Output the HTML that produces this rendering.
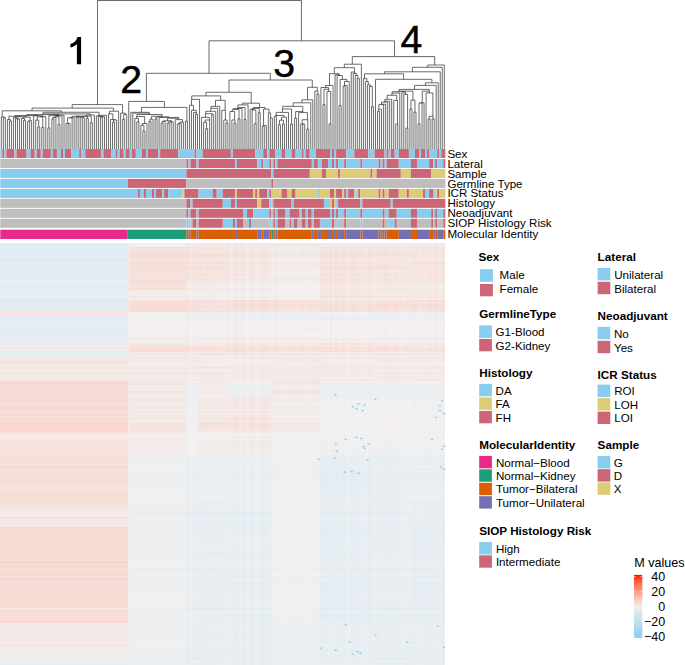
<!DOCTYPE html>
<html><head><meta charset="utf-8"><style>
html,body{margin:0;padding:0;background:#fff;overflow:hidden;}
svg{display:block;}
text{font-family:"Liberation Sans",sans-serif;}
</style></head><body>
<svg width="685" height="665" viewBox="0 0 685 665">
<rect width="685" height="665" fill="#fff"/>
<g shape-rendering="crispEdges">
<rect x="0.3" y="243" width="127.7" height="2" fill="#e6edf2"/>
<rect x="128.0" y="243" width="58.0" height="2" fill="#f3edec"/>
<rect x="186.0" y="243" width="12.0" height="2" fill="#f4e7e4"/>
<rect x="198.0" y="243" width="30.0" height="2" fill="#f5e5e1"/>
<rect x="228.0" y="243" width="44.0" height="2" fill="#f4e6e3"/>
<rect x="272.0" y="243" width="48.0" height="2" fill="#f5e5e1"/>
<rect x="320.0" y="243" width="54.0" height="2" fill="#f4e7e4"/>
<rect x="374.0" y="243" width="38.0" height="2" fill="#f4e6e3"/>
<rect x="412.0" y="243" width="33.3" height="2" fill="#f4e6e3"/>
<rect x="0.3" y="245" width="127.7" height="2" fill="#e4edf2"/>
<rect x="128.0" y="245" width="58.0" height="2" fill="#f2f0ef"/>
<rect x="186.0" y="245" width="12.0" height="2" fill="#f3ecea"/>
<rect x="198.0" y="245" width="30.0" height="2" fill="#f4e7e3"/>
<rect x="228.0" y="245" width="44.0" height="2" fill="#f4e9e7"/>
<rect x="272.0" y="245" width="48.0" height="2" fill="#f4e8e6"/>
<rect x="320.0" y="245" width="54.0" height="2" fill="#f3eae9"/>
<rect x="374.0" y="245" width="38.0" height="2" fill="#f3ebe9"/>
<rect x="412.0" y="245" width="33.3" height="2" fill="#f3ebe9"/>
<rect x="0.3" y="247" width="127.7" height="1" fill="#e4edf2"/>
<rect x="128.0" y="247" width="58.0" height="1" fill="#f7dcd5"/>
<rect x="186.0" y="247" width="12.0" height="1" fill="#f6e0da"/>
<rect x="198.0" y="247" width="30.0" height="1" fill="#f5e2de"/>
<rect x="228.0" y="247" width="44.0" height="1" fill="#f4e6e3"/>
<rect x="272.0" y="247" width="48.0" height="1" fill="#f3ebe9"/>
<rect x="320.0" y="247" width="54.0" height="1" fill="#f6dfd9"/>
<rect x="374.0" y="247" width="38.0" height="1" fill="#f5e2de"/>
<rect x="412.0" y="247" width="33.3" height="1" fill="#f5e2dd"/>
<rect x="0.3" y="248" width="127.7" height="1" fill="#e0ecf3"/>
<rect x="128.0" y="248" width="58.0" height="1" fill="#f5e4e0"/>
<rect x="186.0" y="248" width="12.0" height="1" fill="#f5e5e1"/>
<rect x="198.0" y="248" width="30.0" height="1" fill="#f5e1dc"/>
<rect x="228.0" y="248" width="44.0" height="1" fill="#f3eae8"/>
<rect x="272.0" y="248" width="48.0" height="1" fill="#f2eeee"/>
<rect x="320.0" y="248" width="54.0" height="1" fill="#f4e7e4"/>
<rect x="374.0" y="248" width="38.0" height="1" fill="#f4e8e5"/>
<rect x="412.0" y="248" width="33.3" height="1" fill="#f4e7e4"/>
<rect x="0.3" y="249" width="127.7" height="1" fill="#e7edf2"/>
<rect x="128.0" y="249" width="58.0" height="1" fill="#f7dbd3"/>
<rect x="186.0" y="249" width="12.0" height="1" fill="#f6ddd6"/>
<rect x="198.0" y="249" width="30.0" height="1" fill="#f6ddd7"/>
<rect x="228.0" y="249" width="44.0" height="1" fill="#f5e1dc"/>
<rect x="272.0" y="249" width="48.0" height="1" fill="#f5e5e1"/>
<rect x="320.0" y="249" width="54.0" height="1" fill="#f6ddd7"/>
<rect x="374.0" y="249" width="38.0" height="1" fill="#f6dfd9"/>
<rect x="412.0" y="249" width="33.3" height="1" fill="#f7ddd6"/>
<rect x="0.3" y="250" width="127.7" height="1" fill="#deebf3"/>
<rect x="128.0" y="250" width="58.0" height="1" fill="#f4e8e5"/>
<rect x="186.0" y="250" width="12.0" height="1" fill="#f4e9e7"/>
<rect x="198.0" y="250" width="30.0" height="1" fill="#f3ebe9"/>
<rect x="228.0" y="250" width="44.0" height="1" fill="#f2efef"/>
<rect x="272.0" y="250" width="48.0" height="1" fill="#efeff0"/>
<rect x="320.0" y="250" width="54.0" height="1" fill="#f4e9e6"/>
<rect x="374.0" y="250" width="38.0" height="1" fill="#f3edec"/>
<rect x="412.0" y="250" width="33.3" height="1" fill="#f4e9e6"/>
<rect x="0.3" y="251" width="127.7" height="1" fill="#e8edf1"/>
<rect x="128.0" y="251" width="58.0" height="1" fill="#f7dad3"/>
<rect x="186.0" y="251" width="12.0" height="1" fill="#f6ded8"/>
<rect x="198.0" y="251" width="30.0" height="1" fill="#f6e0da"/>
<rect x="228.0" y="251" width="44.0" height="1" fill="#f5e2dd"/>
<rect x="272.0" y="251" width="48.0" height="1" fill="#f4e7e4"/>
<rect x="320.0" y="251" width="54.0" height="1" fill="#f7ddd6"/>
<rect x="374.0" y="251" width="38.0" height="1" fill="#f6ded8"/>
<rect x="412.0" y="251" width="33.3" height="1" fill="#f6e0db"/>
<rect x="0.3" y="252" width="127.7" height="2" fill="#e3ecf2"/>
<rect x="128.0" y="252" width="58.0" height="2" fill="#f6e1db"/>
<rect x="186.0" y="252" width="12.0" height="2" fill="#f5e2dd"/>
<rect x="198.0" y="252" width="30.0" height="2" fill="#f5e2de"/>
<rect x="228.0" y="252" width="44.0" height="2" fill="#f5e3de"/>
<rect x="272.0" y="252" width="48.0" height="2" fill="#f3ebea"/>
<rect x="320.0" y="252" width="54.0" height="2" fill="#f5e3df"/>
<rect x="374.0" y="252" width="38.0" height="2" fill="#f5e4df"/>
<rect x="412.0" y="252" width="33.3" height="2" fill="#f5e5e1"/>
<rect x="0.3" y="254" width="127.7" height="2" fill="#e7edf2"/>
<rect x="128.0" y="254" width="58.0" height="2" fill="#f7dbd4"/>
<rect x="186.0" y="254" width="12.0" height="2" fill="#f6ddd7"/>
<rect x="198.0" y="254" width="30.0" height="2" fill="#f7dcd5"/>
<rect x="228.0" y="254" width="44.0" height="2" fill="#f6e0db"/>
<rect x="272.0" y="254" width="48.0" height="2" fill="#f5e5e1"/>
<rect x="320.0" y="254" width="54.0" height="2" fill="#f6ddd6"/>
<rect x="374.0" y="254" width="38.0" height="2" fill="#f6dfd8"/>
<rect x="412.0" y="254" width="33.3" height="2" fill="#f6e0db"/>
<rect x="0.3" y="256" width="127.7" height="1" fill="#e7edf2"/>
<rect x="128.0" y="256" width="58.0" height="1" fill="#f7dcd4"/>
<rect x="186.0" y="256" width="12.0" height="1" fill="#f7dcd5"/>
<rect x="198.0" y="256" width="30.0" height="1" fill="#f6dfd9"/>
<rect x="228.0" y="256" width="44.0" height="1" fill="#f6e1dc"/>
<rect x="272.0" y="256" width="48.0" height="1" fill="#f4e6e3"/>
<rect x="320.0" y="256" width="54.0" height="1" fill="#f6ded8"/>
<rect x="374.0" y="256" width="38.0" height="1" fill="#f5e2dd"/>
<rect x="412.0" y="256" width="33.3" height="1" fill="#f6e1dc"/>
<rect x="0.3" y="257" width="127.7" height="1" fill="#e2ecf2"/>
<rect x="128.0" y="257" width="58.0" height="1" fill="#f6e1db"/>
<rect x="186.0" y="257" width="12.0" height="1" fill="#f5e1dc"/>
<rect x="198.0" y="257" width="30.0" height="1" fill="#f5e3de"/>
<rect x="228.0" y="257" width="44.0" height="1" fill="#f4e8e5"/>
<rect x="272.0" y="257" width="48.0" height="1" fill="#f3eeed"/>
<rect x="320.0" y="257" width="54.0" height="1" fill="#f5e4e0"/>
<rect x="374.0" y="257" width="38.0" height="1" fill="#f4e6e2"/>
<rect x="412.0" y="257" width="33.3" height="1" fill="#f4e6e3"/>
<rect x="0.3" y="258" width="127.7" height="2" fill="#e1ecf2"/>
<rect x="128.0" y="258" width="58.0" height="2" fill="#f5e1dc"/>
<rect x="186.0" y="258" width="12.0" height="2" fill="#f5e3df"/>
<rect x="198.0" y="258" width="30.0" height="2" fill="#f5e3de"/>
<rect x="228.0" y="258" width="44.0" height="2" fill="#f4e8e5"/>
<rect x="272.0" y="258" width="48.0" height="2" fill="#f3eeed"/>
<rect x="320.0" y="258" width="54.0" height="2" fill="#f5e5e1"/>
<rect x="374.0" y="258" width="38.0" height="2" fill="#f5e5e1"/>
<rect x="412.0" y="258" width="33.3" height="2" fill="#f4e7e4"/>
<rect x="0.3" y="260" width="127.7" height="1" fill="#deebf3"/>
<rect x="128.0" y="260" width="58.0" height="1" fill="#f5e5e1"/>
<rect x="186.0" y="260" width="12.0" height="1" fill="#f4e8e5"/>
<rect x="198.0" y="260" width="30.0" height="1" fill="#f3eae8"/>
<rect x="228.0" y="260" width="44.0" height="1" fill="#f3ecea"/>
<rect x="272.0" y="260" width="48.0" height="1" fill="#f0f0f0"/>
<rect x="320.0" y="260" width="54.0" height="1" fill="#f4e8e6"/>
<rect x="374.0" y="260" width="38.0" height="1" fill="#f4e9e7"/>
<rect x="412.0" y="260" width="33.3" height="1" fill="#f4e7e4"/>
<rect x="0.3" y="261" width="127.7" height="3" fill="#e6edf2"/>
<rect x="128.0" y="261" width="58.0" height="3" fill="#f6ddd6"/>
<rect x="186.0" y="261" width="12.0" height="3" fill="#f6dfd9"/>
<rect x="198.0" y="261" width="30.0" height="3" fill="#f6ded8"/>
<rect x="228.0" y="261" width="44.0" height="3" fill="#f5e2dd"/>
<rect x="272.0" y="261" width="48.0" height="3" fill="#f4e9e7"/>
<rect x="320.0" y="261" width="54.0" height="3" fill="#f6dfd9"/>
<rect x="374.0" y="261" width="38.0" height="3" fill="#f5e3de"/>
<rect x="412.0" y="261" width="33.3" height="3" fill="#f6dfd9"/>
<rect x="0.3" y="264" width="127.7" height="1" fill="#e1ecf2"/>
<rect x="128.0" y="264" width="58.0" height="1" fill="#f5e2dd"/>
<rect x="186.0" y="264" width="12.0" height="1" fill="#f5e4e0"/>
<rect x="198.0" y="264" width="30.0" height="1" fill="#f5e3df"/>
<rect x="228.0" y="264" width="44.0" height="1" fill="#f4e8e5"/>
<rect x="272.0" y="264" width="48.0" height="1" fill="#f3ecea"/>
<rect x="320.0" y="264" width="54.0" height="1" fill="#f5e5e1"/>
<rect x="374.0" y="264" width="38.0" height="1" fill="#f4e6e2"/>
<rect x="412.0" y="264" width="33.3" height="1" fill="#f4e6e2"/>
<rect x="0.3" y="265" width="127.7" height="3" fill="#e5edf2"/>
<rect x="128.0" y="265" width="58.0" height="3" fill="#f6ded8"/>
<rect x="186.0" y="265" width="12.0" height="3" fill="#f6dfda"/>
<rect x="198.0" y="265" width="30.0" height="3" fill="#f6dfd9"/>
<rect x="228.0" y="265" width="44.0" height="3" fill="#f5e4df"/>
<rect x="272.0" y="265" width="48.0" height="3" fill="#f3eae8"/>
<rect x="320.0" y="265" width="54.0" height="3" fill="#f6e0da"/>
<rect x="374.0" y="265" width="38.0" height="3" fill="#f6e0db"/>
<rect x="412.0" y="265" width="33.3" height="3" fill="#f5e3df"/>
<rect x="0.3" y="268" width="127.7" height="1" fill="#e3ecf2"/>
<rect x="128.0" y="268" width="58.0" height="1" fill="#f6ded8"/>
<rect x="186.0" y="268" width="12.0" height="1" fill="#f6ded7"/>
<rect x="198.0" y="268" width="30.0" height="1" fill="#f6ddd7"/>
<rect x="228.0" y="268" width="44.0" height="1" fill="#f5e5e1"/>
<rect x="272.0" y="268" width="48.0" height="1" fill="#f3ebe9"/>
<rect x="320.0" y="268" width="54.0" height="1" fill="#f6ded8"/>
<rect x="374.0" y="268" width="38.0" height="1" fill="#f6e0db"/>
<rect x="412.0" y="268" width="33.3" height="1" fill="#f5e3de"/>
<rect x="0.3" y="269" width="127.7" height="2" fill="#e2ecf2"/>
<rect x="128.0" y="269" width="58.0" height="2" fill="#f6e0da"/>
<rect x="186.0" y="269" width="12.0" height="2" fill="#f5e3de"/>
<rect x="198.0" y="269" width="30.0" height="2" fill="#f5e2dd"/>
<rect x="228.0" y="269" width="44.0" height="2" fill="#f4e7e3"/>
<rect x="272.0" y="269" width="48.0" height="2" fill="#f3eceb"/>
<rect x="320.0" y="269" width="54.0" height="2" fill="#f5e1dc"/>
<rect x="374.0" y="269" width="38.0" height="2" fill="#f4e6e3"/>
<rect x="412.0" y="269" width="33.3" height="2" fill="#f5e2dd"/>
<rect x="0.3" y="271" width="127.7" height="3" fill="#e1ecf2"/>
<rect x="128.0" y="271" width="58.0" height="3" fill="#f5e2dc"/>
<rect x="186.0" y="271" width="12.0" height="3" fill="#f5e4e0"/>
<rect x="198.0" y="271" width="30.0" height="3" fill="#f5e4e0"/>
<rect x="228.0" y="271" width="44.0" height="3" fill="#f4e8e6"/>
<rect x="272.0" y="271" width="48.0" height="3" fill="#f2efee"/>
<rect x="320.0" y="271" width="54.0" height="3" fill="#f5e5e1"/>
<rect x="374.0" y="271" width="38.0" height="3" fill="#f4e6e2"/>
<rect x="412.0" y="271" width="33.3" height="3" fill="#f5e4e0"/>
<rect x="0.3" y="274" width="127.7" height="2" fill="#e3ecf2"/>
<rect x="128.0" y="274" width="58.0" height="2" fill="#f6e1dc"/>
<rect x="186.0" y="274" width="12.0" height="2" fill="#f6e0da"/>
<rect x="198.0" y="274" width="30.0" height="2" fill="#f6e1db"/>
<rect x="228.0" y="274" width="44.0" height="2" fill="#f5e4e0"/>
<rect x="272.0" y="274" width="48.0" height="2" fill="#f3ebea"/>
<rect x="320.0" y="274" width="54.0" height="2" fill="#f5e1dc"/>
<rect x="374.0" y="274" width="38.0" height="2" fill="#f5e2de"/>
<rect x="412.0" y="274" width="33.3" height="2" fill="#f5e4df"/>
<rect x="0.3" y="276" width="127.7" height="2" fill="#e2ecf2"/>
<rect x="128.0" y="276" width="58.0" height="2" fill="#f5e2dd"/>
<rect x="186.0" y="276" width="12.0" height="2" fill="#f5e3de"/>
<rect x="198.0" y="276" width="30.0" height="2" fill="#f5e5e1"/>
<rect x="228.0" y="276" width="44.0" height="2" fill="#f4e9e7"/>
<rect x="272.0" y="276" width="48.0" height="2" fill="#f3edec"/>
<rect x="320.0" y="276" width="54.0" height="2" fill="#f5e4e0"/>
<rect x="374.0" y="276" width="38.0" height="2" fill="#f5e5e1"/>
<rect x="412.0" y="276" width="33.3" height="2" fill="#f5e5e1"/>
<rect x="0.3" y="278" width="127.7" height="1" fill="#e5edf2"/>
<rect x="128.0" y="278" width="58.0" height="1" fill="#f6e0db"/>
<rect x="186.0" y="278" width="12.0" height="1" fill="#f6dfd8"/>
<rect x="198.0" y="278" width="30.0" height="1" fill="#f6e0db"/>
<rect x="228.0" y="278" width="44.0" height="1" fill="#f5e5e1"/>
<rect x="272.0" y="278" width="48.0" height="1" fill="#f4e8e5"/>
<rect x="320.0" y="278" width="54.0" height="1" fill="#f6e1dc"/>
<rect x="374.0" y="278" width="38.0" height="1" fill="#f5e2dd"/>
<rect x="412.0" y="278" width="33.3" height="1" fill="#f5e2dd"/>
<rect x="0.3" y="279" width="127.7" height="1" fill="#e4edf2"/>
<rect x="128.0" y="279" width="58.0" height="1" fill="#f6dfda"/>
<rect x="186.0" y="279" width="12.0" height="1" fill="#f6e0da"/>
<rect x="198.0" y="279" width="30.0" height="1" fill="#f6e0db"/>
<rect x="228.0" y="279" width="44.0" height="1" fill="#f4e6e3"/>
<rect x="272.0" y="279" width="48.0" height="1" fill="#f3eae8"/>
<rect x="320.0" y="279" width="54.0" height="1" fill="#f6e0db"/>
<rect x="374.0" y="279" width="38.0" height="1" fill="#f5e1dc"/>
<rect x="412.0" y="279" width="33.3" height="1" fill="#f5e3de"/>
<rect x="0.3" y="280" width="127.7" height="2" fill="#e8eef1"/>
<rect x="128.0" y="280" width="58.0" height="2" fill="#f7dbd4"/>
<rect x="186.0" y="280" width="12.0" height="2" fill="#f4e6e2"/>
<rect x="198.0" y="280" width="30.0" height="2" fill="#f5e5e1"/>
<rect x="228.0" y="280" width="44.0" height="2" fill="#f4e9e6"/>
<rect x="272.0" y="280" width="48.0" height="2" fill="#f3ebe9"/>
<rect x="320.0" y="280" width="54.0" height="2" fill="#f6e0da"/>
<rect x="374.0" y="280" width="38.0" height="2" fill="#f6e1db"/>
<rect x="412.0" y="280" width="33.3" height="2" fill="#f5e3de"/>
<rect x="0.3" y="282" width="127.7" height="1" fill="#e3ecf2"/>
<rect x="128.0" y="282" width="58.0" height="1" fill="#f6ddd7"/>
<rect x="186.0" y="282" width="12.0" height="1" fill="#f4e9e6"/>
<rect x="198.0" y="282" width="30.0" height="1" fill="#f4e7e4"/>
<rect x="228.0" y="282" width="44.0" height="1" fill="#f3eae8"/>
<rect x="272.0" y="282" width="48.0" height="1" fill="#f2efee"/>
<rect x="320.0" y="282" width="54.0" height="1" fill="#f5e5e2"/>
<rect x="374.0" y="282" width="38.0" height="1" fill="#f4e6e2"/>
<rect x="412.0" y="282" width="33.3" height="1" fill="#f4e6e3"/>
<rect x="0.3" y="283" width="127.7" height="2" fill="#e6edf2"/>
<rect x="128.0" y="283" width="58.0" height="2" fill="#f6dfd9"/>
<rect x="186.0" y="283" width="12.0" height="2" fill="#f3ebea"/>
<rect x="198.0" y="283" width="30.0" height="2" fill="#f4e9e6"/>
<rect x="228.0" y="283" width="44.0" height="2" fill="#f3ecea"/>
<rect x="272.0" y="283" width="48.0" height="2" fill="#f2efee"/>
<rect x="320.0" y="283" width="54.0" height="2" fill="#f4e7e4"/>
<rect x="374.0" y="283" width="38.0" height="2" fill="#f4e6e3"/>
<rect x="412.0" y="283" width="33.3" height="2" fill="#f4e8e5"/>
<rect x="0.3" y="285" width="127.7" height="1" fill="#e2ecf2"/>
<rect x="128.0" y="285" width="58.0" height="1" fill="#f5e3de"/>
<rect x="186.0" y="285" width="12.0" height="1" fill="#f2eeed"/>
<rect x="198.0" y="285" width="30.0" height="1" fill="#f3ecea"/>
<rect x="228.0" y="285" width="44.0" height="1" fill="#f2f0ef"/>
<rect x="272.0" y="285" width="48.0" height="1" fill="#f1f0f0"/>
<rect x="320.0" y="285" width="54.0" height="1" fill="#f4e8e6"/>
<rect x="374.0" y="285" width="38.0" height="1" fill="#f3eeed"/>
<rect x="412.0" y="285" width="33.3" height="1" fill="#f3eeed"/>
<rect x="0.3" y="286" width="127.7" height="2" fill="#e0ecf3"/>
<rect x="128.0" y="286" width="58.0" height="2" fill="#f4e5e2"/>
<rect x="186.0" y="286" width="12.0" height="2" fill="#f3eeed"/>
<rect x="198.0" y="286" width="30.0" height="2" fill="#f2eeee"/>
<rect x="228.0" y="286" width="44.0" height="2" fill="#f3eeed"/>
<rect x="272.0" y="286" width="48.0" height="2" fill="#f1f0f0"/>
<rect x="320.0" y="286" width="54.0" height="2" fill="#f4eae7"/>
<rect x="374.0" y="286" width="38.0" height="2" fill="#f3eae8"/>
<rect x="412.0" y="286" width="33.3" height="2" fill="#f3edec"/>
<rect x="0.3" y="288" width="127.7" height="2" fill="#e6edf2"/>
<rect x="128.0" y="288" width="58.0" height="2" fill="#f6ded7"/>
<rect x="186.0" y="288" width="12.0" height="2" fill="#f4e8e5"/>
<rect x="198.0" y="288" width="30.0" height="2" fill="#f4e9e7"/>
<rect x="228.0" y="288" width="44.0" height="2" fill="#f4e7e4"/>
<rect x="272.0" y="288" width="48.0" height="2" fill="#f3edec"/>
<rect x="320.0" y="288" width="54.0" height="2" fill="#f5e4e0"/>
<rect x="374.0" y="288" width="38.0" height="2" fill="#f4e6e2"/>
<rect x="412.0" y="288" width="33.3" height="2" fill="#f4e6e3"/>
<rect x="0.3" y="290" width="127.7" height="2" fill="#e7edf2"/>
<rect x="128.0" y="290" width="58.0" height="2" fill="#f3ecea"/>
<rect x="186.0" y="290" width="12.0" height="2" fill="#f3edeb"/>
<rect x="198.0" y="290" width="30.0" height="2" fill="#f3eceb"/>
<rect x="228.0" y="290" width="44.0" height="2" fill="#f3ecea"/>
<rect x="272.0" y="290" width="48.0" height="2" fill="#f3eeed"/>
<rect x="320.0" y="290" width="54.0" height="2" fill="#f5e5e1"/>
<rect x="374.0" y="290" width="38.0" height="2" fill="#f4e7e3"/>
<rect x="412.0" y="290" width="33.3" height="2" fill="#f4e8e5"/>
<rect x="0.3" y="292" width="127.7" height="1" fill="#e0ebf3"/>
<rect x="128.0" y="292" width="58.0" height="1" fill="#f0eff0"/>
<rect x="186.0" y="292" width="12.0" height="1" fill="#f2efee"/>
<rect x="198.0" y="292" width="30.0" height="1" fill="#f2eeee"/>
<rect x="228.0" y="292" width="44.0" height="1" fill="#f1f0f0"/>
<rect x="272.0" y="292" width="48.0" height="1" fill="#f0eff0"/>
<rect x="320.0" y="292" width="54.0" height="1" fill="#f3ebea"/>
<rect x="374.0" y="292" width="38.0" height="1" fill="#f3ebe9"/>
<rect x="412.0" y="292" width="33.3" height="1" fill="#f3edec"/>
<rect x="0.3" y="293" width="127.7" height="3" fill="#e6edf2"/>
<rect x="128.0" y="293" width="58.0" height="3" fill="#f3ecea"/>
<rect x="186.0" y="293" width="12.0" height="3" fill="#f3edec"/>
<rect x="198.0" y="293" width="30.0" height="3" fill="#f3edec"/>
<rect x="228.0" y="293" width="44.0" height="3" fill="#f2eeee"/>
<rect x="272.0" y="293" width="48.0" height="3" fill="#f1f0f0"/>
<rect x="320.0" y="293" width="54.0" height="3" fill="#f4e6e3"/>
<rect x="374.0" y="293" width="38.0" height="3" fill="#f4e9e6"/>
<rect x="412.0" y="293" width="33.3" height="3" fill="#f4e8e5"/>
<rect x="0.3" y="296" width="127.7" height="2" fill="#e8eef1"/>
<rect x="128.0" y="296" width="58.0" height="2" fill="#f4e8e6"/>
<rect x="186.0" y="296" width="12.0" height="2" fill="#f3eae8"/>
<rect x="198.0" y="296" width="30.0" height="2" fill="#f4e9e6"/>
<rect x="228.0" y="296" width="44.0" height="2" fill="#f4e9e6"/>
<rect x="272.0" y="296" width="48.0" height="2" fill="#f3eceb"/>
<rect x="320.0" y="296" width="54.0" height="2" fill="#f6e0db"/>
<rect x="374.0" y="296" width="38.0" height="2" fill="#f5e4e0"/>
<rect x="412.0" y="296" width="33.3" height="2" fill="#f5e4df"/>
<rect x="0.3" y="298" width="127.7" height="1" fill="#e3ecf2"/>
<rect x="128.0" y="298" width="58.0" height="1" fill="#f3ebe9"/>
<rect x="186.0" y="298" width="12.0" height="1" fill="#f2efee"/>
<rect x="198.0" y="298" width="30.0" height="1" fill="#f2f0f0"/>
<rect x="228.0" y="298" width="44.0" height="1" fill="#f3edec"/>
<rect x="272.0" y="298" width="48.0" height="1" fill="#f1f0f0"/>
<rect x="320.0" y="298" width="54.0" height="1" fill="#f4e9e6"/>
<rect x="374.0" y="298" width="38.0" height="1" fill="#f3eae8"/>
<rect x="412.0" y="298" width="33.3" height="1" fill="#f3ebe9"/>
<rect x="0.3" y="299" width="127.7" height="1" fill="#dfebf3"/>
<rect x="128.0" y="299" width="58.0" height="1" fill="#f2f0f0"/>
<rect x="186.0" y="299" width="12.0" height="1" fill="#efeff0"/>
<rect x="198.0" y="299" width="30.0" height="1" fill="#f0eff0"/>
<rect x="228.0" y="299" width="44.0" height="1" fill="#f1f0f0"/>
<rect x="272.0" y="299" width="48.0" height="1" fill="#edeff1"/>
<rect x="320.0" y="299" width="54.0" height="1" fill="#f3ecea"/>
<rect x="374.0" y="299" width="38.0" height="1" fill="#f3eded"/>
<rect x="412.0" y="299" width="33.3" height="1" fill="#f1f0f0"/>
<rect x="0.3" y="300" width="127.7" height="2" fill="#e4ecf2"/>
<rect x="128.0" y="300" width="58.0" height="2" fill="#f6e0da"/>
<rect x="186.0" y="300" width="12.0" height="2" fill="#f5e2dd"/>
<rect x="198.0" y="300" width="30.0" height="2" fill="#f6ded8"/>
<rect x="228.0" y="300" width="44.0" height="2" fill="#f6ded8"/>
<rect x="272.0" y="300" width="48.0" height="2" fill="#f6dfd9"/>
<rect x="320.0" y="300" width="54.0" height="2" fill="#f6e0da"/>
<rect x="374.0" y="300" width="38.0" height="2" fill="#f6e0da"/>
<rect x="412.0" y="300" width="33.3" height="2" fill="#f6ded7"/>
<rect x="0.3" y="302" width="127.7" height="1" fill="#e3ecf2"/>
<rect x="128.0" y="302" width="58.0" height="1" fill="#f6dfd9"/>
<rect x="186.0" y="302" width="12.0" height="1" fill="#f6dfd9"/>
<rect x="198.0" y="302" width="30.0" height="1" fill="#f5e2dc"/>
<rect x="228.0" y="302" width="44.0" height="1" fill="#f6e1db"/>
<rect x="272.0" y="302" width="48.0" height="1" fill="#f6e1db"/>
<rect x="320.0" y="302" width="54.0" height="1" fill="#f6e1db"/>
<rect x="374.0" y="302" width="38.0" height="1" fill="#f6e0db"/>
<rect x="412.0" y="302" width="33.3" height="1" fill="#f5e2dd"/>
<rect x="0.3" y="303" width="127.7" height="1" fill="#e3ecf2"/>
<rect x="128.0" y="303" width="58.0" height="1" fill="#f6e0da"/>
<rect x="186.0" y="303" width="12.0" height="1" fill="#f5e1dc"/>
<rect x="198.0" y="303" width="30.0" height="1" fill="#f6e1db"/>
<rect x="228.0" y="303" width="44.0" height="1" fill="#f6dfda"/>
<rect x="272.0" y="303" width="48.0" height="1" fill="#f5e2dd"/>
<rect x="320.0" y="303" width="54.0" height="1" fill="#f5e2de"/>
<rect x="374.0" y="303" width="38.0" height="1" fill="#f6e0db"/>
<rect x="412.0" y="303" width="33.3" height="1" fill="#f5e3de"/>
<rect x="0.3" y="304" width="127.7" height="1" fill="#e6edf2"/>
<rect x="128.0" y="304" width="58.0" height="1" fill="#f7dbd4"/>
<rect x="186.0" y="304" width="12.0" height="1" fill="#f6e1dc"/>
<rect x="198.0" y="304" width="30.0" height="1" fill="#f6dfd9"/>
<rect x="228.0" y="304" width="44.0" height="1" fill="#f6ddd7"/>
<rect x="272.0" y="304" width="48.0" height="1" fill="#f6ded7"/>
<rect x="320.0" y="304" width="54.0" height="1" fill="#f6dfd9"/>
<rect x="374.0" y="304" width="38.0" height="1" fill="#f7dcd5"/>
<rect x="412.0" y="304" width="33.3" height="1" fill="#f6ded8"/>
<rect x="0.3" y="305" width="127.7" height="1" fill="#e5edf2"/>
<rect x="128.0" y="305" width="58.0" height="1" fill="#f7dbd3"/>
<rect x="186.0" y="305" width="12.0" height="1" fill="#f6ddd6"/>
<rect x="198.0" y="305" width="30.0" height="1" fill="#f6e1db"/>
<rect x="228.0" y="305" width="44.0" height="1" fill="#f7ddd6"/>
<rect x="272.0" y="305" width="48.0" height="1" fill="#f6e0da"/>
<rect x="320.0" y="305" width="54.0" height="1" fill="#f6ded8"/>
<rect x="374.0" y="305" width="38.0" height="1" fill="#f6ddd7"/>
<rect x="412.0" y="305" width="33.3" height="1" fill="#f7dcd5"/>
<rect x="0.3" y="306" width="127.7" height="1" fill="#e7edf2"/>
<rect x="128.0" y="306" width="58.0" height="1" fill="#f7dbd4"/>
<rect x="186.0" y="306" width="12.0" height="1" fill="#f7dad2"/>
<rect x="198.0" y="306" width="30.0" height="1" fill="#f6ddd6"/>
<rect x="228.0" y="306" width="44.0" height="1" fill="#f7dad3"/>
<rect x="272.0" y="306" width="48.0" height="1" fill="#f7ddd6"/>
<rect x="320.0" y="306" width="54.0" height="1" fill="#f7ddd6"/>
<rect x="374.0" y="306" width="38.0" height="1" fill="#f7d9d1"/>
<rect x="412.0" y="306" width="33.3" height="1" fill="#f7dcd5"/>
<rect x="0.3" y="307" width="127.7" height="1" fill="#e3ecf2"/>
<rect x="128.0" y="307" width="58.0" height="1" fill="#f6ddd7"/>
<rect x="186.0" y="307" width="12.0" height="1" fill="#f5e1dc"/>
<rect x="198.0" y="307" width="30.0" height="1" fill="#f6ded8"/>
<rect x="228.0" y="307" width="44.0" height="1" fill="#f6e0db"/>
<rect x="272.0" y="307" width="48.0" height="1" fill="#f6dfda"/>
<rect x="320.0" y="307" width="54.0" height="1" fill="#f6dfd9"/>
<rect x="374.0" y="307" width="38.0" height="1" fill="#f6dfd9"/>
<rect x="412.0" y="307" width="33.3" height="1" fill="#f6dfd9"/>
<rect x="0.3" y="308" width="127.7" height="1" fill="#e5edf2"/>
<rect x="128.0" y="308" width="58.0" height="1" fill="#f7d9d1"/>
<rect x="186.0" y="308" width="12.0" height="1" fill="#f7ddd6"/>
<rect x="198.0" y="308" width="30.0" height="1" fill="#f6e0da"/>
<rect x="228.0" y="308" width="44.0" height="1" fill="#f6ddd7"/>
<rect x="272.0" y="308" width="48.0" height="1" fill="#f6ded8"/>
<rect x="320.0" y="308" width="54.0" height="1" fill="#f7ddd6"/>
<rect x="374.0" y="308" width="38.0" height="1" fill="#f6dfd9"/>
<rect x="412.0" y="308" width="33.3" height="1" fill="#f6ded8"/>
<rect x="0.3" y="309" width="127.7" height="2" fill="#e3ecf2"/>
<rect x="128.0" y="309" width="58.0" height="2" fill="#f6dfd9"/>
<rect x="186.0" y="309" width="12.0" height="2" fill="#f5e2dd"/>
<rect x="198.0" y="309" width="30.0" height="2" fill="#f5e3de"/>
<rect x="228.0" y="309" width="44.0" height="2" fill="#f5e1dc"/>
<rect x="272.0" y="309" width="48.0" height="2" fill="#f5e4e0"/>
<rect x="320.0" y="309" width="54.0" height="2" fill="#f6e0da"/>
<rect x="374.0" y="309" width="38.0" height="2" fill="#f5e2de"/>
<rect x="412.0" y="309" width="33.3" height="2" fill="#f5e2dd"/>
<rect x="0.3" y="311" width="127.7" height="1" fill="#e4ecf2"/>
<rect x="128.0" y="311" width="58.0" height="1" fill="#f7dcd5"/>
<rect x="186.0" y="311" width="12.0" height="1" fill="#f5e2dd"/>
<rect x="198.0" y="311" width="30.0" height="1" fill="#f6ddd6"/>
<rect x="228.0" y="311" width="44.0" height="1" fill="#f5e1dc"/>
<rect x="272.0" y="311" width="48.0" height="1" fill="#f6e0db"/>
<rect x="320.0" y="311" width="54.0" height="1" fill="#f6e0da"/>
<rect x="374.0" y="311" width="38.0" height="1" fill="#f6e1db"/>
<rect x="412.0" y="311" width="33.3" height="1" fill="#f6e0db"/>
<rect x="0.3" y="312" width="127.7" height="1" fill="#f5e5e1"/>
<rect x="128.0" y="312" width="58.0" height="1" fill="#f2f0f0"/>
<rect x="186.0" y="312" width="12.0" height="1" fill="#eeeff1"/>
<rect x="198.0" y="312" width="30.0" height="1" fill="#efeff0"/>
<rect x="228.0" y="312" width="44.0" height="1" fill="#eeeff1"/>
<rect x="272.0" y="312" width="48.0" height="1" fill="#eeeff1"/>
<rect x="320.0" y="312" width="54.0" height="1" fill="#efeff0"/>
<rect x="374.0" y="312" width="38.0" height="1" fill="#eeeff1"/>
<rect x="412.0" y="312" width="33.3" height="1" fill="#efeff0"/>
<rect x="0.3" y="313" width="127.7" height="1" fill="#f4e8e5"/>
<rect x="128.0" y="313" width="58.0" height="1" fill="#f1f0f0"/>
<rect x="186.0" y="313" width="12.0" height="1" fill="#edeff1"/>
<rect x="198.0" y="313" width="30.0" height="1" fill="#eceff1"/>
<rect x="228.0" y="313" width="44.0" height="1" fill="#eceff1"/>
<rect x="272.0" y="313" width="48.0" height="1" fill="#ebeef1"/>
<rect x="320.0" y="313" width="54.0" height="1" fill="#edeff1"/>
<rect x="374.0" y="313" width="38.0" height="1" fill="#eceef1"/>
<rect x="412.0" y="313" width="33.3" height="1" fill="#eceef1"/>
<rect x="0.3" y="314" width="127.7" height="1" fill="#f5e5e1"/>
<rect x="128.0" y="314" width="58.0" height="1" fill="#f1f0f0"/>
<rect x="186.0" y="314" width="12.0" height="1" fill="#efeff0"/>
<rect x="198.0" y="314" width="30.0" height="1" fill="#efeff0"/>
<rect x="228.0" y="314" width="44.0" height="1" fill="#efeff0"/>
<rect x="272.0" y="314" width="48.0" height="1" fill="#edeff1"/>
<rect x="320.0" y="314" width="54.0" height="1" fill="#eeeff1"/>
<rect x="374.0" y="314" width="38.0" height="1" fill="#efeff0"/>
<rect x="412.0" y="314" width="33.3" height="1" fill="#efeff0"/>
<rect x="0.3" y="315" width="127.7" height="2" fill="#e8edf1"/>
<rect x="128.0" y="315" width="58.0" height="2" fill="#f3edec"/>
<rect x="186.0" y="315" width="12.0" height="2" fill="#efeff0"/>
<rect x="198.0" y="315" width="30.0" height="2" fill="#f0eff0"/>
<rect x="228.0" y="315" width="44.0" height="2" fill="#f0f0f0"/>
<rect x="272.0" y="315" width="48.0" height="2" fill="#f0f0f0"/>
<rect x="320.0" y="315" width="54.0" height="2" fill="#f1f0f0"/>
<rect x="374.0" y="315" width="38.0" height="2" fill="#f1f0f0"/>
<rect x="412.0" y="315" width="33.3" height="2" fill="#f1f0f0"/>
<rect x="0.3" y="317" width="127.7" height="1" fill="#e1ecf2"/>
<rect x="128.0" y="317" width="58.0" height="1" fill="#f1f0f0"/>
<rect x="186.0" y="317" width="12.0" height="1" fill="#eaeef1"/>
<rect x="198.0" y="317" width="30.0" height="1" fill="#ebeef1"/>
<rect x="228.0" y="317" width="44.0" height="1" fill="#eaeef1"/>
<rect x="272.0" y="317" width="48.0" height="1" fill="#eaeef1"/>
<rect x="320.0" y="317" width="54.0" height="1" fill="#eaeef1"/>
<rect x="374.0" y="317" width="38.0" height="1" fill="#e9eef1"/>
<rect x="412.0" y="317" width="33.3" height="1" fill="#e9eef1"/>
<rect x="0.3" y="318" width="127.7" height="1" fill="#e1ecf2"/>
<rect x="128.0" y="318" width="58.0" height="1" fill="#edeff1"/>
<rect x="186.0" y="318" width="12.0" height="1" fill="#eaeef1"/>
<rect x="198.0" y="318" width="30.0" height="1" fill="#e9eef1"/>
<rect x="228.0" y="318" width="44.0" height="1" fill="#e7edf2"/>
<rect x="272.0" y="318" width="48.0" height="1" fill="#e7edf2"/>
<rect x="320.0" y="318" width="54.0" height="1" fill="#e8edf1"/>
<rect x="374.0" y="318" width="38.0" height="1" fill="#e8edf1"/>
<rect x="412.0" y="318" width="33.3" height="1" fill="#e8eef1"/>
<rect x="0.3" y="319" width="127.7" height="1" fill="#e2ecf2"/>
<rect x="128.0" y="319" width="58.0" height="1" fill="#f0f0f0"/>
<rect x="186.0" y="319" width="12.0" height="1" fill="#eceff1"/>
<rect x="198.0" y="319" width="30.0" height="1" fill="#eaeef1"/>
<rect x="228.0" y="319" width="44.0" height="1" fill="#ebeef1"/>
<rect x="272.0" y="319" width="48.0" height="1" fill="#ebeef1"/>
<rect x="320.0" y="319" width="54.0" height="1" fill="#eaeef1"/>
<rect x="374.0" y="319" width="38.0" height="1" fill="#eceef1"/>
<rect x="412.0" y="319" width="33.3" height="1" fill="#ebeef1"/>
<rect x="0.3" y="320" width="127.7" height="1" fill="#e3ecf2"/>
<rect x="128.0" y="320" width="58.0" height="1" fill="#f2f0ef"/>
<rect x="186.0" y="320" width="12.0" height="1" fill="#f2f0f0"/>
<rect x="198.0" y="320" width="30.0" height="1" fill="#f2f0f0"/>
<rect x="228.0" y="320" width="44.0" height="1" fill="#f2eeee"/>
<rect x="272.0" y="320" width="48.0" height="1" fill="#f1f0f0"/>
<rect x="320.0" y="320" width="54.0" height="1" fill="#f2f0f0"/>
<rect x="374.0" y="320" width="38.0" height="1" fill="#f2f0f0"/>
<rect x="412.0" y="320" width="33.3" height="1" fill="#f3edec"/>
<rect x="0.3" y="321" width="127.7" height="1" fill="#e4ecf2"/>
<rect x="128.0" y="321" width="58.0" height="1" fill="#f2efef"/>
<rect x="186.0" y="321" width="12.0" height="1" fill="#f2f0f0"/>
<rect x="198.0" y="321" width="30.0" height="1" fill="#f0eff0"/>
<rect x="228.0" y="321" width="44.0" height="1" fill="#f2f0f0"/>
<rect x="272.0" y="321" width="48.0" height="1" fill="#f2f0f0"/>
<rect x="320.0" y="321" width="54.0" height="1" fill="#f1f0f0"/>
<rect x="374.0" y="321" width="38.0" height="1" fill="#f3eeed"/>
<rect x="412.0" y="321" width="33.3" height="1" fill="#f2f0f0"/>
<rect x="0.3" y="322" width="127.7" height="2" fill="#e5edf2"/>
<rect x="128.0" y="322" width="58.0" height="2" fill="#f2efee"/>
<rect x="186.0" y="322" width="12.0" height="2" fill="#f3eeed"/>
<rect x="198.0" y="322" width="30.0" height="2" fill="#f3edec"/>
<rect x="228.0" y="322" width="44.0" height="2" fill="#f2efef"/>
<rect x="272.0" y="322" width="48.0" height="2" fill="#f3edec"/>
<rect x="320.0" y="322" width="54.0" height="2" fill="#f3edec"/>
<rect x="374.0" y="322" width="38.0" height="2" fill="#f3edec"/>
<rect x="412.0" y="322" width="33.3" height="2" fill="#f3edec"/>
<rect x="0.3" y="324" width="127.7" height="2" fill="#e7edf2"/>
<rect x="128.0" y="324" width="58.0" height="2" fill="#f2f0f0"/>
<rect x="186.0" y="324" width="12.0" height="2" fill="#f3edec"/>
<rect x="198.0" y="324" width="30.0" height="2" fill="#f0eff0"/>
<rect x="228.0" y="324" width="44.0" height="2" fill="#f2efef"/>
<rect x="272.0" y="324" width="48.0" height="2" fill="#f3eceb"/>
<rect x="320.0" y="324" width="54.0" height="2" fill="#f2efee"/>
<rect x="374.0" y="324" width="38.0" height="2" fill="#f2eeed"/>
<rect x="412.0" y="324" width="33.3" height="2" fill="#f3eded"/>
<rect x="0.3" y="326" width="127.7" height="1" fill="#e5edf2"/>
<rect x="128.0" y="326" width="58.0" height="1" fill="#f2eeed"/>
<rect x="186.0" y="326" width="12.0" height="1" fill="#f3eceb"/>
<rect x="198.0" y="326" width="30.0" height="1" fill="#f2eeed"/>
<rect x="228.0" y="326" width="44.0" height="1" fill="#f2efee"/>
<rect x="272.0" y="326" width="48.0" height="1" fill="#f2efee"/>
<rect x="320.0" y="326" width="54.0" height="1" fill="#f2eeee"/>
<rect x="374.0" y="326" width="38.0" height="1" fill="#f3edec"/>
<rect x="412.0" y="326" width="33.3" height="1" fill="#f2eeed"/>
<rect x="0.3" y="327" width="127.7" height="1" fill="#e2ecf2"/>
<rect x="128.0" y="327" width="58.0" height="1" fill="#f2f0f0"/>
<rect x="186.0" y="327" width="12.0" height="1" fill="#f2efef"/>
<rect x="198.0" y="327" width="30.0" height="1" fill="#f1f0f0"/>
<rect x="228.0" y="327" width="44.0" height="1" fill="#f1f0f0"/>
<rect x="272.0" y="327" width="48.0" height="1" fill="#f1f0f0"/>
<rect x="320.0" y="327" width="54.0" height="1" fill="#f1f0f0"/>
<rect x="374.0" y="327" width="38.0" height="1" fill="#f2f0f0"/>
<rect x="412.0" y="327" width="33.3" height="1" fill="#f1f0f0"/>
<rect x="0.3" y="328" width="127.7" height="1" fill="#e7edf2"/>
<rect x="128.0" y="328" width="58.0" height="1" fill="#f3eeed"/>
<rect x="186.0" y="328" width="12.0" height="1" fill="#f2efee"/>
<rect x="198.0" y="328" width="30.0" height="1" fill="#f2eeed"/>
<rect x="228.0" y="328" width="44.0" height="1" fill="#f2eeed"/>
<rect x="272.0" y="328" width="48.0" height="1" fill="#f2eeed"/>
<rect x="320.0" y="328" width="54.0" height="1" fill="#f3edec"/>
<rect x="374.0" y="328" width="38.0" height="1" fill="#f2eeee"/>
<rect x="412.0" y="328" width="33.3" height="1" fill="#f3ebea"/>
<rect x="0.3" y="329" width="127.7" height="1" fill="#e6edf2"/>
<rect x="128.0" y="329" width="58.0" height="1" fill="#f3eceb"/>
<rect x="186.0" y="329" width="12.0" height="1" fill="#f2efef"/>
<rect x="198.0" y="329" width="30.0" height="1" fill="#f3edec"/>
<rect x="228.0" y="329" width="44.0" height="1" fill="#f2efee"/>
<rect x="272.0" y="329" width="48.0" height="1" fill="#f3edec"/>
<rect x="320.0" y="329" width="54.0" height="1" fill="#f2eeee"/>
<rect x="374.0" y="329" width="38.0" height="1" fill="#f3edec"/>
<rect x="412.0" y="329" width="33.3" height="1" fill="#f3edeb"/>
<rect x="0.3" y="330" width="127.7" height="2" fill="#e6edf2"/>
<rect x="128.0" y="330" width="58.0" height="2" fill="#f2efef"/>
<rect x="186.0" y="330" width="12.0" height="2" fill="#f0f0f0"/>
<rect x="198.0" y="330" width="30.0" height="2" fill="#f2f0f0"/>
<rect x="228.0" y="330" width="44.0" height="2" fill="#f2efee"/>
<rect x="272.0" y="330" width="48.0" height="2" fill="#f3edec"/>
<rect x="320.0" y="330" width="54.0" height="2" fill="#f3eeed"/>
<rect x="374.0" y="330" width="38.0" height="2" fill="#f2efee"/>
<rect x="412.0" y="330" width="33.3" height="2" fill="#f2efee"/>
<rect x="0.3" y="332" width="127.7" height="2" fill="#e1ecf2"/>
<rect x="128.0" y="332" width="58.0" height="2" fill="#efeff0"/>
<rect x="186.0" y="332" width="12.0" height="2" fill="#f1f0f0"/>
<rect x="198.0" y="332" width="30.0" height="2" fill="#f2f0f0"/>
<rect x="228.0" y="332" width="44.0" height="2" fill="#f1f0f0"/>
<rect x="272.0" y="332" width="48.0" height="2" fill="#f2f0f0"/>
<rect x="320.0" y="332" width="54.0" height="2" fill="#f0f0f0"/>
<rect x="374.0" y="332" width="38.0" height="2" fill="#f0f0f0"/>
<rect x="412.0" y="332" width="33.3" height="2" fill="#f0eff0"/>
<rect x="0.3" y="334" width="127.7" height="3" fill="#e5edf2"/>
<rect x="128.0" y="334" width="58.0" height="3" fill="#f2f0ef"/>
<rect x="186.0" y="334" width="12.0" height="3" fill="#f2eeed"/>
<rect x="198.0" y="334" width="30.0" height="3" fill="#f1f0f0"/>
<rect x="228.0" y="334" width="44.0" height="3" fill="#f3eded"/>
<rect x="272.0" y="334" width="48.0" height="3" fill="#f2f0f0"/>
<rect x="320.0" y="334" width="54.0" height="3" fill="#f2efee"/>
<rect x="374.0" y="334" width="38.0" height="3" fill="#f0f0f0"/>
<rect x="412.0" y="334" width="33.3" height="3" fill="#f1f0f0"/>
<rect x="0.3" y="337" width="127.7" height="3" fill="#e7edf2"/>
<rect x="128.0" y="337" width="58.0" height="3" fill="#f3ecea"/>
<rect x="186.0" y="337" width="12.0" height="3" fill="#f3edec"/>
<rect x="198.0" y="337" width="30.0" height="3" fill="#f3eceb"/>
<rect x="228.0" y="337" width="44.0" height="3" fill="#f3ebe9"/>
<rect x="272.0" y="337" width="48.0" height="3" fill="#f4e9e7"/>
<rect x="320.0" y="337" width="54.0" height="3" fill="#f3edec"/>
<rect x="374.0" y="337" width="38.0" height="3" fill="#f3ecea"/>
<rect x="412.0" y="337" width="33.3" height="3" fill="#f3ebe9"/>
<rect x="0.3" y="340" width="127.7" height="1" fill="#eaeef1"/>
<rect x="128.0" y="340" width="58.0" height="1" fill="#f3edec"/>
<rect x="186.0" y="340" width="12.0" height="1" fill="#f3ecea"/>
<rect x="198.0" y="340" width="30.0" height="1" fill="#f3ebe9"/>
<rect x="228.0" y="340" width="44.0" height="1" fill="#f3eceb"/>
<rect x="272.0" y="340" width="48.0" height="1" fill="#f3ebea"/>
<rect x="320.0" y="340" width="54.0" height="1" fill="#f3eae8"/>
<rect x="374.0" y="340" width="38.0" height="1" fill="#f3ebea"/>
<rect x="412.0" y="340" width="33.3" height="1" fill="#f3ebe9"/>
<rect x="0.3" y="341" width="127.7" height="1" fill="#e4ecf2"/>
<rect x="128.0" y="341" width="58.0" height="1" fill="#f3eeed"/>
<rect x="186.0" y="341" width="12.0" height="1" fill="#f3edec"/>
<rect x="198.0" y="341" width="30.0" height="1" fill="#f2efef"/>
<rect x="228.0" y="341" width="44.0" height="1" fill="#f3eeed"/>
<rect x="272.0" y="341" width="48.0" height="1" fill="#f1f0f0"/>
<rect x="320.0" y="341" width="54.0" height="1" fill="#f2efef"/>
<rect x="374.0" y="341" width="38.0" height="1" fill="#f2efef"/>
<rect x="412.0" y="341" width="33.3" height="1" fill="#f2f0ef"/>
<rect x="0.3" y="342" width="127.7" height="1" fill="#e3ecf2"/>
<rect x="128.0" y="342" width="58.0" height="1" fill="#f2f0f0"/>
<rect x="186.0" y="342" width="12.0" height="1" fill="#f2f0f0"/>
<rect x="198.0" y="342" width="30.0" height="1" fill="#f2f0ef"/>
<rect x="228.0" y="342" width="44.0" height="1" fill="#f2efee"/>
<rect x="272.0" y="342" width="48.0" height="1" fill="#f2f0ef"/>
<rect x="320.0" y="342" width="54.0" height="1" fill="#f2efef"/>
<rect x="374.0" y="342" width="38.0" height="1" fill="#f2f0f0"/>
<rect x="412.0" y="342" width="33.3" height="1" fill="#f2f0f0"/>
<rect x="0.3" y="343" width="127.7" height="2" fill="#f4e6e3"/>
<rect x="128.0" y="343" width="58.0" height="2" fill="#f4e6e2"/>
<rect x="186.0" y="343" width="12.0" height="2" fill="#f5e5e1"/>
<rect x="198.0" y="343" width="30.0" height="2" fill="#f4e6e2"/>
<rect x="228.0" y="343" width="44.0" height="2" fill="#f5e4e0"/>
<rect x="272.0" y="343" width="48.0" height="2" fill="#f4e7e3"/>
<rect x="320.0" y="343" width="54.0" height="2" fill="#f5e3df"/>
<rect x="374.0" y="343" width="38.0" height="2" fill="#f4e6e2"/>
<rect x="412.0" y="343" width="33.3" height="2" fill="#f5e5e1"/>
<rect x="0.3" y="345" width="127.7" height="2" fill="#f2f0ef"/>
<rect x="128.0" y="345" width="58.0" height="2" fill="#f5e4e0"/>
<rect x="186.0" y="345" width="12.0" height="2" fill="#f4e8e6"/>
<rect x="198.0" y="345" width="30.0" height="2" fill="#f4e8e5"/>
<rect x="228.0" y="345" width="44.0" height="2" fill="#f5e4e0"/>
<rect x="272.0" y="345" width="48.0" height="2" fill="#f4e7e4"/>
<rect x="320.0" y="345" width="54.0" height="2" fill="#f4e8e5"/>
<rect x="374.0" y="345" width="38.0" height="2" fill="#f5e5e1"/>
<rect x="412.0" y="345" width="33.3" height="2" fill="#f4e8e5"/>
<rect x="0.3" y="347" width="127.7" height="2" fill="#f4e9e7"/>
<rect x="128.0" y="347" width="58.0" height="2" fill="#f6ddd6"/>
<rect x="186.0" y="347" width="12.0" height="2" fill="#f6ddd7"/>
<rect x="198.0" y="347" width="30.0" height="2" fill="#f7ddd6"/>
<rect x="228.0" y="347" width="44.0" height="2" fill="#f6ded8"/>
<rect x="272.0" y="347" width="48.0" height="2" fill="#f6ded7"/>
<rect x="320.0" y="347" width="54.0" height="2" fill="#f7ddd6"/>
<rect x="374.0" y="347" width="38.0" height="2" fill="#f6ddd7"/>
<rect x="412.0" y="347" width="33.3" height="2" fill="#f6e1dc"/>
<rect x="0.3" y="349" width="127.7" height="1" fill="#f3eeed"/>
<rect x="128.0" y="349" width="58.0" height="1" fill="#f5e1dc"/>
<rect x="186.0" y="349" width="12.0" height="1" fill="#f5e1dc"/>
<rect x="198.0" y="349" width="30.0" height="1" fill="#f5e3de"/>
<rect x="228.0" y="349" width="44.0" height="1" fill="#f6e0da"/>
<rect x="272.0" y="349" width="48.0" height="1" fill="#f5e4e0"/>
<rect x="320.0" y="349" width="54.0" height="1" fill="#f5e2dd"/>
<rect x="374.0" y="349" width="38.0" height="1" fill="#f5e2de"/>
<rect x="412.0" y="349" width="33.3" height="1" fill="#f5e1dc"/>
<rect x="0.3" y="350" width="127.7" height="1" fill="#e7edf2"/>
<rect x="128.0" y="350" width="58.0" height="1" fill="#f7d9d1"/>
<rect x="186.0" y="350" width="12.0" height="1" fill="#f7ddd6"/>
<rect x="198.0" y="350" width="30.0" height="1" fill="#f7ddd6"/>
<rect x="228.0" y="350" width="44.0" height="1" fill="#f6ded8"/>
<rect x="272.0" y="350" width="48.0" height="1" fill="#f7dcd6"/>
<rect x="320.0" y="350" width="54.0" height="1" fill="#f7dcd5"/>
<rect x="374.0" y="350" width="38.0" height="1" fill="#f6ded8"/>
<rect x="412.0" y="350" width="33.3" height="1" fill="#f6ded7"/>
<rect x="0.3" y="351" width="127.7" height="1" fill="#e2ecf2"/>
<rect x="128.0" y="351" width="58.0" height="1" fill="#f6e0db"/>
<rect x="186.0" y="351" width="12.0" height="1" fill="#f5e2dd"/>
<rect x="198.0" y="351" width="30.0" height="1" fill="#f5e2dd"/>
<rect x="228.0" y="351" width="44.0" height="1" fill="#f6e1dc"/>
<rect x="272.0" y="351" width="48.0" height="1" fill="#f5e3df"/>
<rect x="320.0" y="351" width="54.0" height="1" fill="#f5e1dc"/>
<rect x="374.0" y="351" width="38.0" height="1" fill="#f5e2dd"/>
<rect x="412.0" y="351" width="33.3" height="1" fill="#f5e4e0"/>
<rect x="0.3" y="352" width="127.7" height="1" fill="#e2ecf2"/>
<rect x="128.0" y="352" width="58.0" height="1" fill="#f3ebe9"/>
<rect x="186.0" y="352" width="12.0" height="1" fill="#f3edec"/>
<rect x="198.0" y="352" width="30.0" height="1" fill="#f3edeb"/>
<rect x="228.0" y="352" width="44.0" height="1" fill="#f3edec"/>
<rect x="272.0" y="352" width="48.0" height="1" fill="#f3ecea"/>
<rect x="320.0" y="352" width="54.0" height="1" fill="#f3eeed"/>
<rect x="374.0" y="352" width="38.0" height="1" fill="#f3eceb"/>
<rect x="412.0" y="352" width="33.3" height="1" fill="#f3eceb"/>
<rect x="0.3" y="353" width="127.7" height="2" fill="#e8eef1"/>
<rect x="128.0" y="353" width="58.0" height="2" fill="#f5e4e0"/>
<rect x="186.0" y="353" width="12.0" height="2" fill="#f4e7e3"/>
<rect x="198.0" y="353" width="30.0" height="2" fill="#f5e2dd"/>
<rect x="228.0" y="353" width="44.0" height="2" fill="#f5e3df"/>
<rect x="272.0" y="353" width="48.0" height="2" fill="#f5e2de"/>
<rect x="320.0" y="353" width="54.0" height="2" fill="#f4e6e2"/>
<rect x="374.0" y="353" width="38.0" height="2" fill="#f5e3df"/>
<rect x="412.0" y="353" width="33.3" height="2" fill="#f5e5e1"/>
<rect x="0.3" y="355" width="127.7" height="1" fill="#e2ecf2"/>
<rect x="128.0" y="355" width="58.0" height="1" fill="#f3eae8"/>
<rect x="186.0" y="355" width="12.0" height="1" fill="#f3eae8"/>
<rect x="198.0" y="355" width="30.0" height="1" fill="#f3ebe9"/>
<rect x="228.0" y="355" width="44.0" height="1" fill="#f3eae7"/>
<rect x="272.0" y="355" width="48.0" height="1" fill="#f4eae7"/>
<rect x="320.0" y="355" width="54.0" height="1" fill="#f3ecea"/>
<rect x="374.0" y="355" width="38.0" height="1" fill="#f3edec"/>
<rect x="412.0" y="355" width="33.3" height="1" fill="#f3eeed"/>
<rect x="0.3" y="356" width="127.7" height="1" fill="#e3ecf2"/>
<rect x="128.0" y="356" width="58.0" height="1" fill="#f3ebea"/>
<rect x="186.0" y="356" width="12.0" height="1" fill="#f3ebe9"/>
<rect x="198.0" y="356" width="30.0" height="1" fill="#f3eae8"/>
<rect x="228.0" y="356" width="44.0" height="1" fill="#f4e8e5"/>
<rect x="272.0" y="356" width="48.0" height="1" fill="#f3eae8"/>
<rect x="320.0" y="356" width="54.0" height="1" fill="#f3eae8"/>
<rect x="374.0" y="356" width="38.0" height="1" fill="#f3ecea"/>
<rect x="412.0" y="356" width="33.3" height="1" fill="#f4e9e7"/>
<rect x="0.3" y="357" width="127.7" height="1" fill="#e7edf2"/>
<rect x="128.0" y="357" width="58.0" height="1" fill="#f3eae8"/>
<rect x="186.0" y="357" width="12.0" height="1" fill="#f4e6e3"/>
<rect x="198.0" y="357" width="30.0" height="1" fill="#f4e9e7"/>
<rect x="228.0" y="357" width="44.0" height="1" fill="#f4e8e5"/>
<rect x="272.0" y="357" width="48.0" height="1" fill="#f4e8e5"/>
<rect x="320.0" y="357" width="54.0" height="1" fill="#f5e5e1"/>
<rect x="374.0" y="357" width="38.0" height="1" fill="#f4e9e7"/>
<rect x="412.0" y="357" width="33.3" height="1" fill="#f4e5e2"/>
<rect x="0.3" y="358" width="127.7" height="1" fill="#f5e4e0"/>
<rect x="128.0" y="358" width="58.0" height="1" fill="#f4e8e5"/>
<rect x="186.0" y="358" width="12.0" height="1" fill="#f4e9e6"/>
<rect x="198.0" y="358" width="30.0" height="1" fill="#f3eceb"/>
<rect x="228.0" y="358" width="44.0" height="1" fill="#f4e9e6"/>
<rect x="272.0" y="358" width="48.0" height="1" fill="#f4e8e5"/>
<rect x="320.0" y="358" width="54.0" height="1" fill="#f4e9e7"/>
<rect x="374.0" y="358" width="38.0" height="1" fill="#f3eae8"/>
<rect x="412.0" y="358" width="33.3" height="1" fill="#f4e8e5"/>
<rect x="0.3" y="359" width="127.7" height="2" fill="#f5e4e0"/>
<rect x="128.0" y="359" width="58.0" height="2" fill="#f4eae7"/>
<rect x="186.0" y="359" width="12.0" height="2" fill="#f3eae8"/>
<rect x="198.0" y="359" width="30.0" height="2" fill="#f3ebe9"/>
<rect x="228.0" y="359" width="44.0" height="2" fill="#f3ecea"/>
<rect x="272.0" y="359" width="48.0" height="2" fill="#f3eae8"/>
<rect x="320.0" y="359" width="54.0" height="2" fill="#f3eceb"/>
<rect x="374.0" y="359" width="38.0" height="2" fill="#f4e9e7"/>
<rect x="412.0" y="359" width="33.3" height="2" fill="#f4e9e7"/>
<rect x="0.3" y="361" width="127.7" height="2" fill="#f4e5e2"/>
<rect x="128.0" y="361" width="58.0" height="2" fill="#f3ebe9"/>
<rect x="186.0" y="361" width="12.0" height="2" fill="#f3eae8"/>
<rect x="198.0" y="361" width="30.0" height="2" fill="#f3eae8"/>
<rect x="228.0" y="361" width="44.0" height="2" fill="#f3edec"/>
<rect x="272.0" y="361" width="48.0" height="2" fill="#f4e9e7"/>
<rect x="320.0" y="361" width="54.0" height="2" fill="#f3eceb"/>
<rect x="374.0" y="361" width="38.0" height="2" fill="#f3eae8"/>
<rect x="412.0" y="361" width="33.3" height="2" fill="#f3ebe9"/>
<rect x="0.3" y="363" width="127.7" height="2" fill="#f5e5e1"/>
<rect x="128.0" y="363" width="58.0" height="2" fill="#f3edeb"/>
<rect x="186.0" y="363" width="12.0" height="2" fill="#f3ebe9"/>
<rect x="198.0" y="363" width="30.0" height="2" fill="#f3eeed"/>
<rect x="228.0" y="363" width="44.0" height="2" fill="#f3ebe9"/>
<rect x="272.0" y="363" width="48.0" height="2" fill="#f3eceb"/>
<rect x="320.0" y="363" width="54.0" height="2" fill="#f3ebea"/>
<rect x="374.0" y="363" width="38.0" height="2" fill="#f3eceb"/>
<rect x="412.0" y="363" width="33.3" height="2" fill="#f3edec"/>
<rect x="0.3" y="365" width="127.7" height="1" fill="#f2efee"/>
<rect x="128.0" y="365" width="58.0" height="1" fill="#f2efef"/>
<rect x="186.0" y="365" width="12.0" height="1" fill="#f3eceb"/>
<rect x="198.0" y="365" width="30.0" height="1" fill="#f3eded"/>
<rect x="228.0" y="365" width="44.0" height="1" fill="#f3eeed"/>
<rect x="272.0" y="365" width="48.0" height="1" fill="#f3eceb"/>
<rect x="320.0" y="365" width="54.0" height="1" fill="#f3edec"/>
<rect x="374.0" y="365" width="38.0" height="1" fill="#f2eeee"/>
<rect x="412.0" y="365" width="33.3" height="1" fill="#f2efee"/>
<rect x="0.3" y="366" width="127.7" height="2" fill="#f4e6e3"/>
<rect x="128.0" y="366" width="58.0" height="2" fill="#f4e7e3"/>
<rect x="186.0" y="366" width="12.0" height="2" fill="#f4e7e4"/>
<rect x="198.0" y="366" width="30.0" height="2" fill="#f5e3de"/>
<rect x="228.0" y="366" width="44.0" height="2" fill="#f4e6e2"/>
<rect x="272.0" y="366" width="48.0" height="2" fill="#f4e8e6"/>
<rect x="320.0" y="366" width="54.0" height="2" fill="#f4e6e2"/>
<rect x="374.0" y="366" width="38.0" height="2" fill="#f4e8e5"/>
<rect x="412.0" y="366" width="33.3" height="2" fill="#f5e4e0"/>
<rect x="0.3" y="368" width="127.7" height="2" fill="#f4e8e5"/>
<rect x="128.0" y="368" width="58.0" height="2" fill="#f4e7e4"/>
<rect x="186.0" y="368" width="12.0" height="2" fill="#f4e7e4"/>
<rect x="198.0" y="368" width="30.0" height="2" fill="#f3ebe9"/>
<rect x="228.0" y="368" width="44.0" height="2" fill="#f4e8e5"/>
<rect x="272.0" y="368" width="48.0" height="2" fill="#f3eae8"/>
<rect x="320.0" y="368" width="54.0" height="2" fill="#f3eae8"/>
<rect x="374.0" y="368" width="38.0" height="2" fill="#f4e9e7"/>
<rect x="412.0" y="368" width="33.3" height="2" fill="#f4e9e7"/>
<rect x="0.3" y="370" width="127.7" height="1" fill="#f3edec"/>
<rect x="128.0" y="370" width="58.0" height="1" fill="#f3ebe9"/>
<rect x="186.0" y="370" width="12.0" height="1" fill="#f3ecea"/>
<rect x="198.0" y="370" width="30.0" height="1" fill="#f3edec"/>
<rect x="228.0" y="370" width="44.0" height="1" fill="#f3eae8"/>
<rect x="272.0" y="370" width="48.0" height="1" fill="#f3ebe9"/>
<rect x="320.0" y="370" width="54.0" height="1" fill="#f3ebe9"/>
<rect x="374.0" y="370" width="38.0" height="1" fill="#f2eeed"/>
<rect x="412.0" y="370" width="33.3" height="1" fill="#f3eceb"/>
<rect x="0.3" y="371" width="127.7" height="1" fill="#f3ebea"/>
<rect x="128.0" y="371" width="58.0" height="1" fill="#f3ebe9"/>
<rect x="186.0" y="371" width="12.0" height="1" fill="#f3eeed"/>
<rect x="198.0" y="371" width="30.0" height="1" fill="#f3eceb"/>
<rect x="228.0" y="371" width="44.0" height="1" fill="#f3ebea"/>
<rect x="272.0" y="371" width="48.0" height="1" fill="#f3ecea"/>
<rect x="320.0" y="371" width="54.0" height="1" fill="#f3ebe9"/>
<rect x="374.0" y="371" width="38.0" height="1" fill="#f3ecea"/>
<rect x="412.0" y="371" width="33.3" height="1" fill="#f2efee"/>
<rect x="0.3" y="372" width="127.7" height="2" fill="#f5e5e1"/>
<rect x="128.0" y="372" width="58.0" height="2" fill="#f5e3df"/>
<rect x="186.0" y="372" width="12.0" height="2" fill="#f4e6e2"/>
<rect x="198.0" y="372" width="30.0" height="2" fill="#f5e3df"/>
<rect x="228.0" y="372" width="44.0" height="2" fill="#f5e5e1"/>
<rect x="272.0" y="372" width="48.0" height="2" fill="#f5e5e1"/>
<rect x="320.0" y="372" width="54.0" height="2" fill="#f4e6e2"/>
<rect x="374.0" y="372" width="38.0" height="2" fill="#f4e6e3"/>
<rect x="412.0" y="372" width="33.3" height="2" fill="#f5e5e1"/>
<rect x="0.3" y="374" width="127.7" height="1" fill="#f3eae8"/>
<rect x="128.0" y="374" width="58.0" height="1" fill="#f3eeed"/>
<rect x="186.0" y="374" width="12.0" height="1" fill="#f3ecea"/>
<rect x="198.0" y="374" width="30.0" height="1" fill="#f3eae8"/>
<rect x="228.0" y="374" width="44.0" height="1" fill="#f3eae9"/>
<rect x="272.0" y="374" width="48.0" height="1" fill="#f3ebe9"/>
<rect x="320.0" y="374" width="54.0" height="1" fill="#f3ebe9"/>
<rect x="374.0" y="374" width="38.0" height="1" fill="#f2eeee"/>
<rect x="412.0" y="374" width="33.3" height="1" fill="#f3edec"/>
<rect x="0.3" y="375" width="127.7" height="2" fill="#f4e8e6"/>
<rect x="128.0" y="375" width="58.0" height="2" fill="#f4e8e5"/>
<rect x="186.0" y="375" width="12.0" height="2" fill="#f3ebe9"/>
<rect x="198.0" y="375" width="30.0" height="2" fill="#f4e8e6"/>
<rect x="228.0" y="375" width="44.0" height="2" fill="#f4e7e4"/>
<rect x="272.0" y="375" width="48.0" height="2" fill="#f4e8e5"/>
<rect x="320.0" y="375" width="54.0" height="2" fill="#f4e8e5"/>
<rect x="374.0" y="375" width="38.0" height="2" fill="#f4e9e6"/>
<rect x="412.0" y="375" width="33.3" height="2" fill="#f4e9e7"/>
<rect x="0.3" y="377" width="127.7" height="2" fill="#f3eae8"/>
<rect x="128.0" y="377" width="58.0" height="2" fill="#f3edec"/>
<rect x="186.0" y="377" width="12.0" height="2" fill="#f3eceb"/>
<rect x="198.0" y="377" width="30.0" height="2" fill="#f3eceb"/>
<rect x="228.0" y="377" width="44.0" height="2" fill="#f3eae8"/>
<rect x="272.0" y="377" width="48.0" height="2" fill="#f3eae8"/>
<rect x="320.0" y="377" width="54.0" height="2" fill="#f3eeed"/>
<rect x="374.0" y="377" width="38.0" height="2" fill="#f3eae8"/>
<rect x="412.0" y="377" width="33.3" height="2" fill="#f3ebe9"/>
<rect x="0.3" y="379" width="127.7" height="2" fill="#f4e8e5"/>
<rect x="128.0" y="379" width="58.0" height="2" fill="#f4e7e4"/>
<rect x="186.0" y="379" width="12.0" height="2" fill="#f4e7e4"/>
<rect x="198.0" y="379" width="30.0" height="2" fill="#f4e6e2"/>
<rect x="228.0" y="379" width="44.0" height="2" fill="#f4e7e3"/>
<rect x="272.0" y="379" width="48.0" height="2" fill="#f4e6e3"/>
<rect x="320.0" y="379" width="54.0" height="2" fill="#f4e6e2"/>
<rect x="374.0" y="379" width="38.0" height="2" fill="#f4e7e3"/>
<rect x="412.0" y="379" width="33.3" height="2" fill="#f4e6e2"/>
<rect x="0.3" y="381" width="127.7" height="2" fill="#f8d8cf"/>
<rect x="128.0" y="381" width="58.0" height="2" fill="#f4e6e2"/>
<rect x="186.0" y="381" width="12.0" height="2" fill="#f1f0f0"/>
<rect x="198.0" y="381" width="30.0" height="2" fill="#f4e9e6"/>
<rect x="228.0" y="381" width="44.0" height="2" fill="#efeff0"/>
<rect x="272.0" y="381" width="48.0" height="2" fill="#f5e4e0"/>
<rect x="320.0" y="381" width="54.0" height="2" fill="#edeff1"/>
<rect x="374.0" y="381" width="38.0" height="2" fill="#f0eff0"/>
<rect x="412.0" y="381" width="33.3" height="2" fill="#f0f0f0"/>
<rect x="0.3" y="383" width="127.7" height="2" fill="#f8d8cf"/>
<rect x="128.0" y="383" width="58.0" height="2" fill="#f5e3de"/>
<rect x="186.0" y="383" width="12.0" height="2" fill="#eeeff1"/>
<rect x="198.0" y="383" width="30.0" height="2" fill="#f4e9e6"/>
<rect x="228.0" y="383" width="44.0" height="2" fill="#eeeff1"/>
<rect x="272.0" y="383" width="48.0" height="2" fill="#f4e6e2"/>
<rect x="320.0" y="383" width="54.0" height="2" fill="#efeff0"/>
<rect x="374.0" y="383" width="38.0" height="2" fill="#eceff1"/>
<rect x="412.0" y="383" width="33.3" height="2" fill="#efeff0"/>
<rect x="0.3" y="385" width="127.7" height="3" fill="#f7ddd6"/>
<rect x="128.0" y="385" width="58.0" height="3" fill="#f3edec"/>
<rect x="186.0" y="385" width="12.0" height="3" fill="#eceff1"/>
<rect x="198.0" y="385" width="30.0" height="3" fill="#f3eeed"/>
<rect x="228.0" y="385" width="44.0" height="3" fill="#eaeef1"/>
<rect x="272.0" y="385" width="48.0" height="3" fill="#f3edec"/>
<rect x="320.0" y="385" width="54.0" height="3" fill="#eaeef1"/>
<rect x="374.0" y="385" width="38.0" height="3" fill="#eaeef1"/>
<rect x="412.0" y="385" width="33.3" height="3" fill="#ebeef1"/>
<rect x="0.3" y="388" width="127.7" height="3" fill="#f6ded8"/>
<rect x="128.0" y="388" width="58.0" height="3" fill="#f3ebe9"/>
<rect x="186.0" y="388" width="12.0" height="3" fill="#eeeff1"/>
<rect x="198.0" y="388" width="30.0" height="3" fill="#f3ebea"/>
<rect x="228.0" y="388" width="44.0" height="3" fill="#e9eef1"/>
<rect x="272.0" y="388" width="48.0" height="3" fill="#f4e9e7"/>
<rect x="320.0" y="388" width="54.0" height="3" fill="#e9eef1"/>
<rect x="374.0" y="388" width="38.0" height="3" fill="#ebeef1"/>
<rect x="412.0" y="388" width="33.3" height="3" fill="#eaeef1"/>
<rect x="0.3" y="391" width="127.7" height="2" fill="#f8d8cf"/>
<rect x="128.0" y="391" width="58.0" height="2" fill="#f5e2dd"/>
<rect x="186.0" y="391" width="12.0" height="2" fill="#f2f0f0"/>
<rect x="198.0" y="391" width="30.0" height="2" fill="#f4e8e5"/>
<rect x="228.0" y="391" width="44.0" height="2" fill="#efeff0"/>
<rect x="272.0" y="391" width="48.0" height="2" fill="#f5e2dd"/>
<rect x="320.0" y="391" width="54.0" height="2" fill="#edeff1"/>
<rect x="374.0" y="391" width="38.0" height="2" fill="#f1f0f0"/>
<rect x="412.0" y="391" width="33.3" height="2" fill="#efeff0"/>
<rect x="0.3" y="393" width="127.7" height="3" fill="#f7dcd5"/>
<rect x="128.0" y="393" width="58.0" height="3" fill="#f3ebe9"/>
<rect x="186.0" y="393" width="12.0" height="3" fill="#edeff1"/>
<rect x="198.0" y="393" width="30.0" height="3" fill="#f3edec"/>
<rect x="228.0" y="393" width="44.0" height="3" fill="#eaeef1"/>
<rect x="272.0" y="393" width="48.0" height="3" fill="#f3eae7"/>
<rect x="320.0" y="393" width="54.0" height="3" fill="#e9eef1"/>
<rect x="374.0" y="393" width="38.0" height="3" fill="#eaeef1"/>
<rect x="412.0" y="393" width="33.3" height="3" fill="#ebeef1"/>
<rect x="0.3" y="396" width="127.7" height="2" fill="#f6ded8"/>
<rect x="128.0" y="396" width="58.0" height="2" fill="#f3ebe9"/>
<rect x="186.0" y="396" width="12.0" height="2" fill="#eeeff1"/>
<rect x="198.0" y="396" width="30.0" height="2" fill="#f3ecea"/>
<rect x="228.0" y="396" width="44.0" height="2" fill="#eaeef1"/>
<rect x="272.0" y="396" width="48.0" height="2" fill="#f3ecea"/>
<rect x="320.0" y="396" width="54.0" height="2" fill="#e9eef1"/>
<rect x="374.0" y="396" width="38.0" height="2" fill="#eaeef1"/>
<rect x="412.0" y="396" width="33.3" height="2" fill="#eaeef1"/>
<rect x="0.3" y="398" width="127.7" height="3" fill="#f7dcd5"/>
<rect x="128.0" y="398" width="58.0" height="3" fill="#f4e6e2"/>
<rect x="186.0" y="398" width="12.0" height="3" fill="#f0f0f0"/>
<rect x="198.0" y="398" width="30.0" height="3" fill="#f4e9e6"/>
<rect x="228.0" y="398" width="44.0" height="3" fill="#f5e5e1"/>
<rect x="272.0" y="398" width="48.0" height="3" fill="#f4e9e7"/>
<rect x="320.0" y="398" width="54.0" height="3" fill="#efeff0"/>
<rect x="374.0" y="398" width="38.0" height="3" fill="#efeff0"/>
<rect x="412.0" y="398" width="33.3" height="3" fill="#f0eff0"/>
<rect x="0.3" y="401" width="127.7" height="1" fill="#f7d9d1"/>
<rect x="128.0" y="401" width="58.0" height="1" fill="#f5e4df"/>
<rect x="186.0" y="401" width="12.0" height="1" fill="#f2f0f0"/>
<rect x="198.0" y="401" width="30.0" height="1" fill="#f5e3de"/>
<rect x="228.0" y="401" width="44.0" height="1" fill="#f5e5e1"/>
<rect x="272.0" y="401" width="48.0" height="1" fill="#f4e8e5"/>
<rect x="320.0" y="401" width="54.0" height="1" fill="#f2f0f0"/>
<rect x="374.0" y="401" width="38.0" height="1" fill="#f2f0f0"/>
<rect x="412.0" y="401" width="33.3" height="1" fill="#f1f0f0"/>
<rect x="0.3" y="402" width="127.7" height="2" fill="#f7ddd6"/>
<rect x="128.0" y="402" width="58.0" height="2" fill="#f4e9e6"/>
<rect x="186.0" y="402" width="12.0" height="2" fill="#efeff0"/>
<rect x="198.0" y="402" width="30.0" height="2" fill="#f4e7e4"/>
<rect x="228.0" y="402" width="44.0" height="2" fill="#f4e5e2"/>
<rect x="272.0" y="402" width="48.0" height="2" fill="#f3eeed"/>
<rect x="320.0" y="402" width="54.0" height="2" fill="#f2f0f0"/>
<rect x="374.0" y="402" width="38.0" height="2" fill="#f1f0f0"/>
<rect x="412.0" y="402" width="33.3" height="2" fill="#eeeff1"/>
<rect x="0.3" y="404" width="127.7" height="1" fill="#f7dcd5"/>
<rect x="128.0" y="404" width="58.0" height="1" fill="#f3ebe9"/>
<rect x="186.0" y="404" width="12.0" height="1" fill="#edeff1"/>
<rect x="198.0" y="404" width="30.0" height="1" fill="#f3eae8"/>
<rect x="228.0" y="404" width="44.0" height="1" fill="#f4e7e4"/>
<rect x="272.0" y="404" width="48.0" height="1" fill="#f3edec"/>
<rect x="320.0" y="404" width="54.0" height="1" fill="#efeff0"/>
<rect x="374.0" y="404" width="38.0" height="1" fill="#eeeff1"/>
<rect x="412.0" y="404" width="33.3" height="1" fill="#f0eff0"/>
<rect x="0.3" y="405" width="127.7" height="2" fill="#f6dfda"/>
<rect x="128.0" y="405" width="58.0" height="2" fill="#f3ebea"/>
<rect x="186.0" y="405" width="12.0" height="2" fill="#f0eff0"/>
<rect x="198.0" y="405" width="30.0" height="2" fill="#f4e9e6"/>
<rect x="228.0" y="405" width="44.0" height="2" fill="#f4e9e7"/>
<rect x="272.0" y="405" width="48.0" height="2" fill="#f3eeed"/>
<rect x="320.0" y="405" width="54.0" height="2" fill="#f0eff0"/>
<rect x="374.0" y="405" width="38.0" height="2" fill="#f0f0f0"/>
<rect x="412.0" y="405" width="33.3" height="2" fill="#eeeff1"/>
<rect x="0.3" y="407" width="127.7" height="1" fill="#f8d6cd"/>
<rect x="128.0" y="407" width="58.0" height="1" fill="#f5e5e1"/>
<rect x="186.0" y="407" width="12.0" height="1" fill="#f2f0f0"/>
<rect x="198.0" y="407" width="30.0" height="1" fill="#f5e4e0"/>
<rect x="228.0" y="407" width="44.0" height="1" fill="#f5e3de"/>
<rect x="272.0" y="407" width="48.0" height="1" fill="#f4eae7"/>
<rect x="320.0" y="407" width="54.0" height="1" fill="#f2f0f0"/>
<rect x="374.0" y="407" width="38.0" height="1" fill="#f1f0f0"/>
<rect x="412.0" y="407" width="33.3" height="1" fill="#f1f0f0"/>
<rect x="0.3" y="408" width="127.7" height="2" fill="#f7dbd3"/>
<rect x="128.0" y="408" width="58.0" height="2" fill="#f4e8e5"/>
<rect x="186.0" y="408" width="12.0" height="2" fill="#f2f0f0"/>
<rect x="198.0" y="408" width="30.0" height="2" fill="#f4e7e4"/>
<rect x="228.0" y="408" width="44.0" height="2" fill="#f5e4e0"/>
<rect x="272.0" y="408" width="48.0" height="2" fill="#f3eceb"/>
<rect x="320.0" y="408" width="54.0" height="2" fill="#f0f0f0"/>
<rect x="374.0" y="408" width="38.0" height="2" fill="#f2efee"/>
<rect x="412.0" y="408" width="33.3" height="2" fill="#efeff0"/>
<rect x="0.3" y="410" width="127.7" height="1" fill="#f5e1dc"/>
<rect x="128.0" y="410" width="58.0" height="1" fill="#f3eceb"/>
<rect x="186.0" y="410" width="12.0" height="1" fill="#edeff1"/>
<rect x="198.0" y="410" width="30.0" height="1" fill="#f3ecea"/>
<rect x="228.0" y="410" width="44.0" height="1" fill="#f3eae8"/>
<rect x="272.0" y="410" width="48.0" height="1" fill="#f3edec"/>
<rect x="320.0" y="410" width="54.0" height="1" fill="#eeeff1"/>
<rect x="374.0" y="410" width="38.0" height="1" fill="#eeeff1"/>
<rect x="412.0" y="410" width="33.3" height="1" fill="#edeff1"/>
<rect x="0.3" y="411" width="127.7" height="2" fill="#f7dcd4"/>
<rect x="128.0" y="411" width="58.0" height="2" fill="#f4e9e7"/>
<rect x="186.0" y="411" width="12.0" height="2" fill="#f1f0f0"/>
<rect x="198.0" y="411" width="30.0" height="2" fill="#f4e7e4"/>
<rect x="228.0" y="411" width="44.0" height="2" fill="#f4e6e3"/>
<rect x="272.0" y="411" width="48.0" height="2" fill="#f3eae9"/>
<rect x="320.0" y="411" width="54.0" height="2" fill="#f0f0f0"/>
<rect x="374.0" y="411" width="38.0" height="2" fill="#f1f0f0"/>
<rect x="412.0" y="411" width="33.3" height="2" fill="#f0f0f0"/>
<rect x="0.3" y="413" width="127.7" height="2" fill="#f6ded8"/>
<rect x="128.0" y="413" width="58.0" height="2" fill="#f3edeb"/>
<rect x="186.0" y="413" width="12.0" height="2" fill="#eeeff1"/>
<rect x="198.0" y="413" width="30.0" height="2" fill="#f3eceb"/>
<rect x="228.0" y="413" width="44.0" height="2" fill="#f3ebea"/>
<rect x="272.0" y="413" width="48.0" height="2" fill="#f2efee"/>
<rect x="320.0" y="413" width="54.0" height="2" fill="#efeff0"/>
<rect x="374.0" y="413" width="38.0" height="2" fill="#efeff0"/>
<rect x="412.0" y="413" width="33.3" height="2" fill="#edeff1"/>
<rect x="0.3" y="415" width="127.7" height="1" fill="#f8d6cd"/>
<rect x="128.0" y="415" width="58.0" height="1" fill="#f5e4e0"/>
<rect x="186.0" y="415" width="12.0" height="1" fill="#f1f0f0"/>
<rect x="198.0" y="415" width="30.0" height="1" fill="#f5e3de"/>
<rect x="228.0" y="415" width="44.0" height="1" fill="#f5e2dd"/>
<rect x="272.0" y="415" width="48.0" height="1" fill="#f4e9e6"/>
<rect x="320.0" y="415" width="54.0" height="1" fill="#f2efef"/>
<rect x="374.0" y="415" width="38.0" height="1" fill="#f1f0f0"/>
<rect x="412.0" y="415" width="33.3" height="1" fill="#f2efef"/>
<rect x="0.3" y="416" width="127.7" height="2" fill="#f6ded8"/>
<rect x="128.0" y="416" width="58.0" height="2" fill="#f4e8e5"/>
<rect x="186.0" y="416" width="12.0" height="2" fill="#f0eff0"/>
<rect x="198.0" y="416" width="30.0" height="2" fill="#f4e8e5"/>
<rect x="228.0" y="416" width="44.0" height="2" fill="#f5e5e1"/>
<rect x="272.0" y="416" width="48.0" height="2" fill="#f2eeee"/>
<rect x="320.0" y="416" width="54.0" height="2" fill="#efeff0"/>
<rect x="374.0" y="416" width="38.0" height="2" fill="#efeff0"/>
<rect x="412.0" y="416" width="33.3" height="2" fill="#efeff0"/>
<rect x="0.3" y="418" width="127.7" height="2" fill="#f8d8cf"/>
<rect x="128.0" y="418" width="58.0" height="2" fill="#f4e6e3"/>
<rect x="186.0" y="418" width="12.0" height="2" fill="#f1f0f0"/>
<rect x="198.0" y="418" width="30.0" height="2" fill="#f5e5e1"/>
<rect x="228.0" y="418" width="44.0" height="2" fill="#f5e1dc"/>
<rect x="272.0" y="418" width="48.0" height="2" fill="#f4e8e5"/>
<rect x="320.0" y="418" width="54.0" height="2" fill="#f2efef"/>
<rect x="374.0" y="418" width="38.0" height="2" fill="#f2f0f0"/>
<rect x="412.0" y="418" width="33.3" height="2" fill="#f2efef"/>
<rect x="0.3" y="420" width="127.7" height="1" fill="#f6dfd9"/>
<rect x="128.0" y="420" width="58.0" height="1" fill="#f3edec"/>
<rect x="186.0" y="420" width="12.0" height="1" fill="#edeff1"/>
<rect x="198.0" y="420" width="30.0" height="1" fill="#f3eceb"/>
<rect x="228.0" y="420" width="44.0" height="1" fill="#f4e8e6"/>
<rect x="272.0" y="420" width="48.0" height="1" fill="#f2efef"/>
<rect x="320.0" y="420" width="54.0" height="1" fill="#eceff1"/>
<rect x="374.0" y="420" width="38.0" height="1" fill="#eeeff1"/>
<rect x="412.0" y="420" width="33.3" height="1" fill="#eeeff1"/>
<rect x="0.3" y="421" width="127.7" height="2" fill="#f7d9d1"/>
<rect x="128.0" y="421" width="58.0" height="2" fill="#f4e8e5"/>
<rect x="186.0" y="421" width="12.0" height="2" fill="#f2f0f0"/>
<rect x="198.0" y="421" width="30.0" height="2" fill="#f5e5e1"/>
<rect x="228.0" y="421" width="44.0" height="2" fill="#f5e3df"/>
<rect x="272.0" y="421" width="48.0" height="2" fill="#f3eae8"/>
<rect x="320.0" y="421" width="54.0" height="2" fill="#f1f0f0"/>
<rect x="374.0" y="421" width="38.0" height="2" fill="#f1f0f0"/>
<rect x="412.0" y="421" width="33.3" height="2" fill="#f2f0f0"/>
<rect x="0.3" y="423" width="127.7" height="2" fill="#f8d5cb"/>
<rect x="128.0" y="423" width="58.0" height="2" fill="#f6e1dc"/>
<rect x="186.0" y="423" width="12.0" height="2" fill="#f2efee"/>
<rect x="198.0" y="423" width="30.0" height="2" fill="#f6ded8"/>
<rect x="228.0" y="423" width="44.0" height="2" fill="#f6ded8"/>
<rect x="272.0" y="423" width="48.0" height="2" fill="#f4e7e3"/>
<rect x="320.0" y="423" width="54.0" height="2" fill="#f3eceb"/>
<rect x="374.0" y="423" width="38.0" height="2" fill="#f3eceb"/>
<rect x="412.0" y="423" width="33.3" height="2" fill="#f2eeed"/>
<rect x="0.3" y="425" width="127.7" height="1" fill="#f7d9d0"/>
<rect x="128.0" y="425" width="58.0" height="1" fill="#f4e7e4"/>
<rect x="186.0" y="425" width="12.0" height="1" fill="#f3edec"/>
<rect x="198.0" y="425" width="30.0" height="1" fill="#f5e5e1"/>
<rect x="228.0" y="425" width="44.0" height="1" fill="#f5e3de"/>
<rect x="272.0" y="425" width="48.0" height="1" fill="#f3ebea"/>
<rect x="320.0" y="425" width="54.0" height="1" fill="#f2efef"/>
<rect x="374.0" y="425" width="38.0" height="1" fill="#f2efef"/>
<rect x="412.0" y="425" width="33.3" height="1" fill="#f2f0f0"/>
<rect x="0.3" y="426" width="127.7" height="3" fill="#f8d7ce"/>
<rect x="128.0" y="426" width="58.0" height="3" fill="#f5e2dc"/>
<rect x="186.0" y="426" width="12.0" height="3" fill="#f2efee"/>
<rect x="198.0" y="426" width="30.0" height="3" fill="#f6e0db"/>
<rect x="228.0" y="426" width="44.0" height="3" fill="#f5e2de"/>
<rect x="272.0" y="426" width="48.0" height="3" fill="#f4e8e5"/>
<rect x="320.0" y="426" width="54.0" height="3" fill="#f3edec"/>
<rect x="374.0" y="426" width="38.0" height="3" fill="#f3edec"/>
<rect x="412.0" y="426" width="33.3" height="3" fill="#f2eeed"/>
<rect x="0.3" y="429" width="127.7" height="1" fill="#f8d8cf"/>
<rect x="128.0" y="429" width="58.0" height="1" fill="#f4e6e2"/>
<rect x="186.0" y="429" width="12.0" height="1" fill="#f2f0f0"/>
<rect x="198.0" y="429" width="30.0" height="1" fill="#f4e6e2"/>
<rect x="228.0" y="429" width="44.0" height="1" fill="#f5e2de"/>
<rect x="272.0" y="429" width="48.0" height="1" fill="#f3ebe9"/>
<rect x="320.0" y="429" width="54.0" height="1" fill="#f2f0f0"/>
<rect x="374.0" y="429" width="38.0" height="1" fill="#f2efef"/>
<rect x="412.0" y="429" width="33.3" height="1" fill="#f1f0f0"/>
<rect x="0.3" y="430" width="127.7" height="2" fill="#f7d9d1"/>
<rect x="128.0" y="430" width="58.0" height="2" fill="#f5e5e1"/>
<rect x="186.0" y="430" width="12.0" height="2" fill="#f1f0f0"/>
<rect x="198.0" y="430" width="30.0" height="2" fill="#f4e7e4"/>
<rect x="228.0" y="430" width="44.0" height="2" fill="#f5e4df"/>
<rect x="272.0" y="430" width="48.0" height="2" fill="#f3eae8"/>
<rect x="320.0" y="430" width="54.0" height="2" fill="#f1f0f0"/>
<rect x="374.0" y="430" width="38.0" height="2" fill="#f1f0f0"/>
<rect x="412.0" y="430" width="33.3" height="2" fill="#f2f0f0"/>
<rect x="0.3" y="432" width="127.7" height="1" fill="#f7dcd5"/>
<rect x="128.0" y="432" width="58.0" height="1" fill="#f4e8e6"/>
<rect x="186.0" y="432" width="12.0" height="1" fill="#f0f0f0"/>
<rect x="198.0" y="432" width="30.0" height="1" fill="#f4e7e4"/>
<rect x="228.0" y="432" width="44.0" height="1" fill="#f4e6e3"/>
<rect x="272.0" y="432" width="48.0" height="1" fill="#f3ecea"/>
<rect x="320.0" y="432" width="54.0" height="1" fill="#eeeff1"/>
<rect x="374.0" y="432" width="38.0" height="1" fill="#f0f0f0"/>
<rect x="412.0" y="432" width="33.3" height="1" fill="#f0eff0"/>
<rect x="0.3" y="433" width="127.7" height="1" fill="#f4e9e7"/>
<rect x="128.0" y="433" width="58.0" height="1" fill="#f3eae8"/>
<rect x="186.0" y="433" width="12.0" height="1" fill="#f0f0f0"/>
<rect x="198.0" y="433" width="30.0" height="1" fill="#f1f0f0"/>
<rect x="228.0" y="433" width="44.0" height="1" fill="#f2eeee"/>
<rect x="272.0" y="433" width="48.0" height="1" fill="#f1f0f0"/>
<rect x="320.0" y="433" width="54.0" height="1" fill="#f0f0f0"/>
<rect x="374.0" y="433" width="38.0" height="1" fill="#f0f0f0"/>
<rect x="412.0" y="433" width="33.3" height="1" fill="#f1f0f0"/>
<rect x="0.3" y="434" width="127.7" height="1" fill="#f4e6e2"/>
<rect x="128.0" y="434" width="58.0" height="1" fill="#f4e9e7"/>
<rect x="186.0" y="434" width="12.0" height="1" fill="#f2f0f0"/>
<rect x="198.0" y="434" width="30.0" height="1" fill="#f0f0f0"/>
<rect x="228.0" y="434" width="44.0" height="1" fill="#f2f0f0"/>
<rect x="272.0" y="434" width="48.0" height="1" fill="#f2efef"/>
<rect x="320.0" y="434" width="54.0" height="1" fill="#f2efef"/>
<rect x="374.0" y="434" width="38.0" height="1" fill="#f2f0f0"/>
<rect x="412.0" y="434" width="33.3" height="1" fill="#f2eeee"/>
<rect x="0.3" y="435" width="127.7" height="3" fill="#f3eceb"/>
<rect x="128.0" y="435" width="58.0" height="3" fill="#f2eeed"/>
<rect x="186.0" y="435" width="12.0" height="3" fill="#edeff1"/>
<rect x="198.0" y="435" width="30.0" height="3" fill="#edeff1"/>
<rect x="228.0" y="435" width="44.0" height="3" fill="#eeeff1"/>
<rect x="272.0" y="435" width="48.0" height="3" fill="#edeff1"/>
<rect x="320.0" y="435" width="54.0" height="3" fill="#eeeff1"/>
<rect x="374.0" y="435" width="38.0" height="3" fill="#eeeff1"/>
<rect x="412.0" y="435" width="33.3" height="3" fill="#eeeff1"/>
<rect x="0.3" y="438" width="127.7" height="2" fill="#f4e9e7"/>
<rect x="128.0" y="438" width="58.0" height="2" fill="#f3eae8"/>
<rect x="186.0" y="438" width="12.0" height="2" fill="#f1f0f0"/>
<rect x="198.0" y="438" width="30.0" height="2" fill="#efeff0"/>
<rect x="228.0" y="438" width="44.0" height="2" fill="#f0eff0"/>
<rect x="272.0" y="438" width="48.0" height="2" fill="#f1f0f0"/>
<rect x="320.0" y="438" width="54.0" height="2" fill="#f0f0f0"/>
<rect x="374.0" y="438" width="38.0" height="2" fill="#efeff0"/>
<rect x="412.0" y="438" width="33.3" height="2" fill="#eeeff1"/>
<rect x="0.3" y="440" width="127.7" height="1" fill="#f5e4e0"/>
<rect x="128.0" y="440" width="58.0" height="1" fill="#f3ebe9"/>
<rect x="186.0" y="440" width="12.0" height="1" fill="#f2f0f0"/>
<rect x="198.0" y="440" width="30.0" height="1" fill="#f3eeed"/>
<rect x="228.0" y="440" width="44.0" height="1" fill="#f3ebe9"/>
<rect x="272.0" y="440" width="48.0" height="1" fill="#f0f0f0"/>
<rect x="320.0" y="440" width="54.0" height="1" fill="#efeff0"/>
<rect x="374.0" y="440" width="38.0" height="1" fill="#eeeff1"/>
<rect x="412.0" y="440" width="33.3" height="1" fill="#eeeff1"/>
<rect x="0.3" y="441" width="127.7" height="2" fill="#f5e2de"/>
<rect x="128.0" y="441" width="58.0" height="2" fill="#f3edeb"/>
<rect x="186.0" y="441" width="12.0" height="2" fill="#f1f0f0"/>
<rect x="198.0" y="441" width="30.0" height="2" fill="#f3ebe9"/>
<rect x="228.0" y="441" width="44.0" height="2" fill="#f3ebe9"/>
<rect x="272.0" y="441" width="48.0" height="2" fill="#f0f0f0"/>
<rect x="320.0" y="441" width="54.0" height="2" fill="#edeff1"/>
<rect x="374.0" y="441" width="38.0" height="2" fill="#edeff1"/>
<rect x="412.0" y="441" width="33.3" height="2" fill="#edeff1"/>
<rect x="0.3" y="443" width="127.7" height="1" fill="#f5e4e0"/>
<rect x="128.0" y="443" width="58.0" height="1" fill="#f4e9e7"/>
<rect x="186.0" y="443" width="12.0" height="1" fill="#f1f0f0"/>
<rect x="198.0" y="443" width="30.0" height="1" fill="#f3eae8"/>
<rect x="228.0" y="443" width="44.0" height="1" fill="#f4e7e4"/>
<rect x="272.0" y="443" width="48.0" height="1" fill="#f1f0f0"/>
<rect x="320.0" y="443" width="54.0" height="1" fill="#f1f0f0"/>
<rect x="374.0" y="443" width="38.0" height="1" fill="#efeff0"/>
<rect x="412.0" y="443" width="33.3" height="1" fill="#eeeff1"/>
<rect x="0.3" y="444" width="127.7" height="1" fill="#f6e0da"/>
<rect x="128.0" y="444" width="58.0" height="1" fill="#f4e9e7"/>
<rect x="186.0" y="444" width="12.0" height="1" fill="#f3edec"/>
<rect x="198.0" y="444" width="30.0" height="1" fill="#f4e8e5"/>
<rect x="228.0" y="444" width="44.0" height="1" fill="#f4e6e2"/>
<rect x="272.0" y="444" width="48.0" height="1" fill="#f2eeee"/>
<rect x="320.0" y="444" width="54.0" height="1" fill="#efeff0"/>
<rect x="374.0" y="444" width="38.0" height="1" fill="#f1f0f0"/>
<rect x="412.0" y="444" width="33.3" height="1" fill="#f0eff0"/>
<rect x="0.3" y="445" width="127.7" height="1" fill="#f5e4df"/>
<rect x="128.0" y="445" width="58.0" height="1" fill="#f3eceb"/>
<rect x="186.0" y="445" width="12.0" height="1" fill="#f0f0f0"/>
<rect x="198.0" y="445" width="30.0" height="1" fill="#f3eded"/>
<rect x="228.0" y="445" width="44.0" height="1" fill="#f3ebea"/>
<rect x="272.0" y="445" width="48.0" height="1" fill="#f2f0f0"/>
<rect x="320.0" y="445" width="54.0" height="1" fill="#edeff1"/>
<rect x="374.0" y="445" width="38.0" height="1" fill="#ebeef1"/>
<rect x="412.0" y="445" width="33.3" height="1" fill="#eceff1"/>
<rect x="0.3" y="446" width="127.7" height="1" fill="#f5e5e2"/>
<rect x="128.0" y="446" width="58.0" height="1" fill="#f3eeed"/>
<rect x="186.0" y="446" width="12.0" height="1" fill="#f1f0f0"/>
<rect x="198.0" y="446" width="30.0" height="1" fill="#f3edec"/>
<rect x="228.0" y="446" width="44.0" height="1" fill="#f3eae8"/>
<rect x="272.0" y="446" width="48.0" height="1" fill="#f1f0f0"/>
<rect x="320.0" y="446" width="54.0" height="1" fill="#eceff1"/>
<rect x="374.0" y="446" width="38.0" height="1" fill="#edeff1"/>
<rect x="412.0" y="446" width="33.3" height="1" fill="#edeff1"/>
<rect x="0.3" y="447" width="127.7" height="1" fill="#f5e3de"/>
<rect x="128.0" y="447" width="58.0" height="1" fill="#f3eceb"/>
<rect x="186.0" y="447" width="12.0" height="1" fill="#f1f0f0"/>
<rect x="198.0" y="447" width="30.0" height="1" fill="#f4e9e6"/>
<rect x="228.0" y="447" width="44.0" height="1" fill="#f3eae8"/>
<rect x="272.0" y="447" width="48.0" height="1" fill="#f1f0f0"/>
<rect x="320.0" y="447" width="54.0" height="1" fill="#efeff0"/>
<rect x="374.0" y="447" width="38.0" height="1" fill="#eeeff1"/>
<rect x="412.0" y="447" width="33.3" height="1" fill="#efeff0"/>
<rect x="0.3" y="448" width="127.7" height="2" fill="#f6e1dc"/>
<rect x="128.0" y="448" width="58.0" height="2" fill="#f3ecea"/>
<rect x="186.0" y="448" width="12.0" height="2" fill="#f2f0f0"/>
<rect x="198.0" y="448" width="30.0" height="2" fill="#f4e9e7"/>
<rect x="228.0" y="448" width="44.0" height="2" fill="#f3eae8"/>
<rect x="272.0" y="448" width="48.0" height="2" fill="#f2efee"/>
<rect x="320.0" y="448" width="54.0" height="2" fill="#edeff1"/>
<rect x="374.0" y="448" width="38.0" height="2" fill="#eeeff1"/>
<rect x="412.0" y="448" width="33.3" height="2" fill="#edeff1"/>
<rect x="0.3" y="450" width="127.7" height="1" fill="#f5e2de"/>
<rect x="128.0" y="450" width="58.0" height="1" fill="#f2eeed"/>
<rect x="186.0" y="450" width="12.0" height="1" fill="#f1f0f0"/>
<rect x="198.0" y="450" width="30.0" height="1" fill="#f3eeed"/>
<rect x="228.0" y="450" width="44.0" height="1" fill="#f2efef"/>
<rect x="272.0" y="450" width="48.0" height="1" fill="#f2f0f0"/>
<rect x="320.0" y="450" width="54.0" height="1" fill="#eceef1"/>
<rect x="374.0" y="450" width="38.0" height="1" fill="#edeff1"/>
<rect x="412.0" y="450" width="33.3" height="1" fill="#eeeff1"/>
<rect x="0.3" y="451" width="127.7" height="2" fill="#f5e1dc"/>
<rect x="128.0" y="451" width="58.0" height="2" fill="#f3eae8"/>
<rect x="186.0" y="451" width="12.0" height="2" fill="#f2efee"/>
<rect x="198.0" y="451" width="30.0" height="2" fill="#f4eae7"/>
<rect x="228.0" y="451" width="44.0" height="2" fill="#f3eae8"/>
<rect x="272.0" y="451" width="48.0" height="2" fill="#f2f0f0"/>
<rect x="320.0" y="451" width="54.0" height="2" fill="#eeeff1"/>
<rect x="374.0" y="451" width="38.0" height="2" fill="#eeeff1"/>
<rect x="412.0" y="451" width="33.3" height="2" fill="#edeff1"/>
<rect x="0.3" y="453" width="127.7" height="2" fill="#f6e0da"/>
<rect x="128.0" y="453" width="58.0" height="2" fill="#f4e8e6"/>
<rect x="186.0" y="453" width="12.0" height="2" fill="#f2efef"/>
<rect x="198.0" y="453" width="30.0" height="2" fill="#f4e9e7"/>
<rect x="228.0" y="453" width="44.0" height="2" fill="#f4e9e7"/>
<rect x="272.0" y="453" width="48.0" height="2" fill="#f1f0f0"/>
<rect x="320.0" y="453" width="54.0" height="2" fill="#efeff0"/>
<rect x="374.0" y="453" width="38.0" height="2" fill="#eeeff1"/>
<rect x="412.0" y="453" width="33.3" height="2" fill="#efeff0"/>
<rect x="0.3" y="455" width="127.7" height="2" fill="#f6dfd9"/>
<rect x="128.0" y="455" width="58.0" height="2" fill="#efeff0"/>
<rect x="186.0" y="455" width="12.0" height="2" fill="#ebeef1"/>
<rect x="198.0" y="455" width="30.0" height="2" fill="#eaeef1"/>
<rect x="228.0" y="455" width="44.0" height="2" fill="#e9eef1"/>
<rect x="272.0" y="455" width="48.0" height="2" fill="#efeff0"/>
<rect x="320.0" y="455" width="54.0" height="2" fill="#e6edf2"/>
<rect x="374.0" y="455" width="38.0" height="2" fill="#e8edf1"/>
<rect x="412.0" y="455" width="33.3" height="2" fill="#e7edf2"/>
<rect x="0.3" y="457" width="127.7" height="1" fill="#f6ded8"/>
<rect x="128.0" y="457" width="58.0" height="1" fill="#efeff0"/>
<rect x="186.0" y="457" width="12.0" height="1" fill="#eaeef1"/>
<rect x="198.0" y="457" width="30.0" height="1" fill="#eceef1"/>
<rect x="228.0" y="457" width="44.0" height="1" fill="#eaeef1"/>
<rect x="272.0" y="457" width="48.0" height="1" fill="#f0f0f0"/>
<rect x="320.0" y="457" width="54.0" height="1" fill="#e8edf1"/>
<rect x="374.0" y="457" width="38.0" height="1" fill="#e8eef1"/>
<rect x="412.0" y="457" width="33.3" height="1" fill="#e9eef1"/>
<rect x="0.3" y="458" width="127.7" height="1" fill="#f6e1db"/>
<rect x="128.0" y="458" width="58.0" height="1" fill="#edeff1"/>
<rect x="186.0" y="458" width="12.0" height="1" fill="#e7edf2"/>
<rect x="198.0" y="458" width="30.0" height="1" fill="#e8eef1"/>
<rect x="228.0" y="458" width="44.0" height="1" fill="#e7edf2"/>
<rect x="272.0" y="458" width="48.0" height="1" fill="#efeff0"/>
<rect x="320.0" y="458" width="54.0" height="1" fill="#e2ecf2"/>
<rect x="374.0" y="458" width="38.0" height="1" fill="#e6edf2"/>
<rect x="412.0" y="458" width="33.3" height="1" fill="#e6edf2"/>
<rect x="0.3" y="459" width="127.7" height="2" fill="#f6ddd7"/>
<rect x="128.0" y="459" width="58.0" height="2" fill="#edeff1"/>
<rect x="186.0" y="459" width="12.0" height="2" fill="#eaeef1"/>
<rect x="198.0" y="459" width="30.0" height="2" fill="#eaeef1"/>
<rect x="228.0" y="459" width="44.0" height="2" fill="#eaeef1"/>
<rect x="272.0" y="459" width="48.0" height="2" fill="#f1f0f0"/>
<rect x="320.0" y="459" width="54.0" height="2" fill="#e6edf2"/>
<rect x="374.0" y="459" width="38.0" height="2" fill="#e8edf1"/>
<rect x="412.0" y="459" width="33.3" height="2" fill="#e8eef1"/>
<rect x="0.3" y="461" width="127.7" height="2" fill="#f6ded7"/>
<rect x="128.0" y="461" width="58.0" height="2" fill="#efeff0"/>
<rect x="186.0" y="461" width="12.0" height="2" fill="#ebeef1"/>
<rect x="198.0" y="461" width="30.0" height="2" fill="#e9eef1"/>
<rect x="228.0" y="461" width="44.0" height="2" fill="#eaeef1"/>
<rect x="272.0" y="461" width="48.0" height="2" fill="#efeff0"/>
<rect x="320.0" y="461" width="54.0" height="2" fill="#e8edf1"/>
<rect x="374.0" y="461" width="38.0" height="2" fill="#e9eef1"/>
<rect x="412.0" y="461" width="33.3" height="2" fill="#e7edf2"/>
<rect x="0.3" y="463" width="127.7" height="1" fill="#f7dcd5"/>
<rect x="128.0" y="463" width="58.0" height="1" fill="#eeeff1"/>
<rect x="186.0" y="463" width="12.0" height="1" fill="#eaeef1"/>
<rect x="198.0" y="463" width="30.0" height="1" fill="#e8eef1"/>
<rect x="228.0" y="463" width="44.0" height="1" fill="#e9eef1"/>
<rect x="272.0" y="463" width="48.0" height="1" fill="#efeff0"/>
<rect x="320.0" y="463" width="54.0" height="1" fill="#e7edf2"/>
<rect x="374.0" y="463" width="38.0" height="1" fill="#e9eef1"/>
<rect x="412.0" y="463" width="33.3" height="1" fill="#e7edf2"/>
<rect x="0.3" y="464" width="127.7" height="1" fill="#f4e6e2"/>
<rect x="128.0" y="464" width="58.0" height="1" fill="#eceef1"/>
<rect x="186.0" y="464" width="12.0" height="1" fill="#e4ecf2"/>
<rect x="198.0" y="464" width="30.0" height="1" fill="#e6edf2"/>
<rect x="228.0" y="464" width="44.0" height="1" fill="#e6edf2"/>
<rect x="272.0" y="464" width="48.0" height="1" fill="#ebeef1"/>
<rect x="320.0" y="464" width="54.0" height="1" fill="#e2ecf2"/>
<rect x="374.0" y="464" width="38.0" height="1" fill="#e2ecf2"/>
<rect x="412.0" y="464" width="33.3" height="1" fill="#e4ecf2"/>
<rect x="0.3" y="465" width="127.7" height="1" fill="#f6ddd6"/>
<rect x="128.0" y="465" width="58.0" height="1" fill="#eeeff1"/>
<rect x="186.0" y="465" width="12.0" height="1" fill="#eaeef1"/>
<rect x="198.0" y="465" width="30.0" height="1" fill="#eaeef1"/>
<rect x="228.0" y="465" width="44.0" height="1" fill="#eaeef1"/>
<rect x="272.0" y="465" width="48.0" height="1" fill="#efeff0"/>
<rect x="320.0" y="465" width="54.0" height="1" fill="#e6edf2"/>
<rect x="374.0" y="465" width="38.0" height="1" fill="#e8eef1"/>
<rect x="412.0" y="465" width="33.3" height="1" fill="#e8eef1"/>
<rect x="0.3" y="466" width="127.7" height="2" fill="#f7dad2"/>
<rect x="128.0" y="466" width="58.0" height="2" fill="#f2f0f0"/>
<rect x="186.0" y="466" width="12.0" height="2" fill="#eceef1"/>
<rect x="198.0" y="466" width="30.0" height="2" fill="#edeff1"/>
<rect x="228.0" y="466" width="44.0" height="2" fill="#eceff1"/>
<rect x="272.0" y="466" width="48.0" height="2" fill="#efeff0"/>
<rect x="320.0" y="466" width="54.0" height="2" fill="#e8eef1"/>
<rect x="374.0" y="466" width="38.0" height="2" fill="#ebeef1"/>
<rect x="412.0" y="466" width="33.3" height="2" fill="#eceef1"/>
<rect x="0.3" y="468" width="127.7" height="2" fill="#f6ded8"/>
<rect x="128.0" y="468" width="58.0" height="2" fill="#eeeff1"/>
<rect x="186.0" y="468" width="12.0" height="2" fill="#eaeef1"/>
<rect x="198.0" y="468" width="30.0" height="2" fill="#eaeef1"/>
<rect x="228.0" y="468" width="44.0" height="2" fill="#e8edf1"/>
<rect x="272.0" y="468" width="48.0" height="2" fill="#efeff0"/>
<rect x="320.0" y="468" width="54.0" height="2" fill="#e6edf2"/>
<rect x="374.0" y="468" width="38.0" height="2" fill="#e9eef1"/>
<rect x="412.0" y="468" width="33.3" height="2" fill="#e6edf2"/>
<rect x="0.3" y="470" width="127.7" height="2" fill="#f6ded7"/>
<rect x="128.0" y="470" width="58.0" height="2" fill="#eeeff1"/>
<rect x="186.0" y="470" width="12.0" height="2" fill="#ebeef1"/>
<rect x="198.0" y="470" width="30.0" height="2" fill="#e9eef1"/>
<rect x="228.0" y="470" width="44.0" height="2" fill="#ebeef1"/>
<rect x="272.0" y="470" width="48.0" height="2" fill="#f0eff0"/>
<rect x="320.0" y="470" width="54.0" height="2" fill="#e7edf2"/>
<rect x="374.0" y="470" width="38.0" height="2" fill="#e8eef1"/>
<rect x="412.0" y="470" width="33.3" height="2" fill="#e8eef1"/>
<rect x="0.3" y="472" width="127.7" height="2" fill="#f6ded8"/>
<rect x="128.0" y="472" width="58.0" height="2" fill="#efeff0"/>
<rect x="186.0" y="472" width="12.0" height="2" fill="#e9eef1"/>
<rect x="198.0" y="472" width="30.0" height="2" fill="#e9eef1"/>
<rect x="228.0" y="472" width="44.0" height="2" fill="#eaeef1"/>
<rect x="272.0" y="472" width="48.0" height="2" fill="#edeff1"/>
<rect x="320.0" y="472" width="54.0" height="2" fill="#e4ecf2"/>
<rect x="374.0" y="472" width="38.0" height="2" fill="#e8edf1"/>
<rect x="412.0" y="472" width="33.3" height="2" fill="#e5edf2"/>
<rect x="0.3" y="474" width="127.7" height="2" fill="#f5e2dd"/>
<rect x="128.0" y="474" width="58.0" height="2" fill="#eceff1"/>
<rect x="186.0" y="474" width="12.0" height="2" fill="#e8eef1"/>
<rect x="198.0" y="474" width="30.0" height="2" fill="#e7edf2"/>
<rect x="228.0" y="474" width="44.0" height="2" fill="#e6edf2"/>
<rect x="272.0" y="474" width="48.0" height="2" fill="#eceff1"/>
<rect x="320.0" y="474" width="54.0" height="2" fill="#e4ecf2"/>
<rect x="374.0" y="474" width="38.0" height="2" fill="#e3ecf2"/>
<rect x="412.0" y="474" width="33.3" height="2" fill="#e5edf2"/>
<rect x="0.3" y="476" width="127.7" height="1" fill="#f5e2dd"/>
<rect x="128.0" y="476" width="58.0" height="1" fill="#edeff1"/>
<rect x="186.0" y="476" width="12.0" height="1" fill="#e8edf1"/>
<rect x="198.0" y="476" width="30.0" height="1" fill="#e7edf2"/>
<rect x="228.0" y="476" width="44.0" height="1" fill="#e6edf2"/>
<rect x="272.0" y="476" width="48.0" height="1" fill="#edeff1"/>
<rect x="320.0" y="476" width="54.0" height="1" fill="#e5edf2"/>
<rect x="374.0" y="476" width="38.0" height="1" fill="#e6edf2"/>
<rect x="412.0" y="476" width="33.3" height="1" fill="#e6edf2"/>
<rect x="0.3" y="477" width="127.7" height="1" fill="#f5e4e0"/>
<rect x="128.0" y="477" width="58.0" height="1" fill="#eceff1"/>
<rect x="186.0" y="477" width="12.0" height="1" fill="#e6edf2"/>
<rect x="198.0" y="477" width="30.0" height="1" fill="#e6edf2"/>
<rect x="228.0" y="477" width="44.0" height="1" fill="#e6edf2"/>
<rect x="272.0" y="477" width="48.0" height="1" fill="#eceef1"/>
<rect x="320.0" y="477" width="54.0" height="1" fill="#e2ecf2"/>
<rect x="374.0" y="477" width="38.0" height="1" fill="#e3ecf2"/>
<rect x="412.0" y="477" width="33.3" height="1" fill="#e4ecf2"/>
<rect x="0.3" y="478" width="127.7" height="1" fill="#f7dad3"/>
<rect x="128.0" y="478" width="58.0" height="1" fill="#f2f0f0"/>
<rect x="186.0" y="478" width="12.0" height="1" fill="#eeeff1"/>
<rect x="198.0" y="478" width="30.0" height="1" fill="#eeeff1"/>
<rect x="228.0" y="478" width="44.0" height="1" fill="#eeeff1"/>
<rect x="272.0" y="478" width="48.0" height="1" fill="#f1f0f0"/>
<rect x="320.0" y="478" width="54.0" height="1" fill="#e9eef1"/>
<rect x="374.0" y="478" width="38.0" height="1" fill="#ebeef1"/>
<rect x="412.0" y="478" width="33.3" height="1" fill="#edeff1"/>
<rect x="0.3" y="479" width="127.7" height="1" fill="#f5e4e0"/>
<rect x="128.0" y="479" width="58.0" height="1" fill="#edeff1"/>
<rect x="186.0" y="479" width="12.0" height="1" fill="#e4ecf2"/>
<rect x="198.0" y="479" width="30.0" height="1" fill="#e6edf2"/>
<rect x="228.0" y="479" width="44.0" height="1" fill="#e5edf2"/>
<rect x="272.0" y="479" width="48.0" height="1" fill="#edeff1"/>
<rect x="320.0" y="479" width="54.0" height="1" fill="#e0ecf3"/>
<rect x="374.0" y="479" width="38.0" height="1" fill="#e3ecf2"/>
<rect x="412.0" y="479" width="33.3" height="1" fill="#e2ecf2"/>
<rect x="0.3" y="480" width="127.7" height="1" fill="#f7dbd4"/>
<rect x="128.0" y="480" width="58.0" height="1" fill="#efeff0"/>
<rect x="186.0" y="480" width="12.0" height="1" fill="#eceff1"/>
<rect x="198.0" y="480" width="30.0" height="1" fill="#eceef1"/>
<rect x="228.0" y="480" width="44.0" height="1" fill="#edeff1"/>
<rect x="272.0" y="480" width="48.0" height="1" fill="#f2f0f0"/>
<rect x="320.0" y="480" width="54.0" height="1" fill="#e6edf2"/>
<rect x="374.0" y="480" width="38.0" height="1" fill="#e9eef1"/>
<rect x="412.0" y="480" width="33.3" height="1" fill="#e9eef1"/>
<rect x="0.3" y="481" width="127.7" height="2" fill="#f6ded8"/>
<rect x="128.0" y="481" width="58.0" height="2" fill="#efeff0"/>
<rect x="186.0" y="481" width="12.0" height="2" fill="#e9eef1"/>
<rect x="198.0" y="481" width="30.0" height="2" fill="#e9eef1"/>
<rect x="228.0" y="481" width="44.0" height="2" fill="#ebeef1"/>
<rect x="272.0" y="481" width="48.0" height="2" fill="#f0eff0"/>
<rect x="320.0" y="481" width="54.0" height="2" fill="#e6edf2"/>
<rect x="374.0" y="481" width="38.0" height="2" fill="#e8edf1"/>
<rect x="412.0" y="481" width="33.3" height="2" fill="#eaeef1"/>
<rect x="0.3" y="483" width="127.7" height="1" fill="#f6e0da"/>
<rect x="128.0" y="483" width="58.0" height="1" fill="#edeff1"/>
<rect x="186.0" y="483" width="12.0" height="1" fill="#e8edf1"/>
<rect x="198.0" y="483" width="30.0" height="1" fill="#e7edf2"/>
<rect x="228.0" y="483" width="44.0" height="1" fill="#e8edf1"/>
<rect x="272.0" y="483" width="48.0" height="1" fill="#efeff0"/>
<rect x="320.0" y="483" width="54.0" height="1" fill="#e5edf2"/>
<rect x="374.0" y="483" width="38.0" height="1" fill="#e4ecf2"/>
<rect x="412.0" y="483" width="33.3" height="1" fill="#e8edf1"/>
<rect x="0.3" y="484" width="127.7" height="3" fill="#f6e1dc"/>
<rect x="128.0" y="484" width="58.0" height="3" fill="#eceff1"/>
<rect x="186.0" y="484" width="12.0" height="3" fill="#e8eef1"/>
<rect x="198.0" y="484" width="30.0" height="3" fill="#ebeef1"/>
<rect x="228.0" y="484" width="44.0" height="3" fill="#e9eef1"/>
<rect x="272.0" y="484" width="48.0" height="3" fill="#eeeff1"/>
<rect x="320.0" y="484" width="54.0" height="3" fill="#e2ecf2"/>
<rect x="374.0" y="484" width="38.0" height="3" fill="#e7edf2"/>
<rect x="412.0" y="484" width="33.3" height="3" fill="#e7edf2"/>
<rect x="0.3" y="487" width="127.7" height="3" fill="#f6dfd9"/>
<rect x="128.0" y="487" width="58.0" height="3" fill="#efeff0"/>
<rect x="186.0" y="487" width="12.0" height="3" fill="#eaeef1"/>
<rect x="198.0" y="487" width="30.0" height="3" fill="#eaeef1"/>
<rect x="228.0" y="487" width="44.0" height="3" fill="#eaeef1"/>
<rect x="272.0" y="487" width="48.0" height="3" fill="#efeff0"/>
<rect x="320.0" y="487" width="54.0" height="3" fill="#e6edf2"/>
<rect x="374.0" y="487" width="38.0" height="3" fill="#e7edf2"/>
<rect x="412.0" y="487" width="33.3" height="3" fill="#e9eef1"/>
<rect x="0.3" y="490" width="127.7" height="1" fill="#f5e2dd"/>
<rect x="128.0" y="490" width="58.0" height="1" fill="#edeff1"/>
<rect x="186.0" y="490" width="12.0" height="1" fill="#e6edf2"/>
<rect x="198.0" y="490" width="30.0" height="1" fill="#e6edf2"/>
<rect x="228.0" y="490" width="44.0" height="1" fill="#e8edf1"/>
<rect x="272.0" y="490" width="48.0" height="1" fill="#eeeff1"/>
<rect x="320.0" y="490" width="54.0" height="1" fill="#e3ecf2"/>
<rect x="374.0" y="490" width="38.0" height="1" fill="#e5edf2"/>
<rect x="412.0" y="490" width="33.3" height="1" fill="#e3ecf2"/>
<rect x="0.3" y="491" width="127.7" height="1" fill="#f7dbd4"/>
<rect x="128.0" y="491" width="58.0" height="1" fill="#f2f0ef"/>
<rect x="186.0" y="491" width="12.0" height="1" fill="#edeff1"/>
<rect x="198.0" y="491" width="30.0" height="1" fill="#eceff1"/>
<rect x="228.0" y="491" width="44.0" height="1" fill="#eceef1"/>
<rect x="272.0" y="491" width="48.0" height="1" fill="#f2f0f0"/>
<rect x="320.0" y="491" width="54.0" height="1" fill="#e8edf1"/>
<rect x="374.0" y="491" width="38.0" height="1" fill="#eaeef1"/>
<rect x="412.0" y="491" width="33.3" height="1" fill="#ebeef1"/>
<rect x="0.3" y="492" width="127.7" height="1" fill="#f6ddd7"/>
<rect x="128.0" y="492" width="58.0" height="1" fill="#efeff0"/>
<rect x="186.0" y="492" width="12.0" height="1" fill="#eceef1"/>
<rect x="198.0" y="492" width="30.0" height="1" fill="#ebeef1"/>
<rect x="228.0" y="492" width="44.0" height="1" fill="#ebeef1"/>
<rect x="272.0" y="492" width="48.0" height="1" fill="#efeff0"/>
<rect x="320.0" y="492" width="54.0" height="1" fill="#e6edf2"/>
<rect x="374.0" y="492" width="38.0" height="1" fill="#e9eef1"/>
<rect x="412.0" y="492" width="33.3" height="1" fill="#e9eef1"/>
<rect x="0.3" y="493" width="127.7" height="3" fill="#f7dcd5"/>
<rect x="128.0" y="493" width="58.0" height="3" fill="#f0f0f0"/>
<rect x="186.0" y="493" width="12.0" height="3" fill="#e9eef1"/>
<rect x="198.0" y="493" width="30.0" height="3" fill="#ebeef1"/>
<rect x="228.0" y="493" width="44.0" height="3" fill="#eceef1"/>
<rect x="272.0" y="493" width="48.0" height="3" fill="#efeff0"/>
<rect x="320.0" y="493" width="54.0" height="3" fill="#e7edf2"/>
<rect x="374.0" y="493" width="38.0" height="3" fill="#e8edf1"/>
<rect x="412.0" y="493" width="33.3" height="3" fill="#e9eef1"/>
<rect x="0.3" y="496" width="127.7" height="3" fill="#f7dcd4"/>
<rect x="128.0" y="496" width="58.0" height="3" fill="#f1f0f0"/>
<rect x="186.0" y="496" width="12.0" height="3" fill="#edeff1"/>
<rect x="198.0" y="496" width="30.0" height="3" fill="#edeff1"/>
<rect x="228.0" y="496" width="44.0" height="3" fill="#eceef1"/>
<rect x="272.0" y="496" width="48.0" height="3" fill="#f1f0f0"/>
<rect x="320.0" y="496" width="54.0" height="3" fill="#e9eef1"/>
<rect x="374.0" y="496" width="38.0" height="3" fill="#ebeef1"/>
<rect x="412.0" y="496" width="33.3" height="3" fill="#eceef1"/>
<rect x="0.3" y="499" width="127.7" height="1" fill="#f5e2dd"/>
<rect x="128.0" y="499" width="58.0" height="1" fill="#eeeff1"/>
<rect x="186.0" y="499" width="12.0" height="1" fill="#ebeef1"/>
<rect x="198.0" y="499" width="30.0" height="1" fill="#e7edf2"/>
<rect x="228.0" y="499" width="44.0" height="1" fill="#e6edf2"/>
<rect x="272.0" y="499" width="48.0" height="1" fill="#edeff1"/>
<rect x="320.0" y="499" width="54.0" height="1" fill="#e5edf2"/>
<rect x="374.0" y="499" width="38.0" height="1" fill="#e5edf2"/>
<rect x="412.0" y="499" width="33.3" height="1" fill="#e6edf2"/>
<rect x="0.3" y="500" width="127.7" height="3" fill="#f6ded8"/>
<rect x="128.0" y="500" width="58.0" height="3" fill="#eeeff1"/>
<rect x="186.0" y="500" width="12.0" height="3" fill="#e8eef1"/>
<rect x="198.0" y="500" width="30.0" height="3" fill="#e9eef1"/>
<rect x="228.0" y="500" width="44.0" height="3" fill="#e9eef1"/>
<rect x="272.0" y="500" width="48.0" height="3" fill="#efeff0"/>
<rect x="320.0" y="500" width="54.0" height="3" fill="#e6edf2"/>
<rect x="374.0" y="500" width="38.0" height="3" fill="#e6edf2"/>
<rect x="412.0" y="500" width="33.3" height="3" fill="#e8edf1"/>
<rect x="0.3" y="503" width="127.7" height="1" fill="#f6ded7"/>
<rect x="128.0" y="503" width="58.0" height="1" fill="#edeff1"/>
<rect x="186.0" y="503" width="12.0" height="1" fill="#eaeef1"/>
<rect x="198.0" y="503" width="30.0" height="1" fill="#e8edf1"/>
<rect x="228.0" y="503" width="44.0" height="1" fill="#e7edf2"/>
<rect x="272.0" y="503" width="48.0" height="1" fill="#efeff0"/>
<rect x="320.0" y="503" width="54.0" height="1" fill="#e4edf2"/>
<rect x="374.0" y="503" width="38.0" height="1" fill="#e6edf2"/>
<rect x="412.0" y="503" width="33.3" height="1" fill="#e5edf2"/>
<rect x="0.3" y="504" width="127.7" height="1" fill="#f5e2dd"/>
<rect x="128.0" y="504" width="58.0" height="1" fill="#edeff1"/>
<rect x="186.0" y="504" width="12.0" height="1" fill="#e9eef1"/>
<rect x="198.0" y="504" width="30.0" height="1" fill="#e7edf2"/>
<rect x="228.0" y="504" width="44.0" height="1" fill="#e7edf2"/>
<rect x="272.0" y="504" width="48.0" height="1" fill="#edeff1"/>
<rect x="320.0" y="504" width="54.0" height="1" fill="#e4edf2"/>
<rect x="374.0" y="504" width="38.0" height="1" fill="#e6edf2"/>
<rect x="412.0" y="504" width="33.3" height="1" fill="#e6edf2"/>
<rect x="0.3" y="505" width="127.7" height="1" fill="#f5e1dc"/>
<rect x="128.0" y="505" width="58.0" height="1" fill="#f1f0f0"/>
<rect x="186.0" y="505" width="12.0" height="1" fill="#eceff1"/>
<rect x="198.0" y="505" width="30.0" height="1" fill="#eaeef1"/>
<rect x="228.0" y="505" width="44.0" height="1" fill="#edeff1"/>
<rect x="272.0" y="505" width="48.0" height="1" fill="#f2f0f0"/>
<rect x="320.0" y="505" width="54.0" height="1" fill="#eaeef1"/>
<rect x="374.0" y="505" width="38.0" height="1" fill="#ebeef1"/>
<rect x="412.0" y="505" width="33.3" height="1" fill="#ebeef1"/>
<rect x="0.3" y="506" width="127.7" height="1" fill="#f5e4e0"/>
<rect x="128.0" y="506" width="58.0" height="1" fill="#efeff0"/>
<rect x="186.0" y="506" width="12.0" height="1" fill="#ebeef1"/>
<rect x="198.0" y="506" width="30.0" height="1" fill="#e9eef1"/>
<rect x="228.0" y="506" width="44.0" height="1" fill="#e9eef1"/>
<rect x="272.0" y="506" width="48.0" height="1" fill="#f2f0f0"/>
<rect x="320.0" y="506" width="54.0" height="1" fill="#e8edf1"/>
<rect x="374.0" y="506" width="38.0" height="1" fill="#ebeef1"/>
<rect x="412.0" y="506" width="33.3" height="1" fill="#eaeef1"/>
<rect x="0.3" y="507" width="127.7" height="2" fill="#f4e6e2"/>
<rect x="128.0" y="507" width="58.0" height="2" fill="#eeeff1"/>
<rect x="186.0" y="507" width="12.0" height="2" fill="#e9eef1"/>
<rect x="198.0" y="507" width="30.0" height="2" fill="#e9eef1"/>
<rect x="228.0" y="507" width="44.0" height="2" fill="#e9eef1"/>
<rect x="272.0" y="507" width="48.0" height="2" fill="#efeff0"/>
<rect x="320.0" y="507" width="54.0" height="2" fill="#e9eef1"/>
<rect x="374.0" y="507" width="38.0" height="2" fill="#e9eef1"/>
<rect x="412.0" y="507" width="33.3" height="2" fill="#e8edf1"/>
<rect x="0.3" y="509" width="127.7" height="1" fill="#f3ecea"/>
<rect x="128.0" y="509" width="58.0" height="1" fill="#edeff1"/>
<rect x="186.0" y="509" width="12.0" height="1" fill="#e5edf2"/>
<rect x="198.0" y="509" width="30.0" height="1" fill="#e4edf2"/>
<rect x="228.0" y="509" width="44.0" height="1" fill="#e6edf2"/>
<rect x="272.0" y="509" width="48.0" height="1" fill="#eceff1"/>
<rect x="320.0" y="509" width="54.0" height="1" fill="#e5edf2"/>
<rect x="374.0" y="509" width="38.0" height="1" fill="#e6edf2"/>
<rect x="412.0" y="509" width="33.3" height="1" fill="#e5edf2"/>
<rect x="0.3" y="510" width="127.7" height="1" fill="#f4e7e4"/>
<rect x="128.0" y="510" width="58.0" height="1" fill="#f1f0f0"/>
<rect x="186.0" y="510" width="12.0" height="1" fill="#eaeef1"/>
<rect x="198.0" y="510" width="30.0" height="1" fill="#eceef1"/>
<rect x="228.0" y="510" width="44.0" height="1" fill="#e9eef1"/>
<rect x="272.0" y="510" width="48.0" height="1" fill="#efeff0"/>
<rect x="320.0" y="510" width="54.0" height="1" fill="#e7edf2"/>
<rect x="374.0" y="510" width="38.0" height="1" fill="#eaeef1"/>
<rect x="412.0" y="510" width="33.3" height="1" fill="#e8eef1"/>
<rect x="0.3" y="511" width="127.7" height="3" fill="#f3edec"/>
<rect x="128.0" y="511" width="58.0" height="3" fill="#eaeef1"/>
<rect x="186.0" y="511" width="12.0" height="3" fill="#e3ecf2"/>
<rect x="198.0" y="511" width="30.0" height="3" fill="#e2ecf2"/>
<rect x="228.0" y="511" width="44.0" height="3" fill="#e3ecf2"/>
<rect x="272.0" y="511" width="48.0" height="3" fill="#eceef1"/>
<rect x="320.0" y="511" width="54.0" height="3" fill="#e1ecf2"/>
<rect x="374.0" y="511" width="38.0" height="3" fill="#e3ecf2"/>
<rect x="412.0" y="511" width="33.3" height="3" fill="#e3ecf2"/>
<rect x="0.3" y="514" width="127.7" height="2" fill="#f4e9e7"/>
<rect x="128.0" y="514" width="58.0" height="2" fill="#eeeff1"/>
<rect x="186.0" y="514" width="12.0" height="2" fill="#e5edf2"/>
<rect x="198.0" y="514" width="30.0" height="2" fill="#e6edf2"/>
<rect x="228.0" y="514" width="44.0" height="2" fill="#e6edf2"/>
<rect x="272.0" y="514" width="48.0" height="2" fill="#edeff1"/>
<rect x="320.0" y="514" width="54.0" height="2" fill="#e6edf2"/>
<rect x="374.0" y="514" width="38.0" height="2" fill="#e7edf2"/>
<rect x="412.0" y="514" width="33.3" height="2" fill="#e7edf2"/>
<rect x="0.3" y="516" width="127.7" height="1" fill="#f4e8e5"/>
<rect x="128.0" y="516" width="58.0" height="1" fill="#edeff1"/>
<rect x="186.0" y="516" width="12.0" height="1" fill="#e6edf2"/>
<rect x="198.0" y="516" width="30.0" height="1" fill="#e8edf1"/>
<rect x="228.0" y="516" width="44.0" height="1" fill="#e6edf2"/>
<rect x="272.0" y="516" width="48.0" height="1" fill="#eeeff1"/>
<rect x="320.0" y="516" width="54.0" height="1" fill="#e7edf2"/>
<rect x="374.0" y="516" width="38.0" height="1" fill="#e8edf1"/>
<rect x="412.0" y="516" width="33.3" height="1" fill="#e8eef1"/>
<rect x="0.3" y="517" width="127.7" height="2" fill="#f6e0db"/>
<rect x="128.0" y="517" width="58.0" height="2" fill="#f0f0f0"/>
<rect x="186.0" y="517" width="12.0" height="2" fill="#ebeef1"/>
<rect x="198.0" y="517" width="30.0" height="2" fill="#eaeef1"/>
<rect x="228.0" y="517" width="44.0" height="2" fill="#eaeef1"/>
<rect x="272.0" y="517" width="48.0" height="2" fill="#f2f0f0"/>
<rect x="320.0" y="517" width="54.0" height="2" fill="#ebeef1"/>
<rect x="374.0" y="517" width="38.0" height="2" fill="#eceef1"/>
<rect x="412.0" y="517" width="33.3" height="2" fill="#ebeef1"/>
<rect x="0.3" y="519" width="127.7" height="1" fill="#f3eae8"/>
<rect x="128.0" y="519" width="58.0" height="1" fill="#efeff0"/>
<rect x="186.0" y="519" width="12.0" height="1" fill="#e8eef1"/>
<rect x="198.0" y="519" width="30.0" height="1" fill="#e8edf1"/>
<rect x="228.0" y="519" width="44.0" height="1" fill="#e7edf2"/>
<rect x="272.0" y="519" width="48.0" height="1" fill="#edeff1"/>
<rect x="320.0" y="519" width="54.0" height="1" fill="#eaeef1"/>
<rect x="374.0" y="519" width="38.0" height="1" fill="#e6edf2"/>
<rect x="412.0" y="519" width="33.3" height="1" fill="#e6edf2"/>
<rect x="0.3" y="520" width="127.7" height="1" fill="#f4e9e6"/>
<rect x="128.0" y="520" width="58.0" height="1" fill="#eeeff1"/>
<rect x="186.0" y="520" width="12.0" height="1" fill="#e7edf2"/>
<rect x="198.0" y="520" width="30.0" height="1" fill="#e5edf2"/>
<rect x="228.0" y="520" width="44.0" height="1" fill="#e5edf2"/>
<rect x="272.0" y="520" width="48.0" height="1" fill="#eeeff1"/>
<rect x="320.0" y="520" width="54.0" height="1" fill="#e5edf2"/>
<rect x="374.0" y="520" width="38.0" height="1" fill="#e7edf2"/>
<rect x="412.0" y="520" width="33.3" height="1" fill="#e6edf2"/>
<rect x="0.3" y="521" width="127.7" height="1" fill="#f3ebea"/>
<rect x="128.0" y="521" width="58.0" height="1" fill="#edeff1"/>
<rect x="186.0" y="521" width="12.0" height="1" fill="#e4edf2"/>
<rect x="198.0" y="521" width="30.0" height="1" fill="#e4edf2"/>
<rect x="228.0" y="521" width="44.0" height="1" fill="#e7edf2"/>
<rect x="272.0" y="521" width="48.0" height="1" fill="#edeff1"/>
<rect x="320.0" y="521" width="54.0" height="1" fill="#e6edf2"/>
<rect x="374.0" y="521" width="38.0" height="1" fill="#e4ecf2"/>
<rect x="412.0" y="521" width="33.3" height="1" fill="#e5edf2"/>
<rect x="0.3" y="522" width="127.7" height="1" fill="#f3eae8"/>
<rect x="128.0" y="522" width="58.0" height="1" fill="#eeeff1"/>
<rect x="186.0" y="522" width="12.0" height="1" fill="#e7edf2"/>
<rect x="198.0" y="522" width="30.0" height="1" fill="#e6edf2"/>
<rect x="228.0" y="522" width="44.0" height="1" fill="#e6edf2"/>
<rect x="272.0" y="522" width="48.0" height="1" fill="#edeff1"/>
<rect x="320.0" y="522" width="54.0" height="1" fill="#e7edf2"/>
<rect x="374.0" y="522" width="38.0" height="1" fill="#e7edf2"/>
<rect x="412.0" y="522" width="33.3" height="1" fill="#e5edf2"/>
<rect x="0.3" y="523" width="127.7" height="3" fill="#f4e8e6"/>
<rect x="128.0" y="523" width="58.0" height="3" fill="#edeff1"/>
<rect x="186.0" y="523" width="12.0" height="3" fill="#e6edf2"/>
<rect x="198.0" y="523" width="30.0" height="3" fill="#e6edf2"/>
<rect x="228.0" y="523" width="44.0" height="3" fill="#e5edf2"/>
<rect x="272.0" y="523" width="48.0" height="3" fill="#efeff0"/>
<rect x="320.0" y="523" width="54.0" height="3" fill="#e6edf2"/>
<rect x="374.0" y="523" width="38.0" height="3" fill="#e6edf2"/>
<rect x="412.0" y="523" width="33.3" height="3" fill="#e6edf2"/>
<rect x="0.3" y="526" width="127.7" height="1" fill="#f4e8e5"/>
<rect x="128.0" y="526" width="58.0" height="1" fill="#efeff0"/>
<rect x="186.0" y="526" width="12.0" height="1" fill="#e6edf2"/>
<rect x="198.0" y="526" width="30.0" height="1" fill="#e7edf2"/>
<rect x="228.0" y="526" width="44.0" height="1" fill="#e6edf2"/>
<rect x="272.0" y="526" width="48.0" height="1" fill="#eeeff1"/>
<rect x="320.0" y="526" width="54.0" height="1" fill="#e6edf2"/>
<rect x="374.0" y="526" width="38.0" height="1" fill="#e7edf2"/>
<rect x="412.0" y="526" width="33.3" height="1" fill="#e7edf2"/>
<rect x="0.3" y="527" width="127.7" height="1" fill="#f7d9d1"/>
<rect x="128.0" y="527" width="58.0" height="1" fill="#efeff0"/>
<rect x="186.0" y="527" width="12.0" height="1" fill="#ebeef1"/>
<rect x="198.0" y="527" width="30.0" height="1" fill="#e9eef1"/>
<rect x="228.0" y="527" width="44.0" height="1" fill="#e7edf2"/>
<rect x="272.0" y="527" width="48.0" height="1" fill="#f0eff0"/>
<rect x="320.0" y="527" width="54.0" height="1" fill="#e6edf2"/>
<rect x="374.0" y="527" width="38.0" height="1" fill="#e8eef1"/>
<rect x="412.0" y="527" width="33.3" height="1" fill="#e8eef1"/>
<rect x="0.3" y="528" width="127.7" height="1" fill="#f7dcd5"/>
<rect x="128.0" y="528" width="58.0" height="1" fill="#eeeff1"/>
<rect x="186.0" y="528" width="12.0" height="1" fill="#e8eef1"/>
<rect x="198.0" y="528" width="30.0" height="1" fill="#e6edf2"/>
<rect x="228.0" y="528" width="44.0" height="1" fill="#e7edf2"/>
<rect x="272.0" y="528" width="48.0" height="1" fill="#edeff1"/>
<rect x="320.0" y="528" width="54.0" height="1" fill="#e5edf2"/>
<rect x="374.0" y="528" width="38.0" height="1" fill="#e7edf2"/>
<rect x="412.0" y="528" width="33.3" height="1" fill="#e4edf2"/>
<rect x="0.3" y="529" width="127.7" height="2" fill="#f6dfd8"/>
<rect x="128.0" y="529" width="58.0" height="2" fill="#eeeff1"/>
<rect x="186.0" y="529" width="12.0" height="2" fill="#e6edf2"/>
<rect x="198.0" y="529" width="30.0" height="2" fill="#e8edf1"/>
<rect x="228.0" y="529" width="44.0" height="2" fill="#e6edf2"/>
<rect x="272.0" y="529" width="48.0" height="2" fill="#edeff1"/>
<rect x="320.0" y="529" width="54.0" height="2" fill="#e2ecf2"/>
<rect x="374.0" y="529" width="38.0" height="2" fill="#e7edf2"/>
<rect x="412.0" y="529" width="33.3" height="2" fill="#e4ecf2"/>
<rect x="0.3" y="531" width="127.7" height="2" fill="#f7dbd4"/>
<rect x="128.0" y="531" width="58.0" height="2" fill="#efeff0"/>
<rect x="186.0" y="531" width="12.0" height="2" fill="#e6edf2"/>
<rect x="198.0" y="531" width="30.0" height="2" fill="#e6edf2"/>
<rect x="228.0" y="531" width="44.0" height="2" fill="#e6edf2"/>
<rect x="272.0" y="531" width="48.0" height="2" fill="#edeff1"/>
<rect x="320.0" y="531" width="54.0" height="2" fill="#e3ecf2"/>
<rect x="374.0" y="531" width="38.0" height="2" fill="#e6edf2"/>
<rect x="412.0" y="531" width="33.3" height="2" fill="#e2ecf2"/>
<rect x="0.3" y="533" width="127.7" height="1" fill="#f6e0da"/>
<rect x="128.0" y="533" width="58.0" height="1" fill="#ebeef1"/>
<rect x="186.0" y="533" width="12.0" height="1" fill="#e2ecf2"/>
<rect x="198.0" y="533" width="30.0" height="1" fill="#e4ecf2"/>
<rect x="228.0" y="533" width="44.0" height="1" fill="#e2ecf2"/>
<rect x="272.0" y="533" width="48.0" height="1" fill="#eceef1"/>
<rect x="320.0" y="533" width="54.0" height="1" fill="#dfebf3"/>
<rect x="374.0" y="533" width="38.0" height="1" fill="#e2ecf2"/>
<rect x="412.0" y="533" width="33.3" height="1" fill="#e0ebf3"/>
<rect x="0.3" y="534" width="127.7" height="3" fill="#f8d8cf"/>
<rect x="128.0" y="534" width="58.0" height="3" fill="#f1f0f0"/>
<rect x="186.0" y="534" width="12.0" height="3" fill="#eceef1"/>
<rect x="198.0" y="534" width="30.0" height="3" fill="#e9eef1"/>
<rect x="228.0" y="534" width="44.0" height="3" fill="#ebeef1"/>
<rect x="272.0" y="534" width="48.0" height="3" fill="#f1f0f0"/>
<rect x="320.0" y="534" width="54.0" height="3" fill="#e8eef1"/>
<rect x="374.0" y="534" width="38.0" height="3" fill="#ebeef1"/>
<rect x="412.0" y="534" width="33.3" height="3" fill="#e8edf1"/>
<rect x="0.3" y="537" width="127.7" height="1" fill="#f8d7ce"/>
<rect x="128.0" y="537" width="58.0" height="1" fill="#f2f0f0"/>
<rect x="186.0" y="537" width="12.0" height="1" fill="#efeff0"/>
<rect x="198.0" y="537" width="30.0" height="1" fill="#ebeef1"/>
<rect x="228.0" y="537" width="44.0" height="1" fill="#eceff1"/>
<rect x="272.0" y="537" width="48.0" height="1" fill="#f2f0f0"/>
<rect x="320.0" y="537" width="54.0" height="1" fill="#e9eef1"/>
<rect x="374.0" y="537" width="38.0" height="1" fill="#ebeef1"/>
<rect x="412.0" y="537" width="33.3" height="1" fill="#eaeef1"/>
<rect x="0.3" y="538" width="127.7" height="1" fill="#f7dbd4"/>
<rect x="128.0" y="538" width="58.0" height="1" fill="#f1f0f0"/>
<rect x="186.0" y="538" width="12.0" height="1" fill="#eaeef1"/>
<rect x="198.0" y="538" width="30.0" height="1" fill="#e7edf2"/>
<rect x="228.0" y="538" width="44.0" height="1" fill="#e7edf2"/>
<rect x="272.0" y="538" width="48.0" height="1" fill="#efeff0"/>
<rect x="320.0" y="538" width="54.0" height="1" fill="#e5edf2"/>
<rect x="374.0" y="538" width="38.0" height="1" fill="#e6edf2"/>
<rect x="412.0" y="538" width="33.3" height="1" fill="#e6edf2"/>
<rect x="0.3" y="539" width="127.7" height="2" fill="#f7dcd5"/>
<rect x="128.0" y="539" width="58.0" height="2" fill="#eaeef1"/>
<rect x="186.0" y="539" width="12.0" height="2" fill="#e8edf1"/>
<rect x="198.0" y="539" width="30.0" height="2" fill="#e5edf2"/>
<rect x="228.0" y="539" width="44.0" height="2" fill="#e7edf2"/>
<rect x="272.0" y="539" width="48.0" height="2" fill="#edeff1"/>
<rect x="320.0" y="539" width="54.0" height="2" fill="#e5edf2"/>
<rect x="374.0" y="539" width="38.0" height="2" fill="#e5edf2"/>
<rect x="412.0" y="539" width="33.3" height="2" fill="#e2ecf2"/>
<rect x="0.3" y="541" width="127.7" height="1" fill="#f8d7ce"/>
<rect x="128.0" y="541" width="58.0" height="1" fill="#f1f0f0"/>
<rect x="186.0" y="541" width="12.0" height="1" fill="#eeeff1"/>
<rect x="198.0" y="541" width="30.0" height="1" fill="#eceef1"/>
<rect x="228.0" y="541" width="44.0" height="1" fill="#eeeff1"/>
<rect x="272.0" y="541" width="48.0" height="1" fill="#f2f0f0"/>
<rect x="320.0" y="541" width="54.0" height="1" fill="#eaeef1"/>
<rect x="374.0" y="541" width="38.0" height="1" fill="#eaeef1"/>
<rect x="412.0" y="541" width="33.3" height="1" fill="#eaeef1"/>
<rect x="0.3" y="542" width="127.7" height="2" fill="#f7ddd6"/>
<rect x="128.0" y="542" width="58.0" height="2" fill="#edeff1"/>
<rect x="186.0" y="542" width="12.0" height="2" fill="#e7edf2"/>
<rect x="198.0" y="542" width="30.0" height="2" fill="#e5edf2"/>
<rect x="228.0" y="542" width="44.0" height="2" fill="#e8edf1"/>
<rect x="272.0" y="542" width="48.0" height="2" fill="#efeff0"/>
<rect x="320.0" y="542" width="54.0" height="2" fill="#e4edf2"/>
<rect x="374.0" y="542" width="38.0" height="2" fill="#e5edf2"/>
<rect x="412.0" y="542" width="33.3" height="2" fill="#e3ecf2"/>
<rect x="0.3" y="544" width="127.7" height="1" fill="#f6ded7"/>
<rect x="128.0" y="544" width="58.0" height="1" fill="#eeeff1"/>
<rect x="186.0" y="544" width="12.0" height="1" fill="#e6edf2"/>
<rect x="198.0" y="544" width="30.0" height="1" fill="#e5edf2"/>
<rect x="228.0" y="544" width="44.0" height="1" fill="#e6edf2"/>
<rect x="272.0" y="544" width="48.0" height="1" fill="#eeeff1"/>
<rect x="320.0" y="544" width="54.0" height="1" fill="#e6edf2"/>
<rect x="374.0" y="544" width="38.0" height="1" fill="#e6edf2"/>
<rect x="412.0" y="544" width="33.3" height="1" fill="#e2ecf2"/>
<rect x="0.3" y="545" width="127.7" height="1" fill="#f8d6cc"/>
<rect x="128.0" y="545" width="58.0" height="1" fill="#efeff0"/>
<rect x="186.0" y="545" width="12.0" height="1" fill="#ebeef1"/>
<rect x="198.0" y="545" width="30.0" height="1" fill="#eceef1"/>
<rect x="228.0" y="545" width="44.0" height="1" fill="#eaeef1"/>
<rect x="272.0" y="545" width="48.0" height="1" fill="#efeff0"/>
<rect x="320.0" y="545" width="54.0" height="1" fill="#ebeef1"/>
<rect x="374.0" y="545" width="38.0" height="1" fill="#eaeef1"/>
<rect x="412.0" y="545" width="33.3" height="1" fill="#e8edf1"/>
<rect x="0.3" y="546" width="127.7" height="3" fill="#f7d9d1"/>
<rect x="128.0" y="546" width="58.0" height="3" fill="#efeff0"/>
<rect x="186.0" y="546" width="12.0" height="3" fill="#ebeef1"/>
<rect x="198.0" y="546" width="30.0" height="3" fill="#eaeef1"/>
<rect x="228.0" y="546" width="44.0" height="3" fill="#e8edf1"/>
<rect x="272.0" y="546" width="48.0" height="3" fill="#efeff0"/>
<rect x="320.0" y="546" width="54.0" height="3" fill="#e8eef1"/>
<rect x="374.0" y="546" width="38.0" height="3" fill="#e9eef1"/>
<rect x="412.0" y="546" width="33.3" height="3" fill="#e7edf2"/>
<rect x="0.3" y="549" width="127.7" height="1" fill="#f7dad3"/>
<rect x="128.0" y="549" width="58.0" height="1" fill="#eceff1"/>
<rect x="186.0" y="549" width="12.0" height="1" fill="#e9eef1"/>
<rect x="198.0" y="549" width="30.0" height="1" fill="#e8eef1"/>
<rect x="228.0" y="549" width="44.0" height="1" fill="#e9eef1"/>
<rect x="272.0" y="549" width="48.0" height="1" fill="#efeff0"/>
<rect x="320.0" y="549" width="54.0" height="1" fill="#e4edf2"/>
<rect x="374.0" y="549" width="38.0" height="1" fill="#e5edf2"/>
<rect x="412.0" y="549" width="33.3" height="1" fill="#e5edf2"/>
<rect x="0.3" y="550" width="127.7" height="2" fill="#f7ddd6"/>
<rect x="128.0" y="550" width="58.0" height="2" fill="#edeff1"/>
<rect x="186.0" y="550" width="12.0" height="2" fill="#e8eef1"/>
<rect x="198.0" y="550" width="30.0" height="2" fill="#e7edf2"/>
<rect x="228.0" y="550" width="44.0" height="2" fill="#e9eef1"/>
<rect x="272.0" y="550" width="48.0" height="2" fill="#efeff0"/>
<rect x="320.0" y="550" width="54.0" height="2" fill="#e4edf2"/>
<rect x="374.0" y="550" width="38.0" height="2" fill="#e6edf2"/>
<rect x="412.0" y="550" width="33.3" height="2" fill="#e5edf2"/>
<rect x="0.3" y="552" width="127.7" height="3" fill="#f7ddd6"/>
<rect x="128.0" y="552" width="58.0" height="3" fill="#eeeff1"/>
<rect x="186.0" y="552" width="12.0" height="3" fill="#e6edf2"/>
<rect x="198.0" y="552" width="30.0" height="3" fill="#e4ecf2"/>
<rect x="228.0" y="552" width="44.0" height="3" fill="#e4edf2"/>
<rect x="272.0" y="552" width="48.0" height="3" fill="#edeff1"/>
<rect x="320.0" y="552" width="54.0" height="3" fill="#e6edf2"/>
<rect x="374.0" y="552" width="38.0" height="3" fill="#e7edf2"/>
<rect x="412.0" y="552" width="33.3" height="3" fill="#e5edf2"/>
<rect x="0.3" y="555" width="127.7" height="3" fill="#f7dcd5"/>
<rect x="128.0" y="555" width="58.0" height="3" fill="#f1f0f0"/>
<rect x="186.0" y="555" width="12.0" height="3" fill="#e9eef1"/>
<rect x="198.0" y="555" width="30.0" height="3" fill="#e8eef1"/>
<rect x="228.0" y="555" width="44.0" height="3" fill="#e7edf2"/>
<rect x="272.0" y="555" width="48.0" height="3" fill="#eeeff1"/>
<rect x="320.0" y="555" width="54.0" height="3" fill="#e6edf2"/>
<rect x="374.0" y="555" width="38.0" height="3" fill="#e9eef1"/>
<rect x="412.0" y="555" width="33.3" height="3" fill="#e8edf1"/>
<rect x="0.3" y="558" width="127.7" height="3" fill="#f7dad2"/>
<rect x="128.0" y="558" width="58.0" height="3" fill="#eceff1"/>
<rect x="186.0" y="558" width="12.0" height="3" fill="#e9eef1"/>
<rect x="198.0" y="558" width="30.0" height="3" fill="#e7edf2"/>
<rect x="228.0" y="558" width="44.0" height="3" fill="#e6edf2"/>
<rect x="272.0" y="558" width="48.0" height="3" fill="#efeff0"/>
<rect x="320.0" y="558" width="54.0" height="3" fill="#e5edf2"/>
<rect x="374.0" y="558" width="38.0" height="3" fill="#e9eef1"/>
<rect x="412.0" y="558" width="33.3" height="3" fill="#e7edf2"/>
<rect x="0.3" y="561" width="127.7" height="1" fill="#f8d6cd"/>
<rect x="128.0" y="561" width="58.0" height="1" fill="#efeff0"/>
<rect x="186.0" y="561" width="12.0" height="1" fill="#ebeef1"/>
<rect x="198.0" y="561" width="30.0" height="1" fill="#ebeef1"/>
<rect x="228.0" y="561" width="44.0" height="1" fill="#eaeef1"/>
<rect x="272.0" y="561" width="48.0" height="1" fill="#f1f0f0"/>
<rect x="320.0" y="561" width="54.0" height="1" fill="#eaeef1"/>
<rect x="374.0" y="561" width="38.0" height="1" fill="#ebeef1"/>
<rect x="412.0" y="561" width="33.3" height="1" fill="#e9eef1"/>
<rect x="0.3" y="562" width="127.7" height="2" fill="#f9d4ca"/>
<rect x="128.0" y="562" width="58.0" height="2" fill="#f2f0f0"/>
<rect x="186.0" y="562" width="12.0" height="2" fill="#eeeff1"/>
<rect x="198.0" y="562" width="30.0" height="2" fill="#eceef1"/>
<rect x="228.0" y="562" width="44.0" height="2" fill="#edeff1"/>
<rect x="272.0" y="562" width="48.0" height="2" fill="#f0eff0"/>
<rect x="320.0" y="562" width="54.0" height="2" fill="#eaeef1"/>
<rect x="374.0" y="562" width="38.0" height="2" fill="#edeff1"/>
<rect x="412.0" y="562" width="33.3" height="2" fill="#ebeef1"/>
<rect x="0.3" y="564" width="127.7" height="1" fill="#f6e0db"/>
<rect x="128.0" y="564" width="58.0" height="1" fill="#edeff1"/>
<rect x="186.0" y="564" width="12.0" height="1" fill="#e6edf2"/>
<rect x="198.0" y="564" width="30.0" height="1" fill="#e5edf2"/>
<rect x="228.0" y="564" width="44.0" height="1" fill="#e4ecf2"/>
<rect x="272.0" y="564" width="48.0" height="1" fill="#edeff1"/>
<rect x="320.0" y="564" width="54.0" height="1" fill="#e4ecf2"/>
<rect x="374.0" y="564" width="38.0" height="1" fill="#e5edf2"/>
<rect x="412.0" y="564" width="33.3" height="1" fill="#e4edf2"/>
<rect x="0.3" y="565" width="127.7" height="1" fill="#f8d5cb"/>
<rect x="128.0" y="565" width="58.0" height="1" fill="#f1f0f0"/>
<rect x="186.0" y="565" width="12.0" height="1" fill="#edeff1"/>
<rect x="198.0" y="565" width="30.0" height="1" fill="#edeff1"/>
<rect x="228.0" y="565" width="44.0" height="1" fill="#eceef1"/>
<rect x="272.0" y="565" width="48.0" height="1" fill="#f1f0f0"/>
<rect x="320.0" y="565" width="54.0" height="1" fill="#e8eef1"/>
<rect x="374.0" y="565" width="38.0" height="1" fill="#eaeef1"/>
<rect x="412.0" y="565" width="33.3" height="1" fill="#e9eef1"/>
<rect x="0.3" y="566" width="127.7" height="1" fill="#f7dad2"/>
<rect x="128.0" y="566" width="58.0" height="1" fill="#f0eff0"/>
<rect x="186.0" y="566" width="12.0" height="1" fill="#e7edf2"/>
<rect x="198.0" y="566" width="30.0" height="1" fill="#e9eef1"/>
<rect x="228.0" y="566" width="44.0" height="1" fill="#e7edf2"/>
<rect x="272.0" y="566" width="48.0" height="1" fill="#efeff0"/>
<rect x="320.0" y="566" width="54.0" height="1" fill="#e8edf1"/>
<rect x="374.0" y="566" width="38.0" height="1" fill="#eaeef1"/>
<rect x="412.0" y="566" width="33.3" height="1" fill="#e7edf2"/>
<rect x="0.3" y="567" width="127.7" height="1" fill="#f8d8cf"/>
<rect x="128.0" y="567" width="58.0" height="1" fill="#f0eff0"/>
<rect x="186.0" y="567" width="12.0" height="1" fill="#eaeef1"/>
<rect x="198.0" y="567" width="30.0" height="1" fill="#e9eef1"/>
<rect x="228.0" y="567" width="44.0" height="1" fill="#ebeef1"/>
<rect x="272.0" y="567" width="48.0" height="1" fill="#f1f0f0"/>
<rect x="320.0" y="567" width="54.0" height="1" fill="#e8edf1"/>
<rect x="374.0" y="567" width="38.0" height="1" fill="#eaeef1"/>
<rect x="412.0" y="567" width="33.3" height="1" fill="#e9eef1"/>
<rect x="0.3" y="568" width="127.7" height="2" fill="#f6e0da"/>
<rect x="128.0" y="568" width="58.0" height="2" fill="#ebeef1"/>
<rect x="186.0" y="568" width="12.0" height="2" fill="#e6edf2"/>
<rect x="198.0" y="568" width="30.0" height="2" fill="#e3ecf2"/>
<rect x="228.0" y="568" width="44.0" height="2" fill="#e3ecf2"/>
<rect x="272.0" y="568" width="48.0" height="2" fill="#ebeef1"/>
<rect x="320.0" y="568" width="54.0" height="2" fill="#e1ecf2"/>
<rect x="374.0" y="568" width="38.0" height="2" fill="#e4ecf2"/>
<rect x="412.0" y="568" width="33.3" height="2" fill="#e1ecf2"/>
<rect x="0.3" y="570" width="127.7" height="1" fill="#f8d7ce"/>
<rect x="128.0" y="570" width="58.0" height="1" fill="#f0f0f0"/>
<rect x="186.0" y="570" width="12.0" height="1" fill="#ebeef1"/>
<rect x="198.0" y="570" width="30.0" height="1" fill="#ebeef1"/>
<rect x="228.0" y="570" width="44.0" height="1" fill="#eaeef1"/>
<rect x="272.0" y="570" width="48.0" height="1" fill="#f2f0f0"/>
<rect x="320.0" y="570" width="54.0" height="1" fill="#e9eef1"/>
<rect x="374.0" y="570" width="38.0" height="1" fill="#e9eef1"/>
<rect x="412.0" y="570" width="33.3" height="1" fill="#e8eef1"/>
<rect x="0.3" y="571" width="127.7" height="1" fill="#f6e1db"/>
<rect x="128.0" y="571" width="58.0" height="1" fill="#e9eef1"/>
<rect x="186.0" y="571" width="12.0" height="1" fill="#e4ecf2"/>
<rect x="198.0" y="571" width="30.0" height="1" fill="#e4ecf2"/>
<rect x="228.0" y="571" width="44.0" height="1" fill="#dfebf3"/>
<rect x="272.0" y="571" width="48.0" height="1" fill="#eaeef1"/>
<rect x="320.0" y="571" width="54.0" height="1" fill="#e0ebf3"/>
<rect x="374.0" y="571" width="38.0" height="1" fill="#e2ecf2"/>
<rect x="412.0" y="571" width="33.3" height="1" fill="#deebf3"/>
<rect x="0.3" y="572" width="127.7" height="1" fill="#f7d9d1"/>
<rect x="128.0" y="572" width="58.0" height="1" fill="#f1f0f0"/>
<rect x="186.0" y="572" width="12.0" height="1" fill="#eaeef1"/>
<rect x="198.0" y="572" width="30.0" height="1" fill="#eaeef1"/>
<rect x="228.0" y="572" width="44.0" height="1" fill="#e9eef1"/>
<rect x="272.0" y="572" width="48.0" height="1" fill="#f2f0f0"/>
<rect x="320.0" y="572" width="54.0" height="1" fill="#e7edf2"/>
<rect x="374.0" y="572" width="38.0" height="1" fill="#e9eef1"/>
<rect x="412.0" y="572" width="33.3" height="1" fill="#e8edf1"/>
<rect x="0.3" y="573" width="127.7" height="1" fill="#f7dcd5"/>
<rect x="128.0" y="573" width="58.0" height="1" fill="#eeeff1"/>
<rect x="186.0" y="573" width="12.0" height="1" fill="#e8eef1"/>
<rect x="198.0" y="573" width="30.0" height="1" fill="#e5edf2"/>
<rect x="228.0" y="573" width="44.0" height="1" fill="#e6edf2"/>
<rect x="272.0" y="573" width="48.0" height="1" fill="#edeff1"/>
<rect x="320.0" y="573" width="54.0" height="1" fill="#e5edf2"/>
<rect x="374.0" y="573" width="38.0" height="1" fill="#e7edf2"/>
<rect x="412.0" y="573" width="33.3" height="1" fill="#e6edf2"/>
<rect x="0.3" y="574" width="127.7" height="1" fill="#f7d9d1"/>
<rect x="128.0" y="574" width="58.0" height="1" fill="#f1f0f0"/>
<rect x="186.0" y="574" width="12.0" height="1" fill="#eceef1"/>
<rect x="198.0" y="574" width="30.0" height="1" fill="#eaeef1"/>
<rect x="228.0" y="574" width="44.0" height="1" fill="#e8edf1"/>
<rect x="272.0" y="574" width="48.0" height="1" fill="#f1f0f0"/>
<rect x="320.0" y="574" width="54.0" height="1" fill="#e7edf2"/>
<rect x="374.0" y="574" width="38.0" height="1" fill="#e9eef1"/>
<rect x="412.0" y="574" width="33.3" height="1" fill="#e8edf1"/>
<rect x="0.3" y="575" width="127.7" height="1" fill="#f8d5cc"/>
<rect x="128.0" y="575" width="58.0" height="1" fill="#f2f0ef"/>
<rect x="186.0" y="575" width="12.0" height="1" fill="#eceff1"/>
<rect x="198.0" y="575" width="30.0" height="1" fill="#eaeef1"/>
<rect x="228.0" y="575" width="44.0" height="1" fill="#eaeef1"/>
<rect x="272.0" y="575" width="48.0" height="1" fill="#f0f0f0"/>
<rect x="320.0" y="575" width="54.0" height="1" fill="#eaeef1"/>
<rect x="374.0" y="575" width="38.0" height="1" fill="#eaeef1"/>
<rect x="412.0" y="575" width="33.3" height="1" fill="#eaeef1"/>
<rect x="0.3" y="576" width="127.7" height="2" fill="#f6dfd9"/>
<rect x="128.0" y="576" width="58.0" height="2" fill="#eceef1"/>
<rect x="186.0" y="576" width="12.0" height="2" fill="#e6edf2"/>
<rect x="198.0" y="576" width="30.0" height="2" fill="#e3ecf2"/>
<rect x="228.0" y="576" width="44.0" height="2" fill="#e3ecf2"/>
<rect x="272.0" y="576" width="48.0" height="2" fill="#eeeff1"/>
<rect x="320.0" y="576" width="54.0" height="2" fill="#e0ecf3"/>
<rect x="374.0" y="576" width="38.0" height="2" fill="#e5edf2"/>
<rect x="412.0" y="576" width="33.3" height="2" fill="#e1ecf2"/>
<rect x="0.3" y="578" width="127.7" height="1" fill="#f8d8d0"/>
<rect x="128.0" y="578" width="58.0" height="1" fill="#efeff0"/>
<rect x="186.0" y="578" width="12.0" height="1" fill="#eaeef1"/>
<rect x="198.0" y="578" width="30.0" height="1" fill="#e9eef1"/>
<rect x="228.0" y="578" width="44.0" height="1" fill="#e6edf2"/>
<rect x="272.0" y="578" width="48.0" height="1" fill="#eeeff1"/>
<rect x="320.0" y="578" width="54.0" height="1" fill="#e7edf2"/>
<rect x="374.0" y="578" width="38.0" height="1" fill="#e9eef1"/>
<rect x="412.0" y="578" width="33.3" height="1" fill="#e6edf2"/>
<rect x="0.3" y="579" width="127.7" height="1" fill="#f8d8cf"/>
<rect x="128.0" y="579" width="58.0" height="1" fill="#efeff0"/>
<rect x="186.0" y="579" width="12.0" height="1" fill="#eaeef1"/>
<rect x="198.0" y="579" width="30.0" height="1" fill="#e8eef1"/>
<rect x="228.0" y="579" width="44.0" height="1" fill="#e8eef1"/>
<rect x="272.0" y="579" width="48.0" height="1" fill="#f0eff0"/>
<rect x="320.0" y="579" width="54.0" height="1" fill="#e8edf1"/>
<rect x="374.0" y="579" width="38.0" height="1" fill="#e8edf1"/>
<rect x="412.0" y="579" width="33.3" height="1" fill="#e9eef1"/>
<rect x="0.3" y="580" width="127.7" height="1" fill="#f8d7cf"/>
<rect x="128.0" y="580" width="58.0" height="1" fill="#f2f0f0"/>
<rect x="186.0" y="580" width="12.0" height="1" fill="#ebeef1"/>
<rect x="198.0" y="580" width="30.0" height="1" fill="#eaeef1"/>
<rect x="228.0" y="580" width="44.0" height="1" fill="#eaeef1"/>
<rect x="272.0" y="580" width="48.0" height="1" fill="#f0eff0"/>
<rect x="320.0" y="580" width="54.0" height="1" fill="#e9eef1"/>
<rect x="374.0" y="580" width="38.0" height="1" fill="#ebeef1"/>
<rect x="412.0" y="580" width="33.3" height="1" fill="#e8eef1"/>
<rect x="0.3" y="581" width="127.7" height="2" fill="#f6e0da"/>
<rect x="128.0" y="581" width="58.0" height="2" fill="#eceff1"/>
<rect x="186.0" y="581" width="12.0" height="2" fill="#e8edf1"/>
<rect x="198.0" y="581" width="30.0" height="2" fill="#e4edf2"/>
<rect x="228.0" y="581" width="44.0" height="2" fill="#e5edf2"/>
<rect x="272.0" y="581" width="48.0" height="2" fill="#ebeef1"/>
<rect x="320.0" y="581" width="54.0" height="2" fill="#e2ecf2"/>
<rect x="374.0" y="581" width="38.0" height="2" fill="#e3ecf2"/>
<rect x="412.0" y="581" width="33.3" height="2" fill="#e3ecf2"/>
<rect x="0.3" y="583" width="127.7" height="1" fill="#f7dcd4"/>
<rect x="128.0" y="583" width="58.0" height="1" fill="#edeff1"/>
<rect x="186.0" y="583" width="12.0" height="1" fill="#e9eef1"/>
<rect x="198.0" y="583" width="30.0" height="1" fill="#e6edf2"/>
<rect x="228.0" y="583" width="44.0" height="1" fill="#e3ecf2"/>
<rect x="272.0" y="583" width="48.0" height="1" fill="#edeff1"/>
<rect x="320.0" y="583" width="54.0" height="1" fill="#e4edf2"/>
<rect x="374.0" y="583" width="38.0" height="1" fill="#e6edf2"/>
<rect x="412.0" y="583" width="33.3" height="1" fill="#e3ecf2"/>
<rect x="0.3" y="584" width="127.7" height="1" fill="#f7d9d1"/>
<rect x="128.0" y="584" width="58.0" height="1" fill="#efeff0"/>
<rect x="186.0" y="584" width="12.0" height="1" fill="#ebeef1"/>
<rect x="198.0" y="584" width="30.0" height="1" fill="#e9eef1"/>
<rect x="228.0" y="584" width="44.0" height="1" fill="#e9eef1"/>
<rect x="272.0" y="584" width="48.0" height="1" fill="#efeff0"/>
<rect x="320.0" y="584" width="54.0" height="1" fill="#e7edf2"/>
<rect x="374.0" y="584" width="38.0" height="1" fill="#ebeef1"/>
<rect x="412.0" y="584" width="33.3" height="1" fill="#e8edf1"/>
<rect x="0.3" y="585" width="127.7" height="1" fill="#f5e1dc"/>
<rect x="128.0" y="585" width="58.0" height="1" fill="#eaeef1"/>
<rect x="186.0" y="585" width="12.0" height="1" fill="#e4ecf2"/>
<rect x="198.0" y="585" width="30.0" height="1" fill="#e3ecf2"/>
<rect x="228.0" y="585" width="44.0" height="1" fill="#e2ecf2"/>
<rect x="272.0" y="585" width="48.0" height="1" fill="#eaeef1"/>
<rect x="320.0" y="585" width="54.0" height="1" fill="#e2ecf2"/>
<rect x="374.0" y="585" width="38.0" height="1" fill="#e1ecf2"/>
<rect x="412.0" y="585" width="33.3" height="1" fill="#dfebf3"/>
<rect x="0.3" y="586" width="127.7" height="1" fill="#f7dbd3"/>
<rect x="128.0" y="586" width="58.0" height="1" fill="#eeeff1"/>
<rect x="186.0" y="586" width="12.0" height="1" fill="#e8edf1"/>
<rect x="198.0" y="586" width="30.0" height="1" fill="#e7edf2"/>
<rect x="228.0" y="586" width="44.0" height="1" fill="#e6edf2"/>
<rect x="272.0" y="586" width="48.0" height="1" fill="#eeeff1"/>
<rect x="320.0" y="586" width="54.0" height="1" fill="#e5edf2"/>
<rect x="374.0" y="586" width="38.0" height="1" fill="#e7edf2"/>
<rect x="412.0" y="586" width="33.3" height="1" fill="#e5edf2"/>
<rect x="0.3" y="587" width="127.7" height="2" fill="#f7dbd4"/>
<rect x="128.0" y="587" width="58.0" height="2" fill="#f0eff0"/>
<rect x="186.0" y="587" width="12.0" height="2" fill="#e9eef1"/>
<rect x="198.0" y="587" width="30.0" height="2" fill="#e7edf2"/>
<rect x="228.0" y="587" width="44.0" height="2" fill="#e9eef1"/>
<rect x="272.0" y="587" width="48.0" height="2" fill="#f0f0f0"/>
<rect x="320.0" y="587" width="54.0" height="2" fill="#e6edf2"/>
<rect x="374.0" y="587" width="38.0" height="2" fill="#e7edf2"/>
<rect x="412.0" y="587" width="33.3" height="2" fill="#e6edf2"/>
<rect x="0.3" y="589" width="127.7" height="3" fill="#f6ddd7"/>
<rect x="128.0" y="589" width="58.0" height="3" fill="#edeff1"/>
<rect x="186.0" y="589" width="12.0" height="3" fill="#e8edf1"/>
<rect x="198.0" y="589" width="30.0" height="3" fill="#e6edf2"/>
<rect x="228.0" y="589" width="44.0" height="3" fill="#e4ecf2"/>
<rect x="272.0" y="589" width="48.0" height="3" fill="#efeff0"/>
<rect x="320.0" y="589" width="54.0" height="3" fill="#e3ecf2"/>
<rect x="374.0" y="589" width="38.0" height="3" fill="#e5edf2"/>
<rect x="412.0" y="589" width="33.3" height="3" fill="#e2ecf2"/>
<rect x="0.3" y="592" width="127.7" height="3" fill="#f7dad2"/>
<rect x="128.0" y="592" width="58.0" height="3" fill="#efeff0"/>
<rect x="186.0" y="592" width="12.0" height="3" fill="#e9eef1"/>
<rect x="198.0" y="592" width="30.0" height="3" fill="#e6edf2"/>
<rect x="228.0" y="592" width="44.0" height="3" fill="#e7edf2"/>
<rect x="272.0" y="592" width="48.0" height="3" fill="#f0f0f0"/>
<rect x="320.0" y="592" width="54.0" height="3" fill="#e6edf2"/>
<rect x="374.0" y="592" width="38.0" height="3" fill="#e9eef1"/>
<rect x="412.0" y="592" width="33.3" height="3" fill="#e5edf2"/>
<rect x="0.3" y="595" width="127.7" height="2" fill="#f7dbd4"/>
<rect x="128.0" y="595" width="58.0" height="2" fill="#f1f0f0"/>
<rect x="186.0" y="595" width="12.0" height="2" fill="#e9eef1"/>
<rect x="198.0" y="595" width="30.0" height="2" fill="#e8eef1"/>
<rect x="228.0" y="595" width="44.0" height="2" fill="#e8eef1"/>
<rect x="272.0" y="595" width="48.0" height="2" fill="#efeff0"/>
<rect x="320.0" y="595" width="54.0" height="2" fill="#e6edf2"/>
<rect x="374.0" y="595" width="38.0" height="2" fill="#eaeef1"/>
<rect x="412.0" y="595" width="33.3" height="2" fill="#e6edf2"/>
<rect x="0.3" y="597" width="127.7" height="1" fill="#f7d9d1"/>
<rect x="128.0" y="597" width="58.0" height="1" fill="#efeff0"/>
<rect x="186.0" y="597" width="12.0" height="1" fill="#e8eef1"/>
<rect x="198.0" y="597" width="30.0" height="1" fill="#e7edf2"/>
<rect x="228.0" y="597" width="44.0" height="1" fill="#e6edf2"/>
<rect x="272.0" y="597" width="48.0" height="1" fill="#eeeff1"/>
<rect x="320.0" y="597" width="54.0" height="1" fill="#e4edf2"/>
<rect x="374.0" y="597" width="38.0" height="1" fill="#e6edf2"/>
<rect x="412.0" y="597" width="33.3" height="1" fill="#e6edf2"/>
<rect x="0.3" y="598" width="127.7" height="2" fill="#f7dcd5"/>
<rect x="128.0" y="598" width="58.0" height="2" fill="#edeff1"/>
<rect x="186.0" y="598" width="12.0" height="2" fill="#e9eef1"/>
<rect x="198.0" y="598" width="30.0" height="2" fill="#e8edf1"/>
<rect x="228.0" y="598" width="44.0" height="2" fill="#e8edf1"/>
<rect x="272.0" y="598" width="48.0" height="2" fill="#efeff0"/>
<rect x="320.0" y="598" width="54.0" height="2" fill="#e7edf2"/>
<rect x="374.0" y="598" width="38.0" height="2" fill="#e9eef1"/>
<rect x="412.0" y="598" width="33.3" height="2" fill="#e7edf2"/>
<rect x="0.3" y="600" width="127.7" height="1" fill="#f8d8d0"/>
<rect x="128.0" y="600" width="58.0" height="1" fill="#efeff0"/>
<rect x="186.0" y="600" width="12.0" height="1" fill="#eaeef1"/>
<rect x="198.0" y="600" width="30.0" height="1" fill="#e7edf2"/>
<rect x="228.0" y="600" width="44.0" height="1" fill="#e8eef1"/>
<rect x="272.0" y="600" width="48.0" height="1" fill="#efeff0"/>
<rect x="320.0" y="600" width="54.0" height="1" fill="#e6edf2"/>
<rect x="374.0" y="600" width="38.0" height="1" fill="#e8edf1"/>
<rect x="412.0" y="600" width="33.3" height="1" fill="#e8edf1"/>
<rect x="0.3" y="601" width="127.7" height="1" fill="#f7dcd4"/>
<rect x="128.0" y="601" width="58.0" height="1" fill="#edeff1"/>
<rect x="186.0" y="601" width="12.0" height="1" fill="#e6edf2"/>
<rect x="198.0" y="601" width="30.0" height="1" fill="#e6edf2"/>
<rect x="228.0" y="601" width="44.0" height="1" fill="#e4edf2"/>
<rect x="272.0" y="601" width="48.0" height="1" fill="#eeeff1"/>
<rect x="320.0" y="601" width="54.0" height="1" fill="#e3ecf2"/>
<rect x="374.0" y="601" width="38.0" height="1" fill="#e4edf2"/>
<rect x="412.0" y="601" width="33.3" height="1" fill="#e4ecf2"/>
<rect x="0.3" y="602" width="127.7" height="2" fill="#f7dad2"/>
<rect x="128.0" y="602" width="58.0" height="2" fill="#f0f0f0"/>
<rect x="186.0" y="602" width="12.0" height="2" fill="#ebeef1"/>
<rect x="198.0" y="602" width="30.0" height="2" fill="#eaeef1"/>
<rect x="228.0" y="602" width="44.0" height="2" fill="#e9eef1"/>
<rect x="272.0" y="602" width="48.0" height="2" fill="#eeeff1"/>
<rect x="320.0" y="602" width="54.0" height="2" fill="#e7edf2"/>
<rect x="374.0" y="602" width="38.0" height="2" fill="#e9eef1"/>
<rect x="412.0" y="602" width="33.3" height="2" fill="#e6edf2"/>
<rect x="0.3" y="604" width="127.7" height="2" fill="#f7dbd3"/>
<rect x="128.0" y="604" width="58.0" height="2" fill="#efeff0"/>
<rect x="186.0" y="604" width="12.0" height="2" fill="#e9eef1"/>
<rect x="198.0" y="604" width="30.0" height="2" fill="#e5edf2"/>
<rect x="228.0" y="604" width="44.0" height="2" fill="#e7edf2"/>
<rect x="272.0" y="604" width="48.0" height="2" fill="#edeff1"/>
<rect x="320.0" y="604" width="54.0" height="2" fill="#e4edf2"/>
<rect x="374.0" y="604" width="38.0" height="2" fill="#e6edf2"/>
<rect x="412.0" y="604" width="33.3" height="2" fill="#e6edf2"/>
<rect x="0.3" y="606" width="127.7" height="2" fill="#f7dad2"/>
<rect x="128.0" y="606" width="58.0" height="2" fill="#eeeff1"/>
<rect x="186.0" y="606" width="12.0" height="2" fill="#ebeef1"/>
<rect x="198.0" y="606" width="30.0" height="2" fill="#e7edf2"/>
<rect x="228.0" y="606" width="44.0" height="2" fill="#e9eef1"/>
<rect x="272.0" y="606" width="48.0" height="2" fill="#f0eff0"/>
<rect x="320.0" y="606" width="54.0" height="2" fill="#e4edf2"/>
<rect x="374.0" y="606" width="38.0" height="2" fill="#e6edf2"/>
<rect x="412.0" y="606" width="33.3" height="2" fill="#e7edf2"/>
<rect x="0.3" y="608" width="127.7" height="2" fill="#f4e6e2"/>
<rect x="128.0" y="608" width="58.0" height="2" fill="#e8eef1"/>
<rect x="186.0" y="608" width="12.0" height="2" fill="#e1ecf2"/>
<rect x="198.0" y="608" width="30.0" height="2" fill="#dfebf3"/>
<rect x="228.0" y="608" width="44.0" height="2" fill="#dfebf3"/>
<rect x="272.0" y="608" width="48.0" height="2" fill="#e9eef1"/>
<rect x="320.0" y="608" width="54.0" height="2" fill="#dfebf3"/>
<rect x="374.0" y="608" width="38.0" height="2" fill="#dfebf3"/>
<rect x="412.0" y="608" width="33.3" height="2" fill="#dfebf3"/>
<rect x="0.3" y="610" width="127.7" height="3" fill="#f7d9d1"/>
<rect x="128.0" y="610" width="58.0" height="3" fill="#f0eff0"/>
<rect x="186.0" y="610" width="12.0" height="3" fill="#ebeef1"/>
<rect x="198.0" y="610" width="30.0" height="3" fill="#eaeef1"/>
<rect x="228.0" y="610" width="44.0" height="3" fill="#e9eef1"/>
<rect x="272.0" y="610" width="48.0" height="3" fill="#f2f0ef"/>
<rect x="320.0" y="610" width="54.0" height="3" fill="#e7edf2"/>
<rect x="374.0" y="610" width="38.0" height="3" fill="#eaeef1"/>
<rect x="412.0" y="610" width="33.3" height="3" fill="#e8eef1"/>
<rect x="0.3" y="613" width="127.7" height="1" fill="#f7dbd4"/>
<rect x="128.0" y="613" width="58.0" height="1" fill="#edeff1"/>
<rect x="186.0" y="613" width="12.0" height="1" fill="#e9eef1"/>
<rect x="198.0" y="613" width="30.0" height="1" fill="#eaeef1"/>
<rect x="228.0" y="613" width="44.0" height="1" fill="#e5edf2"/>
<rect x="272.0" y="613" width="48.0" height="1" fill="#edeff1"/>
<rect x="320.0" y="613" width="54.0" height="1" fill="#e6edf2"/>
<rect x="374.0" y="613" width="38.0" height="1" fill="#e7edf2"/>
<rect x="412.0" y="613" width="33.3" height="1" fill="#e8edf1"/>
<rect x="0.3" y="614" width="127.7" height="1" fill="#f6ded8"/>
<rect x="128.0" y="614" width="58.0" height="1" fill="#efeff0"/>
<rect x="186.0" y="614" width="12.0" height="1" fill="#e8eef1"/>
<rect x="198.0" y="614" width="30.0" height="1" fill="#e6edf2"/>
<rect x="228.0" y="614" width="44.0" height="1" fill="#e6edf2"/>
<rect x="272.0" y="614" width="48.0" height="1" fill="#edeff1"/>
<rect x="320.0" y="614" width="54.0" height="1" fill="#e4edf2"/>
<rect x="374.0" y="614" width="38.0" height="1" fill="#e7edf2"/>
<rect x="412.0" y="614" width="33.3" height="1" fill="#e5edf2"/>
<rect x="0.3" y="615" width="127.7" height="2" fill="#f7ddd6"/>
<rect x="128.0" y="615" width="58.0" height="2" fill="#eeeff1"/>
<rect x="186.0" y="615" width="12.0" height="2" fill="#eaeef1"/>
<rect x="198.0" y="615" width="30.0" height="2" fill="#e8eef1"/>
<rect x="228.0" y="615" width="44.0" height="2" fill="#e6edf2"/>
<rect x="272.0" y="615" width="48.0" height="2" fill="#efeff0"/>
<rect x="320.0" y="615" width="54.0" height="2" fill="#e4ecf2"/>
<rect x="374.0" y="615" width="38.0" height="2" fill="#e6edf2"/>
<rect x="412.0" y="615" width="33.3" height="2" fill="#e5edf2"/>
<rect x="0.3" y="617" width="127.7" height="3" fill="#f6ded7"/>
<rect x="128.0" y="617" width="58.0" height="3" fill="#ebeef1"/>
<rect x="186.0" y="617" width="12.0" height="3" fill="#e8eef1"/>
<rect x="198.0" y="617" width="30.0" height="3" fill="#e5edf2"/>
<rect x="228.0" y="617" width="44.0" height="3" fill="#e7edf2"/>
<rect x="272.0" y="617" width="48.0" height="3" fill="#eceff1"/>
<rect x="320.0" y="617" width="54.0" height="3" fill="#e2ecf2"/>
<rect x="374.0" y="617" width="38.0" height="3" fill="#e4edf2"/>
<rect x="412.0" y="617" width="33.3" height="3" fill="#e4edf2"/>
<rect x="0.3" y="620" width="127.7" height="2" fill="#f7dcd5"/>
<rect x="128.0" y="620" width="58.0" height="2" fill="#f0eff0"/>
<rect x="186.0" y="620" width="12.0" height="2" fill="#e8eef1"/>
<rect x="198.0" y="620" width="30.0" height="2" fill="#e6edf2"/>
<rect x="228.0" y="620" width="44.0" height="2" fill="#e6edf2"/>
<rect x="272.0" y="620" width="48.0" height="2" fill="#edeff1"/>
<rect x="320.0" y="620" width="54.0" height="2" fill="#e3ecf2"/>
<rect x="374.0" y="620" width="38.0" height="2" fill="#e4edf2"/>
<rect x="412.0" y="620" width="33.3" height="2" fill="#e4ecf2"/>
<rect x="0.3" y="622" width="127.7" height="1" fill="#f8d6cd"/>
<rect x="128.0" y="622" width="58.0" height="1" fill="#f2efef"/>
<rect x="186.0" y="622" width="12.0" height="1" fill="#eeeff1"/>
<rect x="198.0" y="622" width="30.0" height="1" fill="#eceff1"/>
<rect x="228.0" y="622" width="44.0" height="1" fill="#ebeef1"/>
<rect x="272.0" y="622" width="48.0" height="1" fill="#f2f0f0"/>
<rect x="320.0" y="622" width="54.0" height="1" fill="#edeff1"/>
<rect x="374.0" y="622" width="38.0" height="1" fill="#eeeff1"/>
<rect x="412.0" y="622" width="33.3" height="1" fill="#ebeef1"/>
<rect x="0.3" y="623" width="127.7" height="3" fill="#f3ebea"/>
<rect x="128.0" y="623" width="58.0" height="3" fill="#edeff1"/>
<rect x="186.0" y="623" width="12.0" height="3" fill="#e7edf2"/>
<rect x="198.0" y="623" width="30.0" height="3" fill="#e7edf2"/>
<rect x="228.0" y="623" width="44.0" height="3" fill="#e7edf2"/>
<rect x="272.0" y="623" width="48.0" height="3" fill="#e9eef1"/>
<rect x="320.0" y="623" width="54.0" height="3" fill="#e5edf2"/>
<rect x="374.0" y="623" width="38.0" height="3" fill="#e4edf2"/>
<rect x="412.0" y="623" width="33.3" height="3" fill="#e7edf2"/>
<rect x="0.3" y="626" width="127.7" height="1" fill="#f3eae8"/>
<rect x="128.0" y="626" width="58.0" height="1" fill="#eeeff1"/>
<rect x="186.0" y="626" width="12.0" height="1" fill="#e7edf2"/>
<rect x="198.0" y="626" width="30.0" height="1" fill="#e5edf2"/>
<rect x="228.0" y="626" width="44.0" height="1" fill="#eaeef1"/>
<rect x="272.0" y="626" width="48.0" height="1" fill="#eceef1"/>
<rect x="320.0" y="626" width="54.0" height="1" fill="#eaeef1"/>
<rect x="374.0" y="626" width="38.0" height="1" fill="#e9eef1"/>
<rect x="412.0" y="626" width="33.3" height="1" fill="#e8eef1"/>
<rect x="0.3" y="627" width="127.7" height="1" fill="#f4e9e7"/>
<rect x="128.0" y="627" width="58.0" height="1" fill="#eeeff1"/>
<rect x="186.0" y="627" width="12.0" height="1" fill="#e8edf1"/>
<rect x="198.0" y="627" width="30.0" height="1" fill="#e9eef1"/>
<rect x="228.0" y="627" width="44.0" height="1" fill="#e7edf2"/>
<rect x="272.0" y="627" width="48.0" height="1" fill="#eceef1"/>
<rect x="320.0" y="627" width="54.0" height="1" fill="#e8eef1"/>
<rect x="374.0" y="627" width="38.0" height="1" fill="#e8eef1"/>
<rect x="412.0" y="627" width="33.3" height="1" fill="#e7edf2"/>
<rect x="0.3" y="628" width="127.7" height="2" fill="#f4e9e7"/>
<rect x="128.0" y="628" width="58.0" height="2" fill="#efeff0"/>
<rect x="186.0" y="628" width="12.0" height="2" fill="#e6edf2"/>
<rect x="198.0" y="628" width="30.0" height="2" fill="#e8eef1"/>
<rect x="228.0" y="628" width="44.0" height="2" fill="#e7edf2"/>
<rect x="272.0" y="628" width="48.0" height="2" fill="#edeff1"/>
<rect x="320.0" y="628" width="54.0" height="2" fill="#e8eef1"/>
<rect x="374.0" y="628" width="38.0" height="2" fill="#e6edf2"/>
<rect x="412.0" y="628" width="33.3" height="2" fill="#eaeef1"/>
<rect x="0.3" y="630" width="127.7" height="1" fill="#f4e6e2"/>
<rect x="128.0" y="630" width="58.0" height="1" fill="#f1f0f0"/>
<rect x="186.0" y="630" width="12.0" height="1" fill="#e8eef1"/>
<rect x="198.0" y="630" width="30.0" height="1" fill="#e9eef1"/>
<rect x="228.0" y="630" width="44.0" height="1" fill="#ebeef1"/>
<rect x="272.0" y="630" width="48.0" height="1" fill="#eceff1"/>
<rect x="320.0" y="630" width="54.0" height="1" fill="#e9eef1"/>
<rect x="374.0" y="630" width="38.0" height="1" fill="#e8eef1"/>
<rect x="412.0" y="630" width="33.3" height="1" fill="#e8eef1"/>
<rect x="0.3" y="631" width="127.7" height="2" fill="#f3edec"/>
<rect x="128.0" y="631" width="58.0" height="2" fill="#eeeff1"/>
<rect x="186.0" y="631" width="12.0" height="2" fill="#e5edf2"/>
<rect x="198.0" y="631" width="30.0" height="2" fill="#e5edf2"/>
<rect x="228.0" y="631" width="44.0" height="2" fill="#e5edf2"/>
<rect x="272.0" y="631" width="48.0" height="2" fill="#eaeef1"/>
<rect x="320.0" y="631" width="54.0" height="2" fill="#e5edf2"/>
<rect x="374.0" y="631" width="38.0" height="2" fill="#e6edf2"/>
<rect x="412.0" y="631" width="33.3" height="2" fill="#e6edf2"/>
<rect x="0.3" y="633" width="127.7" height="1" fill="#f3ebe9"/>
<rect x="128.0" y="633" width="58.0" height="1" fill="#edeff1"/>
<rect x="186.0" y="633" width="12.0" height="1" fill="#e7edf2"/>
<rect x="198.0" y="633" width="30.0" height="1" fill="#e7edf2"/>
<rect x="228.0" y="633" width="44.0" height="1" fill="#e6edf2"/>
<rect x="272.0" y="633" width="48.0" height="1" fill="#e9eef1"/>
<rect x="320.0" y="633" width="54.0" height="1" fill="#e6edf2"/>
<rect x="374.0" y="633" width="38.0" height="1" fill="#e5edf2"/>
<rect x="412.0" y="633" width="33.3" height="1" fill="#e8eef1"/>
<rect x="0.3" y="634" width="127.7" height="2" fill="#f4e9e6"/>
<rect x="128.0" y="634" width="58.0" height="2" fill="#efeff0"/>
<rect x="186.0" y="634" width="12.0" height="2" fill="#e8edf1"/>
<rect x="198.0" y="634" width="30.0" height="2" fill="#e8edf1"/>
<rect x="228.0" y="634" width="44.0" height="2" fill="#e6edf2"/>
<rect x="272.0" y="634" width="48.0" height="2" fill="#ebeef1"/>
<rect x="320.0" y="634" width="54.0" height="2" fill="#e9eef1"/>
<rect x="374.0" y="634" width="38.0" height="2" fill="#e7edf2"/>
<rect x="412.0" y="634" width="33.3" height="2" fill="#e7edf2"/>
<rect x="0.3" y="636" width="127.7" height="1" fill="#f4e9e7"/>
<rect x="128.0" y="636" width="58.0" height="1" fill="#efeff0"/>
<rect x="186.0" y="636" width="12.0" height="1" fill="#e7edf2"/>
<rect x="198.0" y="636" width="30.0" height="1" fill="#e7edf2"/>
<rect x="228.0" y="636" width="44.0" height="1" fill="#eaeef1"/>
<rect x="272.0" y="636" width="48.0" height="1" fill="#eceff1"/>
<rect x="320.0" y="636" width="54.0" height="1" fill="#eaeef1"/>
<rect x="374.0" y="636" width="38.0" height="1" fill="#e8eef1"/>
<rect x="412.0" y="636" width="33.3" height="1" fill="#eaeef1"/>
<rect x="0.3" y="637" width="127.7" height="2" fill="#f4e9e6"/>
<rect x="128.0" y="637" width="58.0" height="2" fill="#edeff1"/>
<rect x="186.0" y="637" width="12.0" height="2" fill="#e8edf1"/>
<rect x="198.0" y="637" width="30.0" height="2" fill="#e6edf2"/>
<rect x="228.0" y="637" width="44.0" height="2" fill="#e6edf2"/>
<rect x="272.0" y="637" width="48.0" height="2" fill="#e9eef1"/>
<rect x="320.0" y="637" width="54.0" height="2" fill="#e5edf2"/>
<rect x="374.0" y="637" width="38.0" height="2" fill="#e7edf2"/>
<rect x="412.0" y="637" width="33.3" height="2" fill="#e5edf2"/>
<rect x="0.3" y="639" width="127.7" height="1" fill="#f4e9e7"/>
<rect x="128.0" y="639" width="58.0" height="1" fill="#f0f0f0"/>
<rect x="186.0" y="639" width="12.0" height="1" fill="#e9eef1"/>
<rect x="198.0" y="639" width="30.0" height="1" fill="#e9eef1"/>
<rect x="228.0" y="639" width="44.0" height="1" fill="#ebeef1"/>
<rect x="272.0" y="639" width="48.0" height="1" fill="#eeeff1"/>
<rect x="320.0" y="639" width="54.0" height="1" fill="#eceff1"/>
<rect x="374.0" y="639" width="38.0" height="1" fill="#ebeef1"/>
<rect x="412.0" y="639" width="33.3" height="1" fill="#eaeef1"/>
<rect x="0.3" y="640" width="127.7" height="1" fill="#f4e6e2"/>
<rect x="128.0" y="640" width="58.0" height="1" fill="#efeff0"/>
<rect x="186.0" y="640" width="12.0" height="1" fill="#e8eef1"/>
<rect x="198.0" y="640" width="30.0" height="1" fill="#eaeef1"/>
<rect x="228.0" y="640" width="44.0" height="1" fill="#e8eef1"/>
<rect x="272.0" y="640" width="48.0" height="1" fill="#edeff1"/>
<rect x="320.0" y="640" width="54.0" height="1" fill="#e8edf1"/>
<rect x="374.0" y="640" width="38.0" height="1" fill="#ebeef1"/>
<rect x="412.0" y="640" width="33.3" height="1" fill="#eaeef1"/>
<rect x="0.3" y="641" width="127.7" height="2" fill="#f3ecea"/>
<rect x="128.0" y="641" width="58.0" height="2" fill="#eaeef1"/>
<rect x="186.0" y="641" width="12.0" height="2" fill="#e2ecf2"/>
<rect x="198.0" y="641" width="30.0" height="2" fill="#e4ecf2"/>
<rect x="228.0" y="641" width="44.0" height="2" fill="#e3ecf2"/>
<rect x="272.0" y="641" width="48.0" height="2" fill="#e8eef1"/>
<rect x="320.0" y="641" width="54.0" height="2" fill="#e3ecf2"/>
<rect x="374.0" y="641" width="38.0" height="2" fill="#e4ecf2"/>
<rect x="412.0" y="641" width="33.3" height="2" fill="#e4ecf2"/>
<rect x="0.3" y="643" width="127.7" height="3" fill="#f4e5e2"/>
<rect x="128.0" y="643" width="58.0" height="3" fill="#f2f0f0"/>
<rect x="186.0" y="643" width="12.0" height="3" fill="#eaeef1"/>
<rect x="198.0" y="643" width="30.0" height="3" fill="#eaeef1"/>
<rect x="228.0" y="643" width="44.0" height="3" fill="#eaeef1"/>
<rect x="272.0" y="643" width="48.0" height="3" fill="#edeff1"/>
<rect x="320.0" y="643" width="54.0" height="3" fill="#eaeef1"/>
<rect x="374.0" y="643" width="38.0" height="3" fill="#eaeef1"/>
<rect x="412.0" y="643" width="33.3" height="3" fill="#e9eef1"/>
<rect x="0.3" y="646" width="127.7" height="1" fill="#f4e7e4"/>
<rect x="128.0" y="646" width="58.0" height="1" fill="#efeff0"/>
<rect x="186.0" y="646" width="12.0" height="1" fill="#e9eef1"/>
<rect x="198.0" y="646" width="30.0" height="1" fill="#ebeef1"/>
<rect x="228.0" y="646" width="44.0" height="1" fill="#ebeef1"/>
<rect x="272.0" y="646" width="48.0" height="1" fill="#eceef1"/>
<rect x="320.0" y="646" width="54.0" height="1" fill="#eaeef1"/>
<rect x="374.0" y="646" width="38.0" height="1" fill="#e9eef1"/>
<rect x="412.0" y="646" width="33.3" height="1" fill="#eceef1"/>
<rect x="0.3" y="647" width="127.7" height="2" fill="#f3eae8"/>
<rect x="128.0" y="647" width="58.0" height="2" fill="#efeff0"/>
<rect x="186.0" y="647" width="12.0" height="2" fill="#e8edf1"/>
<rect x="198.0" y="647" width="30.0" height="2" fill="#e9eef1"/>
<rect x="228.0" y="647" width="44.0" height="2" fill="#e7edf2"/>
<rect x="272.0" y="647" width="48.0" height="2" fill="#eceef1"/>
<rect x="320.0" y="647" width="54.0" height="2" fill="#e9eef1"/>
<rect x="374.0" y="647" width="38.0" height="2" fill="#e5edf2"/>
<rect x="412.0" y="647" width="33.3" height="2" fill="#e7edf2"/>
<rect x="0.3" y="649" width="127.7" height="1" fill="#f4e9e7"/>
<rect x="128.0" y="649" width="58.0" height="1" fill="#edeff1"/>
<rect x="186.0" y="649" width="12.0" height="1" fill="#e8eef1"/>
<rect x="198.0" y="649" width="30.0" height="1" fill="#e8eef1"/>
<rect x="228.0" y="649" width="44.0" height="1" fill="#e7edf2"/>
<rect x="272.0" y="649" width="48.0" height="1" fill="#eaeef1"/>
<rect x="320.0" y="649" width="54.0" height="1" fill="#e7edf2"/>
<rect x="374.0" y="649" width="38.0" height="1" fill="#e8eef1"/>
<rect x="412.0" y="649" width="33.3" height="1" fill="#e6edf2"/>
<rect x="0.3" y="650" width="127.7" height="2" fill="#f3edec"/>
<rect x="128.0" y="650" width="58.0" height="2" fill="#eceff1"/>
<rect x="186.0" y="650" width="12.0" height="2" fill="#e6edf2"/>
<rect x="198.0" y="650" width="30.0" height="2" fill="#e4edf2"/>
<rect x="228.0" y="650" width="44.0" height="2" fill="#e5edf2"/>
<rect x="272.0" y="650" width="48.0" height="2" fill="#eceef1"/>
<rect x="320.0" y="650" width="54.0" height="2" fill="#e6edf2"/>
<rect x="374.0" y="650" width="38.0" height="2" fill="#e6edf2"/>
<rect x="412.0" y="650" width="33.3" height="2" fill="#e6edf2"/>
<rect x="0.3" y="652" width="127.7" height="1" fill="#f3edeb"/>
<rect x="128.0" y="652" width="58.0" height="1" fill="#eceef1"/>
<rect x="186.0" y="652" width="12.0" height="1" fill="#e6edf2"/>
<rect x="198.0" y="652" width="30.0" height="1" fill="#e6edf2"/>
<rect x="228.0" y="652" width="44.0" height="1" fill="#e6edf2"/>
<rect x="272.0" y="652" width="48.0" height="1" fill="#e7edf2"/>
<rect x="320.0" y="652" width="54.0" height="1" fill="#e7edf2"/>
<rect x="374.0" y="652" width="38.0" height="1" fill="#e5edf2"/>
<rect x="412.0" y="652" width="33.3" height="1" fill="#e5edf2"/>
<rect x="0.3" y="653" width="127.7" height="1" fill="#f3eae8"/>
<rect x="128.0" y="653" width="58.0" height="1" fill="#efeff0"/>
<rect x="186.0" y="653" width="12.0" height="1" fill="#e8edf1"/>
<rect x="198.0" y="653" width="30.0" height="1" fill="#ebeef1"/>
<rect x="228.0" y="653" width="44.0" height="1" fill="#e9eef1"/>
<rect x="272.0" y="653" width="48.0" height="1" fill="#ebeef1"/>
<rect x="320.0" y="653" width="54.0" height="1" fill="#e8edf1"/>
<rect x="374.0" y="653" width="38.0" height="1" fill="#eaeef1"/>
<rect x="412.0" y="653" width="33.3" height="1" fill="#e9eef1"/>
<rect x="0.3" y="654" width="127.7" height="1" fill="#f2efef"/>
<rect x="128.0" y="654" width="58.0" height="1" fill="#ebeef1"/>
<rect x="186.0" y="654" width="12.0" height="1" fill="#e2ecf2"/>
<rect x="198.0" y="654" width="30.0" height="1" fill="#e1ecf2"/>
<rect x="228.0" y="654" width="44.0" height="1" fill="#e3ecf2"/>
<rect x="272.0" y="654" width="48.0" height="1" fill="#e5edf2"/>
<rect x="320.0" y="654" width="54.0" height="1" fill="#e4ecf2"/>
<rect x="374.0" y="654" width="38.0" height="1" fill="#e2ecf2"/>
<rect x="412.0" y="654" width="33.3" height="1" fill="#e2ecf2"/>
<rect x="0.3" y="655" width="127.7" height="1" fill="#f3eeed"/>
<rect x="128.0" y="655" width="58.0" height="1" fill="#edeff1"/>
<rect x="186.0" y="655" width="12.0" height="1" fill="#e6edf2"/>
<rect x="198.0" y="655" width="30.0" height="1" fill="#e6edf2"/>
<rect x="228.0" y="655" width="44.0" height="1" fill="#e7edf2"/>
<rect x="272.0" y="655" width="48.0" height="1" fill="#ebeef1"/>
<rect x="320.0" y="655" width="54.0" height="1" fill="#e6edf2"/>
<rect x="374.0" y="655" width="38.0" height="1" fill="#e7edf2"/>
<rect x="412.0" y="655" width="33.3" height="1" fill="#e6edf2"/>
<rect x="0.3" y="656" width="127.7" height="1" fill="#f3eae7"/>
<rect x="128.0" y="656" width="58.0" height="1" fill="#f0eff0"/>
<rect x="186.0" y="656" width="12.0" height="1" fill="#e9eef1"/>
<rect x="198.0" y="656" width="30.0" height="1" fill="#ebeef1"/>
<rect x="228.0" y="656" width="44.0" height="1" fill="#e9eef1"/>
<rect x="272.0" y="656" width="48.0" height="1" fill="#edeff1"/>
<rect x="320.0" y="656" width="54.0" height="1" fill="#eaeef1"/>
<rect x="374.0" y="656" width="38.0" height="1" fill="#eaeef1"/>
<rect x="412.0" y="656" width="33.3" height="1" fill="#e9eef1"/>
<rect x="0.3" y="657" width="127.7" height="2" fill="#f1f0f0"/>
<rect x="128.0" y="657" width="58.0" height="2" fill="#eceff1"/>
<rect x="186.0" y="657" width="12.0" height="2" fill="#e1ecf2"/>
<rect x="198.0" y="657" width="30.0" height="2" fill="#e3ecf2"/>
<rect x="228.0" y="657" width="44.0" height="2" fill="#e2ecf2"/>
<rect x="272.0" y="657" width="48.0" height="2" fill="#e7edf2"/>
<rect x="320.0" y="657" width="54.0" height="2" fill="#e3ecf2"/>
<rect x="374.0" y="657" width="38.0" height="2" fill="#e2ecf2"/>
<rect x="412.0" y="657" width="33.3" height="2" fill="#e1ecf2"/>
<rect x="0.3" y="659" width="127.7" height="1" fill="#f3eceb"/>
<rect x="128.0" y="659" width="58.0" height="1" fill="#eceff1"/>
<rect x="186.0" y="659" width="12.0" height="1" fill="#e6edf2"/>
<rect x="198.0" y="659" width="30.0" height="1" fill="#e5edf2"/>
<rect x="228.0" y="659" width="44.0" height="1" fill="#e5edf2"/>
<rect x="272.0" y="659" width="48.0" height="1" fill="#e8eef1"/>
<rect x="320.0" y="659" width="54.0" height="1" fill="#e4ecf2"/>
<rect x="374.0" y="659" width="38.0" height="1" fill="#e4ecf2"/>
<rect x="412.0" y="659" width="33.3" height="1" fill="#e6edf2"/>
<rect x="0.3" y="660" width="127.7" height="3" fill="#eaeef1"/>
<rect x="128.0" y="660" width="58.0" height="3" fill="#eceff1"/>
<rect x="186.0" y="660" width="12.0" height="3" fill="#e8eef1"/>
<rect x="198.0" y="660" width="30.0" height="3" fill="#ebeef1"/>
<rect x="228.0" y="660" width="44.0" height="3" fill="#e9eef1"/>
<rect x="272.0" y="660" width="48.0" height="3" fill="#eaeef1"/>
<rect x="320.0" y="660" width="54.0" height="3" fill="#eaeef1"/>
<rect x="374.0" y="660" width="38.0" height="3" fill="#e8eef1"/>
<rect x="412.0" y="660" width="33.3" height="3" fill="#e8edf1"/>
<rect x="0.3" y="663" width="127.7" height="2" fill="#e7edf2"/>
<rect x="128.0" y="663" width="58.0" height="2" fill="#eaeef1"/>
<rect x="186.0" y="663" width="12.0" height="2" fill="#e8eef1"/>
<rect x="198.0" y="663" width="30.0" height="2" fill="#e8edf1"/>
<rect x="228.0" y="663" width="44.0" height="2" fill="#e8edf1"/>
<rect x="272.0" y="663" width="48.0" height="2" fill="#e8eef1"/>
<rect x="320.0" y="663" width="54.0" height="2" fill="#e8eef1"/>
<rect x="374.0" y="663" width="38.0" height="2" fill="#e6edf2"/>
<rect x="412.0" y="663" width="33.3" height="2" fill="#e7edf2"/>
<rect x="186.39" y="243" width="2.02" height="110" fill="#f4c4b8" fill-opacity="0.06"/>
<rect x="190.44" y="243" width="2.02" height="422" fill="#ffffff" fill-opacity="0.13"/>
<rect x="196.50" y="243" width="2.02" height="422" fill="#ffffff" fill-opacity="0.06"/>
<rect x="202.57" y="243" width="2.02" height="422" fill="#ffffff" fill-opacity="0.08"/>
<rect x="204.60" y="243" width="2.02" height="422" fill="#ffffff" fill-opacity="0.08"/>
<rect x="206.62" y="243" width="2.02" height="110" fill="#f4c4b8" fill-opacity="0.04"/>
<rect x="208.64" y="243" width="2.02" height="422" fill="#ffffff" fill-opacity="0.12"/>
<rect x="212.69" y="243" width="2.02" height="422" fill="#ffffff" fill-opacity="0.07"/>
<rect x="216.73" y="243" width="2.02" height="422" fill="#ffffff" fill-opacity="0.16"/>
<rect x="222.80" y="243" width="2.02" height="422" fill="#ffffff" fill-opacity="0.11"/>
<rect x="224.82" y="243" width="2.02" height="422" fill="#ffffff" fill-opacity="0.11"/>
<rect x="226.85" y="243" width="2.02" height="110" fill="#f4c4b8" fill-opacity="0.06"/>
<rect x="228.87" y="243" width="2.02" height="422" fill="#ffffff" fill-opacity="0.13"/>
<rect x="230.89" y="243" width="2.02" height="422" fill="#ffffff" fill-opacity="0.09"/>
<rect x="234.94" y="243" width="2.02" height="110" fill="#f4c4b8" fill-opacity="0.07"/>
<rect x="236.96" y="243" width="2.02" height="110" fill="#f4c4b8" fill-opacity="0.06"/>
<rect x="238.98" y="243" width="2.02" height="422" fill="#ffffff" fill-opacity="0.13"/>
<rect x="241.00" y="243" width="2.02" height="110" fill="#f4c4b8" fill-opacity="0.07"/>
<rect x="245.05" y="243" width="2.02" height="422" fill="#ffffff" fill-opacity="0.09"/>
<rect x="247.07" y="243" width="2.02" height="422" fill="#ffffff" fill-opacity="0.16"/>
<rect x="249.10" y="243" width="2.02" height="110" fill="#f4c4b8" fill-opacity="0.06"/>
<rect x="255.16" y="243" width="2.02" height="422" fill="#ffffff" fill-opacity="0.12"/>
<rect x="257.19" y="243" width="2.02" height="422" fill="#ffffff" fill-opacity="0.13"/>
<rect x="269.32" y="243" width="2.02" height="422" fill="#ffffff" fill-opacity="0.11"/>
<rect x="271.35" y="243" width="2.02" height="422" fill="#ffffff" fill-opacity="0.09"/>
<rect x="275.39" y="243" width="2.02" height="110" fill="#f4c4b8" fill-opacity="0.06"/>
<rect x="277.41" y="243" width="2.02" height="422" fill="#ffffff" fill-opacity="0.08"/>
<rect x="281.46" y="243" width="2.02" height="422" fill="#ffffff" fill-opacity="0.13"/>
<rect x="285.50" y="243" width="2.02" height="422" fill="#ffffff" fill-opacity="0.11"/>
<rect x="291.57" y="243" width="2.02" height="422" fill="#ffffff" fill-opacity="0.12"/>
<rect x="295.62" y="243" width="2.02" height="422" fill="#ffffff" fill-opacity="0.12"/>
<rect x="303.71" y="243" width="2.02" height="422" fill="#ffffff" fill-opacity="0.15"/>
<rect x="307.75" y="243" width="2.02" height="422" fill="#ffffff" fill-opacity="0.11"/>
<rect x="311.80" y="243" width="2.02" height="422" fill="#ffffff" fill-opacity="0.08"/>
<rect x="327.98" y="243" width="2.02" height="422" fill="#ffffff" fill-opacity="0.13"/>
<rect x="330.00" y="243" width="2.02" height="110" fill="#f4c4b8" fill-opacity="0.05"/>
<rect x="332.03" y="243" width="2.02" height="422" fill="#ffffff" fill-opacity="0.10"/>
<rect x="336.07" y="243" width="2.02" height="110" fill="#f4c4b8" fill-opacity="0.04"/>
<rect x="340.12" y="243" width="2.02" height="422" fill="#ffffff" fill-opacity="0.11"/>
<rect x="346.19" y="243" width="2.02" height="422" fill="#ffffff" fill-opacity="0.11"/>
<rect x="348.21" y="243" width="2.02" height="422" fill="#ffffff" fill-opacity="0.15"/>
<rect x="350.23" y="243" width="2.02" height="422" fill="#ffffff" fill-opacity="0.07"/>
<rect x="358.32" y="243" width="2.02" height="422" fill="#ffffff" fill-opacity="0.10"/>
<rect x="360.35" y="243" width="2.02" height="422" fill="#ffffff" fill-opacity="0.08"/>
<rect x="362.37" y="243" width="2.02" height="422" fill="#ffffff" fill-opacity="0.09"/>
<rect x="364.39" y="243" width="2.02" height="422" fill="#ffffff" fill-opacity="0.10"/>
<rect x="366.41" y="243" width="2.02" height="422" fill="#ffffff" fill-opacity="0.15"/>
<rect x="372.48" y="243" width="2.02" height="422" fill="#ffffff" fill-opacity="0.11"/>
<rect x="374.50" y="243" width="2.02" height="422" fill="#ffffff" fill-opacity="0.07"/>
<rect x="380.57" y="243" width="2.02" height="422" fill="#ffffff" fill-opacity="0.10"/>
<rect x="382.60" y="243" width="2.02" height="110" fill="#f4c4b8" fill-opacity="0.06"/>
<rect x="390.69" y="243" width="2.02" height="422" fill="#ffffff" fill-opacity="0.13"/>
<rect x="398.78" y="243" width="2.02" height="422" fill="#ffffff" fill-opacity="0.07"/>
<rect x="400.80" y="243" width="2.02" height="422" fill="#ffffff" fill-opacity="0.12"/>
<rect x="402.82" y="243" width="2.02" height="422" fill="#ffffff" fill-opacity="0.15"/>
<rect x="406.87" y="243" width="2.02" height="422" fill="#ffffff" fill-opacity="0.07"/>
<rect x="408.89" y="243" width="2.02" height="422" fill="#ffffff" fill-opacity="0.15"/>
<rect x="414.96" y="243" width="2.02" height="422" fill="#ffffff" fill-opacity="0.08"/>
<rect x="419.00" y="243" width="2.02" height="422" fill="#ffffff" fill-opacity="0.13"/>
<rect x="421.03" y="243" width="2.02" height="422" fill="#ffffff" fill-opacity="0.12"/>
<rect x="425.07" y="243" width="2.02" height="422" fill="#ffffff" fill-opacity="0.15"/>
<rect x="433.16" y="243" width="2.02" height="422" fill="#ffffff" fill-opacity="0.09"/>
<rect x="435.19" y="243" width="2.02" height="110" fill="#f4c4b8" fill-opacity="0.07"/>
<rect x="437.21" y="243" width="2.02" height="422" fill="#ffffff" fill-opacity="0.11"/>
<rect x="439.23" y="243" width="2.02" height="422" fill="#ffffff" fill-opacity="0.10"/>
<rect x="128" y="243" width="2" height="422" fill="#efeeee" fill-opacity="0.6"/>
<ellipse shape-rendering="geometricPrecision" cx="335.4" cy="394.8" rx="1.6" ry="1.1" fill="#8ccbe6" fill-opacity="0.35"/><ellipse shape-rendering="geometricPrecision" cx="335.4" cy="394.8" rx="0.9" ry="0.7" fill="#6fbde0" fill-opacity="0.6"/>
<ellipse shape-rendering="geometricPrecision" cx="375.5" cy="399.4" rx="1.6" ry="1.1" fill="#8ccbe6" fill-opacity="0.35"/><ellipse shape-rendering="geometricPrecision" cx="375.5" cy="399.4" rx="0.9" ry="0.7" fill="#6fbde0" fill-opacity="0.6"/>
<ellipse shape-rendering="geometricPrecision" cx="358.6" cy="403.7" rx="1.6" ry="1.1" fill="#8ccbe6" fill-opacity="0.35"/><ellipse shape-rendering="geometricPrecision" cx="358.6" cy="403.7" rx="0.9" ry="0.7" fill="#6fbde0" fill-opacity="0.6"/>
<ellipse shape-rendering="geometricPrecision" cx="352.7" cy="406.7" rx="1.6" ry="1.1" fill="#8ccbe6" fill-opacity="0.35"/><ellipse shape-rendering="geometricPrecision" cx="352.7" cy="406.7" rx="0.9" ry="0.7" fill="#6fbde0" fill-opacity="0.6"/>
<ellipse shape-rendering="geometricPrecision" cx="364.6" cy="404.7" rx="1.6" ry="1.1" fill="#8ccbe6" fill-opacity="0.35"/><ellipse shape-rendering="geometricPrecision" cx="364.6" cy="404.7" rx="0.9" ry="0.7" fill="#6fbde0" fill-opacity="0.6"/>
<ellipse shape-rendering="geometricPrecision" cx="356.6" cy="408.7" rx="1.6" ry="1.1" fill="#8ccbe6" fill-opacity="0.35"/><ellipse shape-rendering="geometricPrecision" cx="356.6" cy="408.7" rx="0.9" ry="0.7" fill="#6fbde0" fill-opacity="0.6"/>
<ellipse shape-rendering="geometricPrecision" cx="362.6" cy="410.7" rx="1.6" ry="1.1" fill="#8ccbe6" fill-opacity="0.35"/><ellipse shape-rendering="geometricPrecision" cx="362.6" cy="410.7" rx="0.9" ry="0.7" fill="#6fbde0" fill-opacity="0.6"/>
<ellipse shape-rendering="geometricPrecision" cx="442.0" cy="400.8" rx="1.6" ry="1.1" fill="#8ccbe6" fill-opacity="0.35"/><ellipse shape-rendering="geometricPrecision" cx="442.0" cy="400.8" rx="0.9" ry="0.7" fill="#6fbde0" fill-opacity="0.6"/>
<ellipse shape-rendering="geometricPrecision" cx="440.0" cy="405.7" rx="1.6" ry="1.1" fill="#8ccbe6" fill-opacity="0.35"/><ellipse shape-rendering="geometricPrecision" cx="440.0" cy="405.7" rx="0.9" ry="0.7" fill="#6fbde0" fill-opacity="0.6"/>
<ellipse shape-rendering="geometricPrecision" cx="440.0" cy="410.7" rx="1.6" ry="1.1" fill="#8ccbe6" fill-opacity="0.35"/><ellipse shape-rendering="geometricPrecision" cx="440.0" cy="410.7" rx="0.9" ry="0.7" fill="#6fbde0" fill-opacity="0.6"/>
<ellipse shape-rendering="geometricPrecision" cx="444.0" cy="413.7" rx="1.6" ry="1.1" fill="#8ccbe6" fill-opacity="0.35"/><ellipse shape-rendering="geometricPrecision" cx="444.0" cy="413.7" rx="0.9" ry="0.7" fill="#6fbde0" fill-opacity="0.6"/>
<ellipse shape-rendering="geometricPrecision" cx="436.0" cy="417.6" rx="1.6" ry="1.1" fill="#8ccbe6" fill-opacity="0.35"/><ellipse shape-rendering="geometricPrecision" cx="436.0" cy="417.6" rx="0.9" ry="0.7" fill="#6fbde0" fill-opacity="0.6"/>
<ellipse shape-rendering="geometricPrecision" cx="356.6" cy="437.5" rx="1.6" ry="1.1" fill="#8ccbe6" fill-opacity="0.35"/><ellipse shape-rendering="geometricPrecision" cx="356.6" cy="437.5" rx="0.9" ry="0.7" fill="#6fbde0" fill-opacity="0.6"/>
<ellipse shape-rendering="geometricPrecision" cx="361.2" cy="438.5" rx="1.6" ry="1.1" fill="#8ccbe6" fill-opacity="0.35"/><ellipse shape-rendering="geometricPrecision" cx="361.2" cy="438.5" rx="0.9" ry="0.7" fill="#6fbde0" fill-opacity="0.6"/>
<ellipse shape-rendering="geometricPrecision" cx="345.7" cy="439.4" rx="1.6" ry="1.1" fill="#8ccbe6" fill-opacity="0.35"/><ellipse shape-rendering="geometricPrecision" cx="345.7" cy="439.4" rx="0.9" ry="0.7" fill="#6fbde0" fill-opacity="0.6"/>
<ellipse shape-rendering="geometricPrecision" cx="368.5" cy="443.8" rx="1.6" ry="1.1" fill="#8ccbe6" fill-opacity="0.35"/><ellipse shape-rendering="geometricPrecision" cx="368.5" cy="443.8" rx="0.9" ry="0.7" fill="#6fbde0" fill-opacity="0.6"/>
<ellipse shape-rendering="geometricPrecision" cx="363.6" cy="446.4" rx="1.6" ry="1.1" fill="#8ccbe6" fill-opacity="0.35"/><ellipse shape-rendering="geometricPrecision" cx="363.6" cy="446.4" rx="0.9" ry="0.7" fill="#6fbde0" fill-opacity="0.6"/>
<ellipse shape-rendering="geometricPrecision" cx="364.6" cy="448.4" rx="1.6" ry="1.1" fill="#8ccbe6" fill-opacity="0.35"/><ellipse shape-rendering="geometricPrecision" cx="364.6" cy="448.4" rx="0.9" ry="0.7" fill="#6fbde0" fill-opacity="0.6"/>
<ellipse shape-rendering="geometricPrecision" cx="335.8" cy="444.4" rx="1.6" ry="1.1" fill="#8ccbe6" fill-opacity="0.35"/><ellipse shape-rendering="geometricPrecision" cx="335.8" cy="444.4" rx="0.9" ry="0.7" fill="#6fbde0" fill-opacity="0.6"/>
<ellipse shape-rendering="geometricPrecision" cx="336.8" cy="451.3" rx="1.6" ry="1.1" fill="#8ccbe6" fill-opacity="0.35"/><ellipse shape-rendering="geometricPrecision" cx="336.8" cy="451.3" rx="0.9" ry="0.7" fill="#6fbde0" fill-opacity="0.6"/>
<ellipse shape-rendering="geometricPrecision" cx="334.8" cy="458.3" rx="1.6" ry="1.1" fill="#8ccbe6" fill-opacity="0.35"/><ellipse shape-rendering="geometricPrecision" cx="334.8" cy="458.3" rx="0.9" ry="0.7" fill="#6fbde0" fill-opacity="0.6"/>
<ellipse shape-rendering="geometricPrecision" cx="318.9" cy="459.3" rx="1.6" ry="1.1" fill="#8ccbe6" fill-opacity="0.35"/><ellipse shape-rendering="geometricPrecision" cx="318.9" cy="459.3" rx="0.9" ry="0.7" fill="#6fbde0" fill-opacity="0.6"/>
<ellipse shape-rendering="geometricPrecision" cx="367.5" cy="460.3" rx="1.6" ry="1.1" fill="#8ccbe6" fill-opacity="0.35"/><ellipse shape-rendering="geometricPrecision" cx="367.5" cy="460.3" rx="0.9" ry="0.7" fill="#6fbde0" fill-opacity="0.6"/>
<ellipse shape-rendering="geometricPrecision" cx="444.0" cy="446.4" rx="1.6" ry="1.1" fill="#8ccbe6" fill-opacity="0.35"/><ellipse shape-rendering="geometricPrecision" cx="444.0" cy="446.4" rx="0.9" ry="0.7" fill="#6fbde0" fill-opacity="0.6"/>
<ellipse shape-rendering="geometricPrecision" cx="442.0" cy="449.4" rx="1.6" ry="1.1" fill="#8ccbe6" fill-opacity="0.35"/><ellipse shape-rendering="geometricPrecision" cx="442.0" cy="449.4" rx="0.9" ry="0.7" fill="#6fbde0" fill-opacity="0.6"/>
<ellipse shape-rendering="geometricPrecision" cx="432.0" cy="439.4" rx="1.6" ry="1.1" fill="#8ccbe6" fill-opacity="0.35"/><ellipse shape-rendering="geometricPrecision" cx="432.0" cy="439.4" rx="0.9" ry="0.7" fill="#6fbde0" fill-opacity="0.6"/>
<ellipse shape-rendering="geometricPrecision" cx="344.7" cy="472.2" rx="1.6" ry="1.1" fill="#8ccbe6" fill-opacity="0.35"/><ellipse shape-rendering="geometricPrecision" cx="344.7" cy="472.2" rx="0.9" ry="0.7" fill="#6fbde0" fill-opacity="0.6"/>
<ellipse shape-rendering="geometricPrecision" cx="351.7" cy="471.2" rx="1.6" ry="1.1" fill="#8ccbe6" fill-opacity="0.35"/><ellipse shape-rendering="geometricPrecision" cx="351.7" cy="471.2" rx="0.9" ry="0.7" fill="#6fbde0" fill-opacity="0.6"/>
<ellipse shape-rendering="geometricPrecision" cx="358.6" cy="473.2" rx="1.6" ry="1.1" fill="#8ccbe6" fill-opacity="0.35"/><ellipse shape-rendering="geometricPrecision" cx="358.6" cy="473.2" rx="0.9" ry="0.7" fill="#6fbde0" fill-opacity="0.6"/>
<ellipse shape-rendering="geometricPrecision" cx="441.0" cy="467.2" rx="1.6" ry="1.1" fill="#8ccbe6" fill-opacity="0.35"/><ellipse shape-rendering="geometricPrecision" cx="441.0" cy="467.2" rx="0.9" ry="0.7" fill="#6fbde0" fill-opacity="0.6"/>
<ellipse shape-rendering="geometricPrecision" cx="444.0" cy="469.2" rx="1.6" ry="1.1" fill="#8ccbe6" fill-opacity="0.35"/><ellipse shape-rendering="geometricPrecision" cx="444.0" cy="469.2" rx="0.9" ry="0.7" fill="#6fbde0" fill-opacity="0.6"/>
<ellipse shape-rendering="geometricPrecision" cx="345.7" cy="624.8" rx="1.6" ry="1.1" fill="#8ccbe6" fill-opacity="0.35"/><ellipse shape-rendering="geometricPrecision" cx="345.7" cy="624.8" rx="0.9" ry="0.7" fill="#6fbde0" fill-opacity="0.6"/>
<ellipse shape-rendering="geometricPrecision" cx="438.0" cy="626.0" rx="1.6" ry="1.1" fill="#8ccbe6" fill-opacity="0.35"/><ellipse shape-rendering="geometricPrecision" cx="438.0" cy="626.0" rx="0.9" ry="0.7" fill="#6fbde0" fill-opacity="0.6"/>
<ellipse shape-rendering="geometricPrecision" cx="349.7" cy="642.3" rx="1.6" ry="1.1" fill="#8ccbe6" fill-opacity="0.35"/><ellipse shape-rendering="geometricPrecision" cx="349.7" cy="642.3" rx="0.9" ry="0.7" fill="#6fbde0" fill-opacity="0.6"/>
<ellipse shape-rendering="geometricPrecision" cx="335.8" cy="650.2" rx="1.6" ry="1.1" fill="#8ccbe6" fill-opacity="0.35"/><ellipse shape-rendering="geometricPrecision" cx="335.8" cy="650.2" rx="0.9" ry="0.7" fill="#6fbde0" fill-opacity="0.6"/>
<ellipse shape-rendering="geometricPrecision" cx="357.6" cy="651.8" rx="1.6" ry="1.1" fill="#8ccbe6" fill-opacity="0.35"/><ellipse shape-rendering="geometricPrecision" cx="357.6" cy="651.8" rx="0.9" ry="0.7" fill="#6fbde0" fill-opacity="0.6"/>
<ellipse shape-rendering="geometricPrecision" cx="360.6" cy="653.2" rx="1.6" ry="1.1" fill="#8ccbe6" fill-opacity="0.35"/><ellipse shape-rendering="geometricPrecision" cx="360.6" cy="653.2" rx="0.9" ry="0.7" fill="#6fbde0" fill-opacity="0.6"/>
<ellipse shape-rendering="geometricPrecision" cx="352.7" cy="654.2" rx="1.6" ry="1.1" fill="#8ccbe6" fill-opacity="0.35"/><ellipse shape-rendering="geometricPrecision" cx="352.7" cy="654.2" rx="0.9" ry="0.7" fill="#6fbde0" fill-opacity="0.6"/>
<ellipse shape-rendering="geometricPrecision" cx="444.0" cy="647.3" rx="1.6" ry="1.1" fill="#8ccbe6" fill-opacity="0.35"/><ellipse shape-rendering="geometricPrecision" cx="444.0" cy="647.3" rx="0.9" ry="0.7" fill="#6fbde0" fill-opacity="0.6"/>
<ellipse shape-rendering="geometricPrecision" cx="320.9" cy="648.3" rx="1.6" ry="1.1" fill="#8ccbe6" fill-opacity="0.35"/><ellipse shape-rendering="geometricPrecision" cx="320.9" cy="648.3" rx="0.9" ry="0.7" fill="#6fbde0" fill-opacity="0.6"/>
<ellipse shape-rendering="geometricPrecision" cx="375.5" cy="635.4" rx="1.6" ry="1.1" fill="#8ccbe6" fill-opacity="0.35"/><ellipse shape-rendering="geometricPrecision" cx="375.5" cy="635.4" rx="0.9" ry="0.7" fill="#6fbde0" fill-opacity="0.6"/>
<ellipse shape-rendering="geometricPrecision" cx="407.2" cy="642.3" rx="1.6" ry="1.1" fill="#8ccbe6" fill-opacity="0.35"/><ellipse shape-rendering="geometricPrecision" cx="407.2" cy="642.3" rx="0.9" ry="0.7" fill="#6fbde0" fill-opacity="0.6"/>
</g>
<rect x="0.30" y="149.00" width="2.04" height="9.0" fill="#88CCEE"/>
<rect x="2.32" y="149.00" width="2.04" height="9.0" fill="#CC6677"/>
<rect x="4.35" y="149.00" width="2.04" height="9.0" fill="#88CCEE"/>
<rect x="6.37" y="149.00" width="8.11" height="9.0" fill="#CC6677"/>
<rect x="14.46" y="149.00" width="2.04" height="9.0" fill="#88CCEE"/>
<rect x="16.48" y="149.00" width="10.13" height="9.0" fill="#CC6677"/>
<rect x="26.60" y="149.00" width="4.07" height="9.0" fill="#88CCEE"/>
<rect x="30.64" y="149.00" width="4.07" height="9.0" fill="#CC6677"/>
<rect x="34.69" y="149.00" width="2.04" height="9.0" fill="#88CCEE"/>
<rect x="36.71" y="149.00" width="4.07" height="9.0" fill="#CC6677"/>
<rect x="40.75" y="149.00" width="2.04" height="9.0" fill="#88CCEE"/>
<rect x="42.78" y="149.00" width="8.11" height="9.0" fill="#CC6677"/>
<rect x="50.87" y="149.00" width="2.04" height="9.0" fill="#88CCEE"/>
<rect x="52.89" y="149.00" width="4.07" height="9.0" fill="#CC6677"/>
<rect x="56.94" y="149.00" width="4.07" height="9.0" fill="#88CCEE"/>
<rect x="60.98" y="149.00" width="2.04" height="9.0" fill="#CC6677"/>
<rect x="63.00" y="149.00" width="2.04" height="9.0" fill="#88CCEE"/>
<rect x="65.03" y="149.00" width="6.09" height="9.0" fill="#CC6677"/>
<rect x="71.10" y="149.00" width="8.11" height="9.0" fill="#88CCEE"/>
<rect x="79.19" y="149.00" width="2.04" height="9.0" fill="#CC6677"/>
<rect x="81.21" y="149.00" width="4.07" height="9.0" fill="#88CCEE"/>
<rect x="85.25" y="149.00" width="16.20" height="9.0" fill="#CC6677"/>
<rect x="101.44" y="149.00" width="2.04" height="9.0" fill="#88CCEE"/>
<rect x="103.46" y="149.00" width="8.11" height="9.0" fill="#CC6677"/>
<rect x="111.55" y="149.00" width="4.07" height="9.0" fill="#88CCEE"/>
<rect x="115.60" y="149.00" width="2.04" height="9.0" fill="#CC6677"/>
<rect x="117.62" y="149.00" width="2.04" height="9.0" fill="#88CCEE"/>
<rect x="119.64" y="149.00" width="4.07" height="9.0" fill="#CC6677"/>
<rect x="123.69" y="149.00" width="2.04" height="9.0" fill="#88CCEE"/>
<rect x="125.71" y="149.00" width="4.07" height="9.0" fill="#CC6677"/>
<rect x="129.75" y="149.00" width="2.04" height="9.0" fill="#88CCEE"/>
<rect x="131.78" y="149.00" width="4.07" height="9.0" fill="#CC6677"/>
<rect x="135.82" y="149.00" width="6.09" height="9.0" fill="#88CCEE"/>
<rect x="141.89" y="149.00" width="4.07" height="9.0" fill="#CC6677"/>
<rect x="145.94" y="149.00" width="2.04" height="9.0" fill="#88CCEE"/>
<rect x="147.96" y="149.00" width="4.07" height="9.0" fill="#CC6677"/>
<rect x="152.00" y="149.00" width="6.09" height="9.0" fill="#CC6677"/>
<rect x="158.07" y="149.00" width="2.04" height="9.0" fill="#88CCEE"/>
<rect x="160.10" y="149.00" width="18.22" height="9.0" fill="#CC6677"/>
<rect x="178.30" y="149.00" width="16.20" height="9.0" fill="#88CCEE"/>
<rect x="194.48" y="149.00" width="2.04" height="9.0" fill="#CC6677"/>
<rect x="196.50" y="149.00" width="6.09" height="9.0" fill="#88CCEE"/>
<rect x="202.57" y="149.00" width="28.34" height="9.0" fill="#CC6677"/>
<rect x="230.89" y="149.00" width="2.04" height="9.0" fill="#88CCEE"/>
<rect x="232.91" y="149.00" width="22.27" height="9.0" fill="#CC6677"/>
<rect x="255.16" y="149.00" width="8.11" height="9.0" fill="#88CCEE"/>
<rect x="263.25" y="149.00" width="4.07" height="9.0" fill="#CC6677"/>
<rect x="267.30" y="149.00" width="2.04" height="9.0" fill="#88CCEE"/>
<rect x="269.32" y="149.00" width="6.09" height="9.0" fill="#CC6677"/>
<rect x="275.39" y="149.00" width="6.09" height="9.0" fill="#88CCEE"/>
<rect x="281.46" y="149.00" width="4.07" height="9.0" fill="#CC6677"/>
<rect x="285.50" y="149.00" width="6.09" height="9.0" fill="#88CCEE"/>
<rect x="291.57" y="149.00" width="4.07" height="9.0" fill="#CC6677"/>
<rect x="295.62" y="149.00" width="6.09" height="9.0" fill="#88CCEE"/>
<rect x="301.69" y="149.00" width="2.04" height="9.0" fill="#CC6677"/>
<rect x="303.71" y="149.00" width="2.04" height="9.0" fill="#88CCEE"/>
<rect x="305.73" y="149.00" width="4.07" height="9.0" fill="#CC6677"/>
<rect x="309.78" y="149.00" width="6.09" height="9.0" fill="#88CCEE"/>
<rect x="315.85" y="149.00" width="14.18" height="9.0" fill="#CC6677"/>
<rect x="330.00" y="149.00" width="2.04" height="9.0" fill="#88CCEE"/>
<rect x="332.03" y="149.00" width="2.04" height="9.0" fill="#CC6677"/>
<rect x="334.05" y="149.00" width="2.04" height="9.0" fill="#88CCEE"/>
<rect x="336.07" y="149.00" width="10.13" height="9.0" fill="#CC6677"/>
<rect x="346.19" y="149.00" width="8.11" height="9.0" fill="#88CCEE"/>
<rect x="354.28" y="149.00" width="14.18" height="9.0" fill="#CC6677"/>
<rect x="368.44" y="149.00" width="6.09" height="9.0" fill="#88CCEE"/>
<rect x="374.50" y="149.00" width="10.13" height="9.0" fill="#CC6677"/>
<rect x="384.62" y="149.00" width="2.04" height="9.0" fill="#88CCEE"/>
<rect x="386.64" y="149.00" width="2.04" height="9.0" fill="#CC6677"/>
<rect x="388.66" y="149.00" width="2.04" height="9.0" fill="#88CCEE"/>
<rect x="390.69" y="149.00" width="4.07" height="9.0" fill="#CC6677"/>
<rect x="394.73" y="149.00" width="4.07" height="9.0" fill="#88CCEE"/>
<rect x="398.78" y="149.00" width="10.13" height="9.0" fill="#CC6677"/>
<rect x="408.89" y="149.00" width="6.09" height="9.0" fill="#88CCEE"/>
<rect x="414.96" y="149.00" width="4.07" height="9.0" fill="#CC6677"/>
<rect x="419.00" y="149.00" width="2.04" height="9.0" fill="#88CCEE"/>
<rect x="421.03" y="149.00" width="4.07" height="9.0" fill="#CC6677"/>
<rect x="425.07" y="149.00" width="2.04" height="9.0" fill="#88CCEE"/>
<rect x="427.10" y="149.00" width="2.04" height="9.0" fill="#CC6677"/>
<rect x="429.12" y="149.00" width="8.11" height="9.0" fill="#88CCEE"/>
<rect x="437.21" y="149.00" width="2.04" height="9.0" fill="#CC6677"/>
<rect x="439.23" y="149.00" width="2.04" height="9.0" fill="#88CCEE"/>
<rect x="441.25" y="149.00" width="4.07" height="9.0" fill="#CC6677"/>
<rect x="0.30" y="158.97" width="186.11" height="9.0" fill="#BEBEBE"/>
<rect x="186.39" y="158.97" width="2.04" height="9.0" fill="#CC6677"/>
<rect x="188.41" y="158.97" width="2.04" height="9.0" fill="#88CCEE"/>
<rect x="190.44" y="158.97" width="6.09" height="9.0" fill="#CC6677"/>
<rect x="196.50" y="158.97" width="2.04" height="9.0" fill="#88CCEE"/>
<rect x="198.53" y="158.97" width="36.43" height="9.0" fill="#CC6677"/>
<rect x="234.94" y="158.97" width="2.04" height="9.0" fill="#88CCEE"/>
<rect x="236.96" y="158.97" width="20.25" height="9.0" fill="#CC6677"/>
<rect x="257.19" y="158.97" width="4.07" height="9.0" fill="#88CCEE"/>
<rect x="261.23" y="158.97" width="2.04" height="9.0" fill="#CC6677"/>
<rect x="263.25" y="158.97" width="6.09" height="9.0" fill="#88CCEE"/>
<rect x="269.32" y="158.97" width="2.04" height="9.0" fill="#CC6677"/>
<rect x="271.35" y="158.97" width="2.04" height="9.0" fill="#BEBEBE"/>
<rect x="273.37" y="158.97" width="2.04" height="9.0" fill="#CC6677"/>
<rect x="275.39" y="158.97" width="2.04" height="9.0" fill="#88CCEE"/>
<rect x="277.41" y="158.97" width="34.41" height="9.0" fill="#CC6677"/>
<rect x="311.80" y="158.97" width="2.04" height="9.0" fill="#88CCEE"/>
<rect x="313.82" y="158.97" width="4.07" height="9.0" fill="#CC6677"/>
<rect x="317.87" y="158.97" width="4.07" height="9.0" fill="#88CCEE"/>
<rect x="321.91" y="158.97" width="6.09" height="9.0" fill="#CC6677"/>
<rect x="327.98" y="158.97" width="4.07" height="9.0" fill="#88CCEE"/>
<rect x="332.03" y="158.97" width="2.04" height="9.0" fill="#CC6677"/>
<rect x="334.05" y="158.97" width="2.04" height="9.0" fill="#88CCEE"/>
<rect x="336.07" y="158.97" width="2.04" height="9.0" fill="#CC6677"/>
<rect x="338.10" y="158.97" width="6.09" height="9.0" fill="#88CCEE"/>
<rect x="344.16" y="158.97" width="2.04" height="9.0" fill="#CC6677"/>
<rect x="346.19" y="158.97" width="14.18" height="9.0" fill="#88CCEE"/>
<rect x="360.35" y="158.97" width="2.04" height="9.0" fill="#CC6677"/>
<rect x="362.37" y="158.97" width="16.20" height="9.0" fill="#88CCEE"/>
<rect x="378.55" y="158.97" width="2.04" height="9.0" fill="#CC6677"/>
<rect x="380.57" y="158.97" width="2.04" height="9.0" fill="#88CCEE"/>
<rect x="382.60" y="158.97" width="2.04" height="9.0" fill="#CC6677"/>
<rect x="384.62" y="158.97" width="2.04" height="9.0" fill="#88CCEE"/>
<rect x="386.64" y="158.97" width="12.16" height="9.0" fill="#CC6677"/>
<rect x="398.78" y="158.97" width="12.16" height="9.0" fill="#88CCEE"/>
<rect x="410.91" y="158.97" width="6.09" height="9.0" fill="#CC6677"/>
<rect x="416.98" y="158.97" width="12.16" height="9.0" fill="#88CCEE"/>
<rect x="429.12" y="158.97" width="4.07" height="9.0" fill="#CC6677"/>
<rect x="433.16" y="158.97" width="2.04" height="9.0" fill="#88CCEE"/>
<rect x="435.19" y="158.97" width="2.04" height="9.0" fill="#CC6677"/>
<rect x="437.21" y="158.97" width="6.09" height="9.0" fill="#88CCEE"/>
<rect x="443.28" y="158.97" width="2.04" height="9.0" fill="#CC6677"/>
<rect x="0.30" y="168.94" width="186.11" height="9.0" fill="#88CCEE"/>
<rect x="186.39" y="168.94" width="84.97" height="9.0" fill="#CC6677"/>
<rect x="271.35" y="168.94" width="2.04" height="9.0" fill="#88CCEE"/>
<rect x="273.37" y="168.94" width="36.43" height="9.0" fill="#CC6677"/>
<rect x="309.78" y="168.94" width="12.16" height="9.0" fill="#DDCC77"/>
<rect x="321.91" y="168.94" width="4.07" height="9.0" fill="#CC6677"/>
<rect x="325.96" y="168.94" width="12.16" height="9.0" fill="#DDCC77"/>
<rect x="338.10" y="168.94" width="2.04" height="9.0" fill="#CC6677"/>
<rect x="340.12" y="168.94" width="30.36" height="9.0" fill="#DDCC77"/>
<rect x="370.46" y="168.94" width="2.04" height="9.0" fill="#CC6677"/>
<rect x="372.48" y="168.94" width="4.07" height="9.0" fill="#DDCC77"/>
<rect x="376.53" y="168.94" width="24.29" height="9.0" fill="#CC6677"/>
<rect x="400.80" y="168.94" width="10.13" height="9.0" fill="#DDCC77"/>
<rect x="410.91" y="168.94" width="20.25" height="9.0" fill="#CC6677"/>
<rect x="431.14" y="168.94" width="14.18" height="9.0" fill="#DDCC77"/>
<rect x="0.30" y="178.91" width="127.45" height="9.0" fill="#88CCEE"/>
<rect x="127.73" y="178.91" width="58.68" height="9.0" fill="#CC6677"/>
<rect x="186.39" y="178.91" width="84.97" height="9.0" fill="#BEBEBE"/>
<rect x="271.35" y="178.91" width="2.04" height="9.0" fill="#CC6677"/>
<rect x="273.37" y="178.91" width="171.95" height="9.0" fill="#BEBEBE"/>
<rect x="0.30" y="188.88" width="137.57" height="9.0" fill="#88CCEE"/>
<rect x="137.85" y="188.88" width="2.04" height="9.0" fill="#CC6677"/>
<rect x="139.87" y="188.88" width="4.07" height="9.0" fill="#88CCEE"/>
<rect x="143.91" y="188.88" width="2.04" height="9.0" fill="#CC6677"/>
<rect x="145.94" y="188.88" width="6.09" height="9.0" fill="#88CCEE"/>
<rect x="152.00" y="188.88" width="2.04" height="9.0" fill="#CC6677"/>
<rect x="154.03" y="188.88" width="2.04" height="9.0" fill="#88CCEE"/>
<rect x="156.05" y="188.88" width="6.09" height="9.0" fill="#CC6677"/>
<rect x="162.12" y="188.88" width="2.04" height="9.0" fill="#88CCEE"/>
<rect x="164.14" y="188.88" width="4.07" height="9.0" fill="#CC6677"/>
<rect x="168.19" y="188.88" width="14.18" height="9.0" fill="#88CCEE"/>
<rect x="182.35" y="188.88" width="2.04" height="9.0" fill="#DDCC77"/>
<rect x="184.37" y="188.88" width="14.18" height="9.0" fill="#CC6677"/>
<rect x="198.53" y="188.88" width="14.18" height="9.0" fill="#88CCEE"/>
<rect x="212.69" y="188.88" width="4.07" height="9.0" fill="#CC6677"/>
<rect x="216.73" y="188.88" width="6.09" height="9.0" fill="#88CCEE"/>
<rect x="222.80" y="188.88" width="12.16" height="9.0" fill="#CC6677"/>
<rect x="234.94" y="188.88" width="2.04" height="9.0" fill="#DDCC77"/>
<rect x="236.96" y="188.88" width="16.20" height="9.0" fill="#CC6677"/>
<rect x="253.14" y="188.88" width="2.04" height="9.0" fill="#DDCC77"/>
<rect x="255.16" y="188.88" width="2.04" height="9.0" fill="#CC6677"/>
<rect x="257.19" y="188.88" width="2.04" height="9.0" fill="#DDCC77"/>
<rect x="259.21" y="188.88" width="8.11" height="9.0" fill="#CC6677"/>
<rect x="267.30" y="188.88" width="2.04" height="9.0" fill="#88CCEE"/>
<rect x="269.32" y="188.88" width="2.04" height="9.0" fill="#CC6677"/>
<rect x="271.35" y="188.88" width="10.13" height="9.0" fill="#DDCC77"/>
<rect x="281.46" y="188.88" width="6.09" height="9.0" fill="#CC6677"/>
<rect x="287.53" y="188.88" width="4.07" height="9.0" fill="#DDCC77"/>
<rect x="291.57" y="188.88" width="4.07" height="9.0" fill="#CC6677"/>
<rect x="295.62" y="188.88" width="22.27" height="9.0" fill="#DDCC77"/>
<rect x="317.87" y="188.88" width="2.04" height="9.0" fill="#88CCEE"/>
<rect x="319.89" y="188.88" width="10.13" height="9.0" fill="#DDCC77"/>
<rect x="330.00" y="188.88" width="4.07" height="9.0" fill="#CC6677"/>
<rect x="334.05" y="188.88" width="2.04" height="9.0" fill="#DDCC77"/>
<rect x="336.07" y="188.88" width="6.09" height="9.0" fill="#CC6677"/>
<rect x="342.14" y="188.88" width="2.04" height="9.0" fill="#DDCC77"/>
<rect x="344.16" y="188.88" width="2.04" height="9.0" fill="#CC6677"/>
<rect x="346.19" y="188.88" width="2.04" height="9.0" fill="#88CCEE"/>
<rect x="348.21" y="188.88" width="6.09" height="9.0" fill="#CC6677"/>
<rect x="354.28" y="188.88" width="2.04" height="9.0" fill="#DDCC77"/>
<rect x="356.30" y="188.88" width="2.04" height="9.0" fill="#88CCEE"/>
<rect x="358.32" y="188.88" width="2.04" height="9.0" fill="#CC6677"/>
<rect x="360.35" y="188.88" width="18.22" height="9.0" fill="#DDCC77"/>
<rect x="378.55" y="188.88" width="2.04" height="9.0" fill="#CC6677"/>
<rect x="380.57" y="188.88" width="2.04" height="9.0" fill="#DDCC77"/>
<rect x="382.60" y="188.88" width="2.04" height="9.0" fill="#CC6677"/>
<rect x="384.62" y="188.88" width="4.07" height="9.0" fill="#DDCC77"/>
<rect x="388.66" y="188.88" width="10.13" height="9.0" fill="#CC6677"/>
<rect x="398.78" y="188.88" width="8.11" height="9.0" fill="#DDCC77"/>
<rect x="406.87" y="188.88" width="2.04" height="9.0" fill="#CC6677"/>
<rect x="408.89" y="188.88" width="14.18" height="9.0" fill="#DDCC77"/>
<rect x="423.05" y="188.88" width="2.04" height="9.0" fill="#CC6677"/>
<rect x="425.07" y="188.88" width="4.07" height="9.0" fill="#88CCEE"/>
<rect x="429.12" y="188.88" width="4.07" height="9.0" fill="#CC6677"/>
<rect x="433.16" y="188.88" width="2.04" height="9.0" fill="#88CCEE"/>
<rect x="435.19" y="188.88" width="2.04" height="9.0" fill="#DDCC77"/>
<rect x="437.21" y="188.88" width="2.04" height="9.0" fill="#CC6677"/>
<rect x="439.23" y="188.88" width="6.09" height="9.0" fill="#DDCC77"/>
<rect x="0.30" y="198.85" width="186.11" height="9.0" fill="#BEBEBE"/>
<rect x="186.39" y="198.85" width="4.07" height="9.0" fill="#CC6677"/>
<rect x="190.44" y="198.85" width="2.04" height="9.0" fill="#88CCEE"/>
<rect x="192.46" y="198.85" width="30.36" height="9.0" fill="#CC6677"/>
<rect x="222.80" y="198.85" width="8.11" height="9.0" fill="#88CCEE"/>
<rect x="230.89" y="198.85" width="4.07" height="9.0" fill="#CC6677"/>
<rect x="234.94" y="198.85" width="2.04" height="9.0" fill="#88CCEE"/>
<rect x="236.96" y="198.85" width="20.25" height="9.0" fill="#CC6677"/>
<rect x="257.19" y="198.85" width="4.07" height="9.0" fill="#DDCC77"/>
<rect x="261.23" y="198.85" width="8.11" height="9.0" fill="#CC6677"/>
<rect x="269.32" y="198.85" width="2.04" height="9.0" fill="#88CCEE"/>
<rect x="271.35" y="198.85" width="2.04" height="9.0" fill="#BEBEBE"/>
<rect x="273.37" y="198.85" width="18.22" height="9.0" fill="#CC6677"/>
<rect x="291.57" y="198.85" width="2.04" height="9.0" fill="#88CCEE"/>
<rect x="293.60" y="198.85" width="30.36" height="9.0" fill="#CC6677"/>
<rect x="323.94" y="198.85" width="6.09" height="9.0" fill="#88CCEE"/>
<rect x="330.00" y="198.85" width="2.04" height="9.0" fill="#DDCC77"/>
<rect x="332.03" y="198.85" width="2.04" height="9.0" fill="#CC6677"/>
<rect x="334.05" y="198.85" width="2.04" height="9.0" fill="#DDCC77"/>
<rect x="336.07" y="198.85" width="2.04" height="9.0" fill="#88CCEE"/>
<rect x="338.10" y="198.85" width="22.27" height="9.0" fill="#CC6677"/>
<rect x="360.35" y="198.85" width="2.04" height="9.0" fill="#88CCEE"/>
<rect x="362.37" y="198.85" width="28.34" height="9.0" fill="#CC6677"/>
<rect x="390.69" y="198.85" width="2.04" height="9.0" fill="#88CCEE"/>
<rect x="392.71" y="198.85" width="52.61" height="9.0" fill="#CC6677"/>
<rect x="0.30" y="208.82" width="186.11" height="9.0" fill="#BEBEBE"/>
<rect x="186.39" y="208.82" width="2.04" height="9.0" fill="#CC6677"/>
<rect x="188.41" y="208.82" width="2.04" height="9.0" fill="#88CCEE"/>
<rect x="190.44" y="208.82" width="6.09" height="9.0" fill="#CC6677"/>
<rect x="196.50" y="208.82" width="2.04" height="9.0" fill="#88CCEE"/>
<rect x="198.53" y="208.82" width="44.52" height="9.0" fill="#CC6677"/>
<rect x="243.03" y="208.82" width="4.07" height="9.0" fill="#88CCEE"/>
<rect x="247.07" y="208.82" width="6.09" height="9.0" fill="#CC6677"/>
<rect x="253.14" y="208.82" width="16.20" height="9.0" fill="#88CCEE"/>
<rect x="269.32" y="208.82" width="2.04" height="9.0" fill="#CC6677"/>
<rect x="271.35" y="208.82" width="2.04" height="9.0" fill="#BEBEBE"/>
<rect x="273.37" y="208.82" width="2.04" height="9.0" fill="#CC6677"/>
<rect x="275.39" y="208.82" width="2.04" height="9.0" fill="#88CCEE"/>
<rect x="277.41" y="208.82" width="8.11" height="9.0" fill="#CC6677"/>
<rect x="285.50" y="208.82" width="4.07" height="9.0" fill="#88CCEE"/>
<rect x="289.55" y="208.82" width="10.13" height="9.0" fill="#CC6677"/>
<rect x="299.66" y="208.82" width="2.04" height="9.0" fill="#88CCEE"/>
<rect x="301.69" y="208.82" width="4.07" height="9.0" fill="#CC6677"/>
<rect x="305.73" y="208.82" width="2.04" height="9.0" fill="#88CCEE"/>
<rect x="307.75" y="208.82" width="4.07" height="9.0" fill="#CC6677"/>
<rect x="311.80" y="208.82" width="2.04" height="9.0" fill="#88CCEE"/>
<rect x="313.82" y="208.82" width="16.20" height="9.0" fill="#CC6677"/>
<rect x="330.00" y="208.82" width="2.04" height="9.0" fill="#88CCEE"/>
<rect x="332.03" y="208.82" width="2.04" height="9.0" fill="#CC6677"/>
<rect x="334.05" y="208.82" width="2.04" height="9.0" fill="#88CCEE"/>
<rect x="336.07" y="208.82" width="2.04" height="9.0" fill="#CC6677"/>
<rect x="338.10" y="208.82" width="6.09" height="9.0" fill="#88CCEE"/>
<rect x="344.16" y="208.82" width="2.04" height="9.0" fill="#CC6677"/>
<rect x="346.19" y="208.82" width="14.18" height="9.0" fill="#88CCEE"/>
<rect x="360.35" y="208.82" width="2.04" height="9.0" fill="#CC6677"/>
<rect x="362.37" y="208.82" width="20.25" height="9.0" fill="#88CCEE"/>
<rect x="382.60" y="208.82" width="2.04" height="9.0" fill="#CC6677"/>
<rect x="384.62" y="208.82" width="4.07" height="9.0" fill="#88CCEE"/>
<rect x="388.66" y="208.82" width="8.11" height="9.0" fill="#CC6677"/>
<rect x="396.75" y="208.82" width="14.18" height="9.0" fill="#88CCEE"/>
<rect x="410.91" y="208.82" width="6.09" height="9.0" fill="#CC6677"/>
<rect x="416.98" y="208.82" width="14.18" height="9.0" fill="#88CCEE"/>
<rect x="431.14" y="208.82" width="2.04" height="9.0" fill="#CC6677"/>
<rect x="433.16" y="208.82" width="2.04" height="9.0" fill="#88CCEE"/>
<rect x="435.19" y="208.82" width="2.04" height="9.0" fill="#CC6677"/>
<rect x="437.21" y="208.82" width="6.09" height="9.0" fill="#88CCEE"/>
<rect x="443.28" y="208.82" width="2.04" height="9.0" fill="#CC6677"/>
<rect x="0.30" y="218.79" width="186.11" height="9.0" fill="#BEBEBE"/>
<rect x="186.39" y="218.79" width="2.04" height="9.0" fill="#88CCEE"/>
<rect x="188.41" y="218.79" width="2.04" height="9.0" fill="#BEBEBE"/>
<rect x="190.44" y="218.79" width="2.04" height="9.0" fill="#88CCEE"/>
<rect x="192.46" y="218.79" width="4.07" height="9.0" fill="#CC6677"/>
<rect x="196.50" y="218.79" width="2.04" height="9.0" fill="#BEBEBE"/>
<rect x="198.53" y="218.79" width="24.29" height="9.0" fill="#CC6677"/>
<rect x="222.80" y="218.79" width="10.13" height="9.0" fill="#88CCEE"/>
<rect x="232.91" y="218.79" width="2.04" height="9.0" fill="#CC6677"/>
<rect x="234.94" y="218.79" width="2.04" height="9.0" fill="#88CCEE"/>
<rect x="236.96" y="218.79" width="6.09" height="9.0" fill="#CC6677"/>
<rect x="243.03" y="218.79" width="4.07" height="9.0" fill="#BEBEBE"/>
<rect x="247.07" y="218.79" width="2.04" height="9.0" fill="#88CCEE"/>
<rect x="249.10" y="218.79" width="2.04" height="9.0" fill="#CC6677"/>
<rect x="251.12" y="218.79" width="2.04" height="9.0" fill="#88CCEE"/>
<rect x="253.14" y="218.79" width="16.20" height="9.0" fill="#BEBEBE"/>
<rect x="269.32" y="218.79" width="2.04" height="9.0" fill="#88CCEE"/>
<rect x="271.35" y="218.79" width="2.04" height="9.0" fill="#BEBEBE"/>
<rect x="273.37" y="218.79" width="2.04" height="9.0" fill="#CC6677"/>
<rect x="275.39" y="218.79" width="2.04" height="9.0" fill="#88CCEE"/>
<rect x="277.41" y="218.79" width="8.11" height="9.0" fill="#CC6677"/>
<rect x="285.50" y="218.79" width="4.07" height="9.0" fill="#BEBEBE"/>
<rect x="289.55" y="218.79" width="2.04" height="9.0" fill="#CC6677"/>
<rect x="291.57" y="218.79" width="2.04" height="9.0" fill="#88CCEE"/>
<rect x="293.60" y="218.79" width="4.07" height="9.0" fill="#CC6677"/>
<rect x="297.64" y="218.79" width="4.07" height="9.0" fill="#BEBEBE"/>
<rect x="301.69" y="218.79" width="4.07" height="9.0" fill="#CC6677"/>
<rect x="305.73" y="218.79" width="2.04" height="9.0" fill="#BEBEBE"/>
<rect x="307.75" y="218.79" width="4.07" height="9.0" fill="#CC6677"/>
<rect x="311.80" y="218.79" width="2.04" height="9.0" fill="#BEBEBE"/>
<rect x="313.82" y="218.79" width="6.09" height="9.0" fill="#CC6677"/>
<rect x="319.89" y="218.79" width="2.04" height="9.0" fill="#BEBEBE"/>
<rect x="321.91" y="218.79" width="8.11" height="9.0" fill="#88CCEE"/>
<rect x="330.00" y="218.79" width="2.04" height="9.0" fill="#BEBEBE"/>
<rect x="332.03" y="218.79" width="2.04" height="9.0" fill="#CC6677"/>
<rect x="334.05" y="218.79" width="2.04" height="9.0" fill="#BEBEBE"/>
<rect x="336.07" y="218.79" width="2.04" height="9.0" fill="#88CCEE"/>
<rect x="338.10" y="218.79" width="6.09" height="9.0" fill="#BEBEBE"/>
<rect x="344.16" y="218.79" width="2.04" height="9.0" fill="#CC6677"/>
<rect x="346.19" y="218.79" width="14.18" height="9.0" fill="#BEBEBE"/>
<rect x="360.35" y="218.79" width="2.04" height="9.0" fill="#88CCEE"/>
<rect x="362.37" y="218.79" width="20.25" height="9.0" fill="#BEBEBE"/>
<rect x="382.60" y="218.79" width="2.04" height="9.0" fill="#CC6677"/>
<rect x="384.62" y="218.79" width="4.07" height="9.0" fill="#BEBEBE"/>
<rect x="388.66" y="218.79" width="6.09" height="9.0" fill="#88CCEE"/>
<rect x="394.73" y="218.79" width="2.04" height="9.0" fill="#CC6677"/>
<rect x="396.75" y="218.79" width="14.18" height="9.0" fill="#BEBEBE"/>
<rect x="410.91" y="218.79" width="6.09" height="9.0" fill="#CC6677"/>
<rect x="416.98" y="218.79" width="14.18" height="9.0" fill="#BEBEBE"/>
<rect x="431.14" y="218.79" width="2.04" height="9.0" fill="#CC6677"/>
<rect x="433.16" y="218.79" width="2.04" height="9.0" fill="#BEBEBE"/>
<rect x="435.19" y="218.79" width="2.04" height="9.0" fill="#CC6677"/>
<rect x="437.21" y="218.79" width="6.09" height="9.0" fill="#BEBEBE"/>
<rect x="443.28" y="218.79" width="2.04" height="9.0" fill="#CC6677"/>
<rect x="0.30" y="229.70" width="127.45" height="9.3" fill="#E7298A"/>
<rect x="127.73" y="229.70" width="58.68" height="9.3" fill="#1B9E77"/>
<rect x="186.39" y="229.70" width="2.04" height="9.3" fill="#D95F02"/>
<rect x="188.41" y="229.70" width="2.04" height="9.3" fill="#7570B3"/>
<rect x="190.44" y="229.70" width="6.09" height="9.3" fill="#D95F02"/>
<rect x="196.50" y="229.70" width="2.04" height="9.3" fill="#7570B3"/>
<rect x="198.53" y="229.70" width="36.43" height="9.3" fill="#D95F02"/>
<rect x="234.94" y="229.70" width="2.04" height="9.3" fill="#7570B3"/>
<rect x="236.96" y="229.70" width="20.25" height="9.3" fill="#D95F02"/>
<rect x="257.19" y="229.70" width="4.07" height="9.3" fill="#7570B3"/>
<rect x="261.23" y="229.70" width="2.04" height="9.3" fill="#D95F02"/>
<rect x="263.25" y="229.70" width="6.09" height="9.3" fill="#7570B3"/>
<rect x="269.32" y="229.70" width="2.04" height="9.3" fill="#D95F02"/>
<rect x="271.35" y="229.70" width="2.04" height="9.3" fill="#1B9E77"/>
<rect x="273.37" y="229.70" width="2.04" height="9.3" fill="#D95F02"/>
<rect x="275.39" y="229.70" width="2.04" height="9.3" fill="#7570B3"/>
<rect x="277.41" y="229.70" width="34.41" height="9.3" fill="#D95F02"/>
<rect x="311.80" y="229.70" width="2.04" height="9.3" fill="#7570B3"/>
<rect x="313.82" y="229.70" width="4.07" height="9.3" fill="#D95F02"/>
<rect x="317.87" y="229.70" width="4.07" height="9.3" fill="#7570B3"/>
<rect x="321.91" y="229.70" width="6.09" height="9.3" fill="#D95F02"/>
<rect x="327.98" y="229.70" width="4.07" height="9.3" fill="#7570B3"/>
<rect x="332.03" y="229.70" width="2.04" height="9.3" fill="#D95F02"/>
<rect x="334.05" y="229.70" width="2.04" height="9.3" fill="#7570B3"/>
<rect x="336.07" y="229.70" width="2.04" height="9.3" fill="#D95F02"/>
<rect x="338.10" y="229.70" width="6.09" height="9.3" fill="#7570B3"/>
<rect x="344.16" y="229.70" width="2.04" height="9.3" fill="#D95F02"/>
<rect x="346.19" y="229.70" width="14.18" height="9.3" fill="#7570B3"/>
<rect x="360.35" y="229.70" width="2.04" height="9.3" fill="#D95F02"/>
<rect x="362.37" y="229.70" width="16.20" height="9.3" fill="#7570B3"/>
<rect x="378.55" y="229.70" width="2.04" height="9.3" fill="#D95F02"/>
<rect x="380.57" y="229.70" width="2.04" height="9.3" fill="#7570B3"/>
<rect x="382.60" y="229.70" width="2.04" height="9.3" fill="#D95F02"/>
<rect x="384.62" y="229.70" width="2.04" height="9.3" fill="#7570B3"/>
<rect x="386.64" y="229.70" width="12.16" height="9.3" fill="#D95F02"/>
<rect x="398.78" y="229.70" width="12.16" height="9.3" fill="#7570B3"/>
<rect x="410.91" y="229.70" width="6.09" height="9.3" fill="#D95F02"/>
<rect x="416.98" y="229.70" width="12.16" height="9.3" fill="#7570B3"/>
<rect x="429.12" y="229.70" width="4.07" height="9.3" fill="#D95F02"/>
<rect x="433.16" y="229.70" width="2.04" height="9.3" fill="#7570B3"/>
<rect x="435.19" y="229.70" width="2.04" height="9.3" fill="#D95F02"/>
<rect x="437.21" y="229.70" width="6.09" height="9.3" fill="#7570B3"/>
<rect x="443.28" y="229.70" width="2.04" height="9.3" fill="#D95F02"/>
<g font-size="11.6" fill="#000">
<text x="447.4" y="157.60">Sex</text>
<text x="447.4" y="167.57">Lateral</text>
<text x="447.4" y="177.54">Sample</text>
<text x="447.4" y="187.51">Germline Type</text>
<text x="447.4" y="197.48">ICR Status</text>
<text x="447.4" y="207.45">Histology</text>
<text x="447.4" y="217.42">Neoadjuvant</text>
<text x="447.4" y="227.39">SIOP Histology Risk</text>
<text x="447.4" y="238.30">Molecular Identity</text>
</g>
<path d="M3.33 149.00V117.63H5.36V149.00M1.31 149.00V116.90H4.35V117.63M9.40 149.00V120.96H11.43V149.00M7.38 149.00V119.54H10.41V120.96M17.49 149.00V118.82H19.52V149.00M15.47 149.00V118.67H18.50V118.82M13.45 149.00V117.71H16.99V118.67M23.56 149.00V120.29H25.58V149.00M21.54 149.00V118.47H24.57V120.29M27.61 149.00V121.68H29.63V149.00M28.62 121.68V120.69H31.65V149.00M23.06 118.47V117.02H30.14V120.69M15.22 117.71V116.78H26.60V117.02M8.90 119.54V116.29H20.91V116.78M37.72 149.00V126.99H39.74V149.00M35.70 149.00V120.14H38.73V126.99M41.77 149.00V127.33H43.79V149.00M37.21 120.14V116.76H42.78V127.33M40.00 116.76V116.66H45.81V149.00M33.67 149.00V115.80H42.90V116.66M14.90 116.29V115.53H38.29V115.80M47.83 149.00V127.93H49.86V149.00M51.88 149.00V118.92H53.90V149.00M52.89 118.92V117.53H55.93V149.00M57.95 149.00V124.54H59.97V149.00M54.41 117.53V116.83H58.96V124.54M56.68 116.83V115.85H61.99V149.00M48.85 127.93V115.69H59.34V115.85M54.09 115.69V115.18H64.02V149.00M26.60 115.53V114.56H59.05V115.18M68.06 149.00V123.64H70.08V149.00M66.04 149.00V123.20H69.07V123.64M67.56 123.20V117.79H72.11V149.00M69.83 117.79V117.58H74.13V149.00M76.15 149.00V117.17H78.18V149.00M82.22 149.00V117.69H84.24V149.00M80.20 149.00V117.22H83.23V117.69M77.16 117.17V116.94H81.71V117.22M71.98 117.58V116.27H79.44V116.94M86.27 149.00V118.36H88.29V149.00M75.71 116.27V116.20H87.28V118.36M90.31 149.00V122.76H92.33V149.00M81.49 116.20V116.12H91.32V122.76M86.41 116.12V115.02H94.36V149.00M42.82 114.56V113.90H90.38V115.02M100.43 149.00V117.12H102.45V149.00M101.44 117.12V116.56H104.47V149.00M98.40 149.00V116.45H102.95V116.56M96.38 149.00V115.83H100.68V116.45M98.53 115.83V115.27H106.49V149.00M43.12 113.90V112.25H99.00V115.27M2.20 116.90V110.80H61.50V112.25M112.56 149.00V122.18H114.58V149.00M113.57 122.18V119.96H116.61V149.00M110.54 149.00V119.50H115.09V119.96M108.52 149.00V113.83H112.81V119.50M109.50 113.83V111.20H118.63V149.00M32.00 110.80V108.10H113.40V111.20M122.68 149.00V119.26H124.70V149.00M123.69 119.26V114.51H126.72V149.00M120.65 149.00V113.09H125.20V114.51M72.20 108.10V104.60H122.50V113.09M136.83 149.00V121.94H138.86V149.00M134.81 149.00V118.40H138.40V121.94M142.90 149.00V131.04H144.93V149.00M140.88 149.00V125.25H143.91V131.04M142.40 125.25V123.50H146.95V149.00M136.61 118.40V116.55H144.67V123.50M148.97 149.00V121.46H150.99V149.00M149.98 121.46V119.19H153.02V149.00M155.04 149.00V118.84H157.06V149.00M161.11 149.00V123.00H163.13V149.00M162.12 123.00V121.45H165.15V149.00M167.18 149.00V123.39H169.20V149.00M168.19 123.39V121.92H171.22V149.00M169.70 121.92V121.82H173.24V149.00M163.64 121.45V120.74H171.47V121.82M177.29 149.00V123.92H179.31V149.00M178.30 123.92V123.30H181.33V149.00M179.82 123.30V122.05H183.36V149.00M175.27 149.00V119.60H182.50V122.05M167.55 120.74V118.27H178.88V119.60M159.08 149.00V117.40H178.58V118.27M156.05 118.84V116.84H168.83V117.40M151.50 119.19V116.27H162.44V116.84M136.91 116.55V114.50H162.14V116.27M132.79 149.00V113.12H149.52V114.50M130.77 149.00V112.30H149.22V113.12M185.38 149.00V121.20H187.40V149.00M141.50 112.30V107.40H186.90V121.20M128.74 149.00V101.40H164.40V107.40M195.49 149.00V114.40H197.52V149.00M193.47 149.00V112.60H196.50V114.40M191.45 149.00V110.30H196.20V112.60M189.43 149.00V105.30H193.50V110.30M191.46 105.30V99.38H199.54V149.00M205.61 149.00V128.69H207.63V149.00M203.58 149.00V122.21H206.62V128.69M205.10 122.21V120.03H209.65V149.00M201.56 149.00V117.30H209.35V120.03M211.68 149.00V114.74H213.70V149.00M205.46 117.30V113.73H212.69V114.74M205.76 113.73V111.30H215.72V149.00M210.74 111.30V108.29H217.74V149.00M211.04 108.29V106.30H219.77V149.00M225.83 149.00V123.01H227.86V149.00M223.81 149.00V120.00H227.00V123.01M221.79 149.00V110.33H225.41V120.00M215.50 106.30V100.30H225.11V110.33M191.76 99.38V95.90H220.70V100.30M233.93 149.00V123.11H235.95V149.00M231.90 149.00V119.94H234.94V123.11M229.88 149.00V111.50H234.64V119.94M237.97 149.00V118.81H239.99V149.00M232.26 111.50V109.52H238.98V118.81M233.30 109.52V108.50H242.02V149.00M244.04 149.00V119.43H246.06V149.00M237.66 108.50V107.55H245.05V119.43M237.96 107.55V104.90H248.08V149.00M254.15 149.00V123.74H256.18V149.00M252.13 149.00V110.00H255.88V123.74M250.11 149.00V109.34H254.00V110.00M258.20 149.00V112.71H260.22V149.00M252.05 109.34V108.45H259.21V112.71M262.24 149.00V126.09H264.27V149.00M263.25 126.09V125.46H266.29V149.00M270.33 149.00V118.00H272.36V149.00M268.31 149.00V113.00H270.63V118.00M263.55 125.46V109.10H269.00V113.00M253.40 108.45V107.50H265.10V109.10M242.60 104.90V103.20H259.60V107.50M205.90 95.90V92.30H251.20V103.20M274.38 149.00V116.10H276.40V149.00M278.43 149.00V124.78H280.45V149.00M282.47 149.00V123.98H284.49V149.00M279.44 124.78V120.18H283.48V123.98M281.46 120.18V117.19H286.52V149.00M275.39 116.10V115.45H283.99V117.19M276.20 115.45V112.40H288.54V149.00M290.56 149.00V124.06H292.58V149.00M282.37 112.40V109.00H291.57V124.06M294.61 149.00V118.35H296.63V149.00M302.70 149.00V124.10H304.72V149.00M300.68 149.00V123.96H303.71V124.10M306.74 149.00V129.19H308.77V149.00M302.19 123.96V119.74H307.75V129.19M298.65 149.00V112.60H307.45V119.74M295.62 118.35V111.57H303.05V112.60M282.67 109.00V106.35H302.75V111.57M293.20 106.35V102.80H310.79V149.00M301.90 102.80V99.80H312.81V149.00M316.86 149.00V94.30H318.88V149.00M314.83 149.00V91.11H317.87V94.30M307.50 99.80V87.30H317.30V91.11M229.00 92.30V80.00H312.30V87.30M146.40 101.40V73.30H270.30V80.00M322.93 149.00V104.65H324.95V149.00M328.99 149.00V123.84H331.02V149.00M326.97 149.00V91.50H330.72V123.84M323.94 104.65V89.21H328.84V91.50M320.90 149.00V87.50H328.54V89.21M325.50 87.50V85.50H333.04V149.00M339.11 149.00V105.44H341.13V149.00M343.15 149.00V86.10H345.18V149.00M344.16 86.10V85.39H347.20V149.00M344.50 85.39V81.50H349.22V149.00M340.12 105.44V79.44H346.86V81.50M337.08 149.00V75.50H342.40V79.44M335.06 149.00V74.82H339.74V75.50M329.50 85.50V73.70H339.10V74.82M357.31 149.00V78.50H359.33V149.00M355.29 149.00V75.45H357.80V78.50M353.27 149.00V73.50H356.30V75.45M351.24 149.00V72.10H354.78V73.50M334.30 73.70V67.70H354.48V72.10M344.30 67.70V64.20H361.36V149.00M371.47 149.00V106.60H373.49V149.00M369.45 149.00V86.40H372.30V106.60M367.43 149.00V84.90H370.50V86.40M365.40 149.00V81.60H368.30V84.90M363.38 149.00V78.60H366.80V81.60M377.54 149.00V111.31H379.56V149.00M378.55 111.31V109.28H381.58V149.00M378.85 109.28V104.61H383.61V149.00M381.23 104.61V104.18H385.63V149.00M381.53 104.18V102.10H387.65V149.00M384.59 102.10V101.25H389.68V149.00M384.89 101.25V99.30H391.70V149.00M395.74 149.00V123.97H397.77V149.00M393.72 149.00V100.40H397.47V123.97M387.10 99.30V95.30H396.70V100.40M391.90 95.30V93.15H399.79V149.00M405.86 149.00V128.13H407.88V149.00M403.83 149.00V94.40H407.58V128.13M401.81 149.00V92.89H405.71V94.40M392.20 93.15V91.70H405.41V92.89M409.90 149.00V108.92H411.93V149.00M413.95 149.00V112.15H415.97V149.00M410.91 108.92V100.17H414.96V112.15M398.80 91.70V91.14H412.94V100.17M417.99 149.00V123.88H420.02V149.00M419.00 123.88V102.98H422.04V149.00M420.52 102.98V102.81H424.06V149.00M428.11 149.00V118.93H430.13V149.00M432.15 149.00V118.85H434.18V149.00M429.12 118.93V116.35H433.16V118.85M426.08 149.00V92.90H432.86V116.35M422.29 102.81V91.17H429.47V92.90M399.10 91.14V89.40H429.17V91.17M414.50 89.40V85.40H436.20V149.00M425.40 85.40V82.80H438.22V149.00M375.52 149.00V79.30H431.90V82.80M364.50 78.60V73.80H403.60V79.30M384.40 73.80V71.80H440.24V149.00M412.40 71.80V67.30H442.27V149.00M427.70 67.30V65.00H444.29V149.00M352.30 64.20V56.60H434.70V65.00M209.00 73.30V40.80H394.50V56.60M97.50 104.60V0.50H301.40V40.80" fill="none" stroke="#3a3a3a" stroke-width="0.75"/>
<g font-size="39.2" fill="#000" stroke="#000" stroke-width="0.45">
<path d="M81.1 37.1V64.2H76.9V44.3C75.3 45.9 72.9 47 70.4 47.4V43.9C74 43.2 76.6 40.6 77.5 37.1Z" stroke="none"/>
<text x="120.3" y="92.6">2</text>
<text x="273.3" y="77">3</text>
<text x="400.6" y="52.8">4</text>
</g>
<text x="478.4" y="261.4" font-size="11.7" font-weight="bold">Sex</text>
<rect x="480" y="269.2" width="12.9" height="12.6" fill="#88CCEE"/>
<rect x="480" y="284" width="12.9" height="12.3" fill="#CC6677"/>
<text x="499.6" y="279.1" font-size="11.6">Male</text>
<text x="499.6" y="292.6" font-size="11.6">Female</text>
<text x="597.6" y="261.2" font-size="11.7" font-weight="bold">Lateral</text>
<rect x="597.6" y="268.00" width="12.7" height="12.4" fill="#88CCEE"/>
<text x="614.2" y="278.70" font-size="11.6">Unilateral</text>
<rect x="597.6" y="281.80" width="12.7" height="12.4" fill="#CC6677"/>
<text x="614.2" y="292.50" font-size="11.6">Bilateral</text>
<text x="479.2" y="317.8" font-size="11.7" font-weight="bold">GermlineType</text>
<rect x="479.2" y="325.40" width="12.7" height="12.4" fill="#88CCEE"/>
<text x="495.6" y="336.10" font-size="11.6">G1-Blood</text>
<rect x="479.2" y="338.90" width="12.7" height="12.4" fill="#CC6677"/>
<text x="495.6" y="349.60" font-size="11.6">G2-Kidney</text>
<text x="597.6" y="319.6" font-size="11.7" font-weight="bold">Neoadjuvant</text>
<rect x="597.6" y="326.90" width="12.7" height="12.4" fill="#88CCEE"/>
<text x="614.0" y="337.60" font-size="11.6">No</text>
<rect x="597.6" y="340.80" width="12.7" height="12.4" fill="#CC6677"/>
<text x="614.0" y="351.50" font-size="11.6">Yes</text>
<text x="479.2" y="376.6" font-size="11.7" font-weight="bold">Histology</text>
<rect x="479.2" y="383.90" width="12.7" height="12.4" fill="#88CCEE"/>
<text x="495.6" y="394.60" font-size="11.6">DA</text>
<rect x="479.2" y="397.40" width="12.7" height="12.4" fill="#DDCC77"/>
<text x="495.6" y="408.10" font-size="11.6">FA</text>
<rect x="479.2" y="410.90" width="12.7" height="12.4" fill="#CC6677"/>
<text x="495.6" y="421.60" font-size="11.6">FH</text>
<text x="597.6" y="378.5" font-size="11.7" font-weight="bold">ICR Status</text>
<rect x="597.6" y="384.60" width="12.7" height="12.4" fill="#88CCEE"/>
<text x="614.2" y="395.30" font-size="11.6">ROI</text>
<rect x="597.6" y="398.10" width="12.7" height="12.4" fill="#DDCC77"/>
<text x="614.2" y="408.80" font-size="11.6">LOH</text>
<rect x="597.6" y="411.60" width="12.7" height="12.4" fill="#CC6677"/>
<text x="614.2" y="422.30" font-size="11.6">LOI</text>
<text x="479.2" y="448.9" font-size="11.7" font-weight="bold">MolecularIdentity</text>
<rect x="479.2" y="455.90" width="12.7" height="12.4" fill="#E7298A"/>
<text x="495.90000000000003" y="466.60" font-size="11.6">Normal−Blood</text>
<rect x="479.2" y="469.33" width="12.7" height="12.4" fill="#1B9E77"/>
<text x="495.90000000000003" y="480.03" font-size="11.6">Normal−Kidney</text>
<rect x="479.2" y="482.76" width="12.7" height="12.4" fill="#D95F02"/>
<text x="495.90000000000003" y="493.46" font-size="11.6">Tumor−Bilateral</text>
<rect x="479.2" y="496.19" width="12.7" height="12.4" fill="#7570B3"/>
<text x="495.90000000000003" y="506.89" font-size="11.6">Tumor−Unilateral</text>
<text x="597.6" y="449.4" font-size="11.7" font-weight="bold">Sample</text>
<rect x="597.6" y="456.00" width="12.7" height="12.4" fill="#88CCEE"/>
<text x="613.8000000000001" y="466.70" font-size="11.6">G</text>
<rect x="597.6" y="469.20" width="12.7" height="12.4" fill="#CC6677"/>
<text x="613.8000000000001" y="479.90" font-size="11.6">D</text>
<rect x="597.6" y="482.40" width="12.7" height="12.4" fill="#DDCC77"/>
<text x="613.8000000000001" y="493.10" font-size="11.6">X</text>
<text x="479.2" y="534.6" font-size="11.7" font-weight="bold">SIOP Histology Risk</text>
<rect x="479.2" y="542.10" width="12.7" height="12.4" fill="#88CCEE"/>
<text x="495.90000000000003" y="552.80" font-size="11.6">High</text>
<rect x="479.2" y="555.30" width="12.7" height="12.4" fill="#CC6677"/>
<text x="495.90000000000003" y="566.00" font-size="11.6">Intermediate</text>
<text x="634.2" y="567.1" font-size="12.6">M values</text>
<defs><linearGradient id="mg" x1="0" y1="1" x2="0" y2="0">
<stop offset="0.000" stop-color="#87ceeb"/>
<stop offset="0.025" stop-color="#8dd0eb"/>
<stop offset="0.050" stop-color="#93d1eb"/>
<stop offset="0.075" stop-color="#99d3ec"/>
<stop offset="0.100" stop-color="#9ed4ec"/>
<stop offset="0.125" stop-color="#a4d6ec"/>
<stop offset="0.150" stop-color="#a9d8ec"/>
<stop offset="0.175" stop-color="#afd9ec"/>
<stop offset="0.200" stop-color="#b4dbec"/>
<stop offset="0.225" stop-color="#b9dcec"/>
<stop offset="0.250" stop-color="#bedeed"/>
<stop offset="0.275" stop-color="#c3e0ed"/>
<stop offset="0.300" stop-color="#c8e1ed"/>
<stop offset="0.325" stop-color="#cde3ed"/>
<stop offset="0.350" stop-color="#d2e4ed"/>
<stop offset="0.375" stop-color="#d7e6ed"/>
<stop offset="0.400" stop-color="#dbe8ed"/>
<stop offset="0.425" stop-color="#e0e9ee"/>
<stop offset="0.450" stop-color="#e5ebee"/>
<stop offset="0.475" stop-color="#e9ecee"/>
<stop offset="0.500" stop-color="#eeeeee"/>
<stop offset="0.525" stop-color="#f3e5e2"/>
<stop offset="0.550" stop-color="#f7ddd6"/>
<stop offset="0.575" stop-color="#fbd4ca"/>
<stop offset="0.600" stop-color="#feccbe"/>
<stop offset="0.625" stop-color="#ffc3b3"/>
<stop offset="0.650" stop-color="#ffbaa7"/>
<stop offset="0.675" stop-color="#ffb19c"/>
<stop offset="0.700" stop-color="#ffa890"/>
<stop offset="0.725" stop-color="#ff9f85"/>
<stop offset="0.750" stop-color="#ff967a"/>
<stop offset="0.775" stop-color="#ff8c6f"/>
<stop offset="0.800" stop-color="#ff8364"/>
<stop offset="0.825" stop-color="#ff7959"/>
<stop offset="0.850" stop-color="#ff6e4e"/>
<stop offset="0.875" stop-color="#ff6343"/>
<stop offset="0.900" stop-color="#ff5837"/>
<stop offset="0.925" stop-color="#ff4b2c"/>
<stop offset="0.950" stop-color="#ff3c20"/>
<stop offset="0.975" stop-color="#ff2812"/>
<stop offset="1.000" stop-color="#ff0000"/>
</linearGradient></defs>
<rect x="633.9" y="574.9" width="8.4" height="63" fill="url(#mg)"/>
<line x1="633.9" y1="576.5" x2="635.6" y2="576.5" stroke="#fff" stroke-width="0.6"/>
<line x1="640.6" y1="576.5" x2="642.3" y2="576.5" stroke="#fff" stroke-width="0.6"/>
<line x1="633.9" y1="591.4" x2="635.6" y2="591.4" stroke="#fff" stroke-width="0.6"/>
<line x1="640.6" y1="591.4" x2="642.3" y2="591.4" stroke="#fff" stroke-width="0.6"/>
<line x1="633.9" y1="606.2" x2="635.6" y2="606.2" stroke="#fff" stroke-width="0.6"/>
<line x1="640.6" y1="606.2" x2="642.3" y2="606.2" stroke="#fff" stroke-width="0.6"/>
<line x1="633.9" y1="621.1" x2="635.6" y2="621.1" stroke="#fff" stroke-width="0.6"/>
<line x1="640.6" y1="621.1" x2="642.3" y2="621.1" stroke="#fff" stroke-width="0.6"/>
<line x1="633.9" y1="636.0" x2="635.6" y2="636.0" stroke="#fff" stroke-width="0.6"/>
<line x1="640.6" y1="636.0" x2="642.3" y2="636.0" stroke="#fff" stroke-width="0.6"/>
<text x="665.2" y="581" font-size="12.5" text-anchor="end">40</text>
<text x="665.2" y="595.8" font-size="12.5" text-anchor="end">20</text>
<text x="665.2" y="610.5" font-size="12.5" text-anchor="end">0</text>
<text x="665.2" y="625.5" font-size="12.5" text-anchor="end">−20</text>
<text x="665.2" y="640.6" font-size="12.5" text-anchor="end">−40</text>
</svg>
</body></html>
